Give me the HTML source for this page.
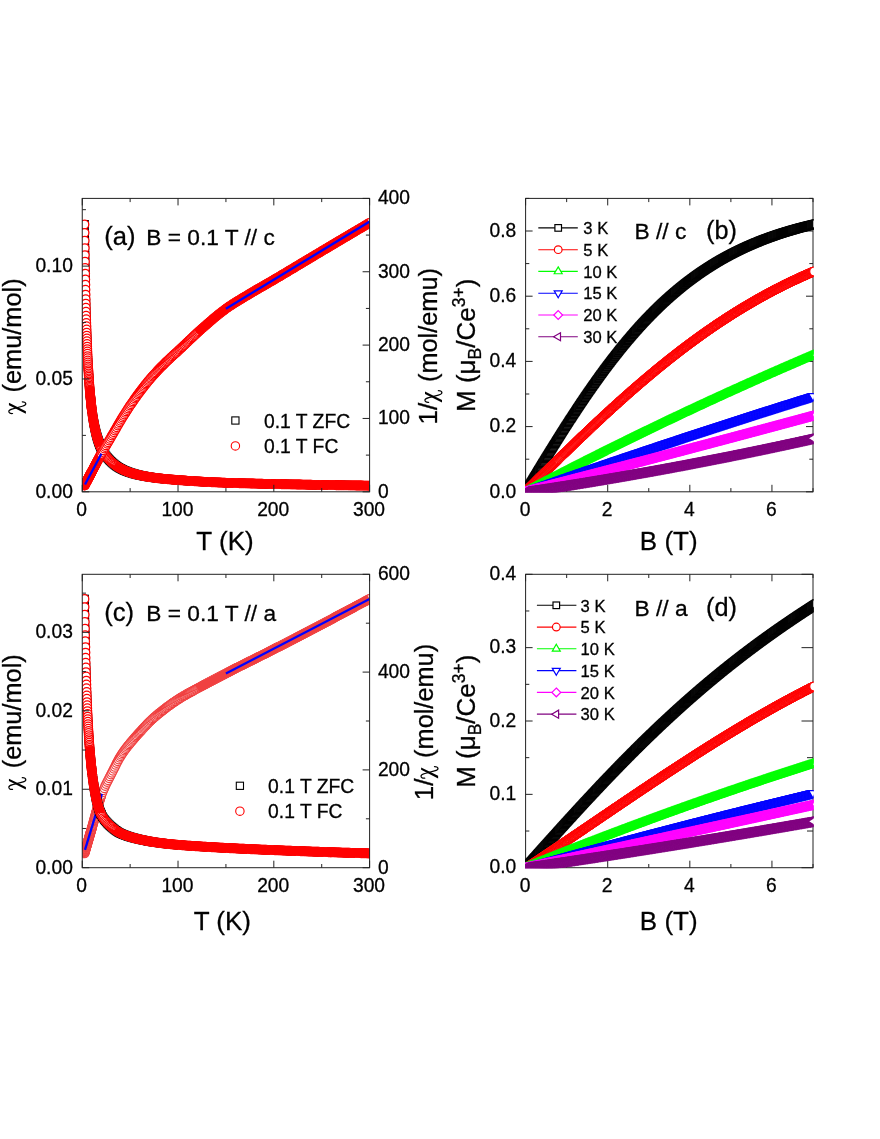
<!DOCTYPE html>
<html><head><meta charset="utf-8"><title>Figure</title>
<style>
html,body{margin:0;padding:0;background:#fff;}
svg{display:block;font-family:"Liberation Sans", sans-serif;fill:#000;}
text{stroke:#000;stroke-width:0.3px;}
</style></head>
<body>
<svg width="880" height="1139" viewBox="0 0 880 1139">
<rect width="880" height="1139" fill="#fff"/>
<defs><marker id="mSq" markerWidth="16" markerHeight="16" refX="8" refY="8" markerUnits="userSpaceOnUse"><rect x="4.25" y="4.25" width="7.5" height="7.5" fill="#fff" stroke="#000" stroke-width="1.25"/></marker><marker id="mCi" markerWidth="16" markerHeight="16" refX="8" refY="8" markerUnits="userSpaceOnUse"><circle cx="8" cy="8" r="4.3" fill="#fff" stroke="#f00" stroke-width="1.25"/></marker><marker id="mCl" markerWidth="16" markerHeight="16" refX="8" refY="8" markerUnits="userSpaceOnUse"><circle cx="8" cy="8" r="4.3" fill="#fff" stroke="#f04040" stroke-width="1.25"/></marker><marker id="mUp" markerWidth="16" markerHeight="16" refX="8" refY="8" markerUnits="userSpaceOnUse"><path d="M8 3.4L12 10.3L4 10.3Z" fill="#fff" stroke="#0f0" stroke-width="1.25"/></marker><marker id="mDn" markerWidth="16" markerHeight="16" refX="8" refY="8" markerUnits="userSpaceOnUse"><path d="M8 13L12.3 5.6L3.7 5.6Z" fill="#fff" stroke="#00f" stroke-width="1.25"/></marker><marker id="mDi" markerWidth="16" markerHeight="16" refX="8" refY="8" markerUnits="userSpaceOnUse"><path d="M8 3.5L12.5 8L8 12.5L3.5 8Z" fill="#fff" stroke="#f0f" stroke-width="1.25"/></marker><marker id="mLt" markerWidth="16" markerHeight="16" refX="8" refY="8" markerUnits="userSpaceOnUse"><path d="M3 8L10.5 3.5L10.5 12.5Z" fill="#fff" stroke="#800080" stroke-width="1.25"/></marker><g id="chi"><path d="M0.2 5.3L2.8 5.3L11.3 -12L8.9 -12Z" fill="#000"/><path d="M0.4 -8.3C0.2 -10.8 1.2 -12.2 2.7 -12.1C4.1 -12 4.6 -10.4 5.2 -8.1L7.8 1.6C8.4 3.9 9 5.3 10.3 5.2C11.6 5.1 12.3 3.6 12.3 1.6" fill="none" stroke="#000" stroke-width="1.25" stroke-linecap="round"/></g><clipPath id="clipa"><rect x="82.25" y="198.4" width="287.35" height="293.4"/></clipPath><clipPath id="clipb"><rect x="525" y="197.8" width="288.6" height="294.6"/></clipPath><clipPath id="clipc"><rect x="82.25" y="574.3" width="287.35" height="293.4"/></clipPath><clipPath id="clipd"><rect x="525" y="573.7" width="288.6" height="294.6"/></clipPath></defs>
<g opacity="0.999">
<g clip-path="url(#clipa)">
<polyline points="84.5,224.4 84.6,232.8 84.7,240.7 84.8,248.1 84.9,255.1 85,261.7 85.1,267.9 85.2,273.8 85.3,279.4 85.4,284.8 85.5,289.8 85.6,294.6 85.7,299.2 85.8,303.6 85.9,307.8 86,311.8 86.1,315.7 86.2,319.3 86.3,322.9 86.5,326.2 86.6,329.5 86.7,332.6 86.8,335.6 86.9,338.5 87,341.3 87.1,344 87.2,346.6 87.3,349.1 87.4,351.5 87.5,353.8 87.6,356.1 87.7,358.3 87.8,360.4 87.9,362.5 88,364.4 88.1,366.4 88.2,368.2 88.4,370.1 88.5,371.8 88.6,373.5 88.7,375.2 88.8,376.8 88.9,378.4 89,379.9 89.1,381.4 89.2,382.8 89.3,384.3 89.4,385.6 89.5,387 89.6,388.3 89.7,389.6 89.8,390.8 89.9,392 90,393.2 90.1,394.4 90.2,395.5 90.4,396.6 90.5,397.7 90.6,398.7 90.7,399.7 90.8,400.8 90.9,401.7 91,402.7 91.1,403.6 91.2,404.6 91.3,405.5 91.4,406.4 91.5,407.2 91.6,408.1 91.7,408.9 91.8,409.7 92.1,411.5 92.3,413.3 92.5,414.9 92.8,416.5 93,418 93.3,419.5 93.5,420.9 93.7,422.3 94,423.6 94.2,424.8 94.5,426 94.7,427.2 94.9,428.3 95.2,429.4 95.4,430.5 95.7,431.5 95.9,432.5 96.1,433.4 96.4,434.4 96.6,435.3 96.9,436.1 97.1,436.9 97.3,437.8 97.6,438.5 97.8,439.3 98.1,440 98.3,440.8 98.5,441.5 98.8,442.1 99,442.8 99.3,443.4 99.5,444 99.7,444.6 100,445.2 100.2,445.8 100.4,446.3 100.7,446.9 100.9,447.4 101.2,447.9 101.4,448.4 102.4,450.2 103.3,451.9 104.3,453.4 105.2,454.8 106.2,456.1 107.2,457.3 108.1,458.4 109.1,459.5 110,460.5 111,461.4 111.9,462.3 112.9,463.2 113.9,464 114.8,464.8 115.8,465.5 116.7,466.2 117.7,466.8 118.6,467.4 119.6,468 120.6,468.5 121.5,469 122.5,469.5 123.4,470 124.4,470.4 125.4,470.8 126.3,471.2 127.3,471.6 128.2,471.9 129.2,472.3 130.1,472.6 131.1,472.9 132.1,473.2 133,473.5 134,473.8 134.9,474 135.9,474.3 136.8,474.5 137.8,474.8 138.8,475 139.7,475.2 140.7,475.4 141.6,475.6 142.6,475.8 143.6,476 144.5,476.2 145.5,476.4 146.4,476.5 147.4,476.7 148.3,476.8 149.3,477 150.3,477.1 151.2,477.3 152.2,477.4 153.1,477.6 154.1,477.7 155,477.8 156,477.9 157,478.1 157.9,478.2 158.9,478.3 159.8,478.4 160.8,478.5 161.8,478.6 162.7,478.7 163.7,478.8 164.6,478.9 165.6,479 166.5,479.1 167.5,479.2 168.5,479.3 169.4,479.3 170.4,479.4 171.3,479.5 172.3,479.6 173.2,479.7 174.2,479.7 175.2,479.8 176.1,479.9 177.1,480 178,480 179,480.1 179.9,480.2 180.9,480.3 181.9,480.3 182.8,480.4 183.8,480.5 184.7,480.5 185.7,480.6 186.7,480.7 187.6,480.8 188.6,480.8 189.5,480.9 190.5,481 191.4,481 192.4,481.1 193.4,481.1 194.3,481.2 195.3,481.3 196.2,481.3 197.2,481.4 198.1,481.4 199.1,481.5 200.1,481.5 201,481.6 202,481.7 202.9,481.7 203.9,481.8 204.9,481.8 205.8,481.9 206.8,481.9 207.7,482 208.7,482 209.6,482.1 210.6,482.1 211.6,482.2 212.5,482.2 213.5,482.2 214.4,482.3 215.4,482.3 216.3,482.4 217.3,482.4 218.3,482.5 219.2,482.5 220.2,482.5 221.1,482.6 222.1,482.6 223.1,482.6 224,482.7 225,482.7 225.9,482.8 226.9,482.8 227.8,482.8 228.8,482.9 229.8,482.9 230.7,482.9 231.7,482.9 232.6,483 233.6,483 234.5,483 235.5,483.1 236.5,483.1 237.4,483.1 238.4,483.1 239.3,483.2 240.3,483.2 241.3,483.2 242.2,483.2 243.2,483.3 244.1,483.3 245.1,483.3 246,483.3 247,483.4 248,483.4 248.9,483.4 249.9,483.4 250.8,483.5 251.8,483.5 252.7,483.5 253.7,483.5 254.7,483.6 255.6,483.6 256.6,483.6 257.5,483.6 258.5,483.7 259.4,483.7 260.4,483.7 261.4,483.7 262.3,483.7 263.3,483.8 264.2,483.8 265.2,483.8 266.2,483.8 267.1,483.8 268.1,483.9 269,483.9 270,483.9 270.9,483.9 271.9,483.9 272.9,484 273.8,484 274.8,484 275.7,484 276.7,484.1 277.6,484.1 278.6,484.1 279.6,484.1 280.5,484.1 281.5,484.2 282.4,484.2 283.4,484.2 284.4,484.2 285.3,484.2 286.3,484.3 287.2,484.3 288.2,484.3 289.1,484.3 290.1,484.3 291.1,484.4 292,484.4 293,484.4 293.9,484.4 294.9,484.4 295.8,484.4 296.8,484.5 297.8,484.5 298.7,484.5 299.7,484.5 300.6,484.5 301.6,484.6 302.6,484.6 303.5,484.6 304.5,484.6 305.4,484.6 306.4,484.6 307.3,484.7 308.3,484.7 309.3,484.7 310.2,484.7 311.2,484.7 312.1,484.8 313.1,484.8 314,484.8 315,484.8 316,484.8 316.9,484.8 317.9,484.9 318.8,484.9 319.8,484.9 320.8,484.9 321.7,484.9 322.7,484.9 323.6,485 324.6,485 325.5,485 326.5,485 327.5,485 328.4,485 329.4,485 330.3,485.1 331.3,485.1 332.2,485.1 333.2,485.1 334.2,485.1 335.1,485.1 336.1,485.2 337,485.2 338,485.2 338.9,485.2 339.9,485.2 340.9,485.2 341.8,485.2 342.8,485.3 343.7,485.3 344.7,485.3 345.7,485.3 346.6,485.3 347.6,485.3 348.5,485.3 349.5,485.4 350.4,485.4 351.4,485.4 352.4,485.4 353.3,485.4 354.3,485.4 355.2,485.4 356.2,485.5 357.1,485.5 358.1,485.5 359.1,485.5 360,485.5 361,485.5 361.9,485.5 362.9,485.6 363.9,485.6 364.8,485.6 365.8,485.6 366.7,485.6 367.7,485.6 368.6,485.6 369.6,485.6 370.6,485.7 371.5,485.7 372.5,485.7 373.4,485.7 374.4,485.7 375.3,485.7" fill="none" stroke="none" marker-start="url(#mSq)" marker-mid="url(#mSq)" marker-end="url(#mSq)"/>
<polyline points="84.5,224.4 84.6,232.8 84.7,240.7 84.8,248.1 84.9,255.1 85,261.7 85.1,267.9 85.2,273.8 85.3,279.4 85.4,284.8 85.5,289.8 85.6,294.6 85.7,299.2 85.8,303.6 85.9,307.8 86,311.8 86.1,315.7 86.2,319.3 86.3,322.9 86.5,326.2 86.6,329.5 86.7,332.6 86.8,335.6 86.9,338.5 87,341.3 87.1,344 87.2,346.6 87.3,349.1 87.4,351.5 87.5,353.8 87.6,356.1 87.7,358.3 87.8,360.4 87.9,362.5 88,364.4 88.1,366.4 88.2,368.2 88.4,370.1 88.5,371.8 88.6,373.5 88.7,375.2 88.8,376.8 88.9,378.4 89,379.9 89.1,381.4 89.2,382.8 89.3,384.3 89.4,385.6 89.5,387 89.6,388.3 89.7,389.6 89.8,390.8 89.9,392 90,393.2 90.1,394.4 90.2,395.5 90.4,396.6 90.5,397.7 90.6,398.7 90.7,399.7 90.8,400.8 90.9,401.7 91,402.7 91.1,403.6 91.2,404.6 91.3,405.5 91.4,406.4 91.5,407.2 91.6,408.1 91.7,408.9 91.8,409.7 92.1,411.5 92.3,413.3 92.5,414.9 92.8,416.5 93,418 93.3,419.5 93.5,420.9 93.7,422.3 94,423.6 94.2,424.8 94.5,426 94.7,427.2 94.9,428.3 95.2,429.4 95.4,430.5 95.7,431.5 95.9,432.5 96.1,433.4 96.4,434.4 96.6,435.3 96.9,436.1 97.1,436.9 97.3,437.8 97.6,438.5 97.8,439.3 98.1,440 98.3,440.8 98.5,441.5 98.8,442.1 99,442.8 99.3,443.4 99.5,444 99.7,444.6 100,445.2 100.2,445.8 100.4,446.3 100.7,446.9 100.9,447.4 101.2,447.9 101.4,448.4 102.4,450.2 103.3,451.9 104.3,453.4 105.2,454.8 106.2,456.1 107.2,457.3 108.1,458.4 109.1,459.5 110,460.5 111,461.4 111.9,462.3 112.9,463.2 113.9,464 114.8,464.8 115.8,465.5 116.7,466.2 117.7,466.8 118.6,467.4 119.6,468 120.6,468.5 121.5,469 122.5,469.5 123.4,470 124.4,470.4 125.4,470.8 126.3,471.2 127.3,471.6 128.2,471.9 129.2,472.3 130.1,472.6 131.1,472.9 132.1,473.2 133,473.5 134,473.8 134.9,474 135.9,474.3 136.8,474.5 137.8,474.8 138.8,475 139.7,475.2 140.7,475.4 141.6,475.6 142.6,475.8 143.6,476 144.5,476.2 145.5,476.4 146.4,476.5 147.4,476.7 148.3,476.8 149.3,477 150.3,477.1 151.2,477.3 152.2,477.4 153.1,477.6 154.1,477.7 155,477.8 156,477.9 157,478.1 157.9,478.2 158.9,478.3 159.8,478.4 160.8,478.5 161.8,478.6 162.7,478.7 163.7,478.8 164.6,478.9 165.6,479 166.5,479.1 167.5,479.2 168.5,479.3 169.4,479.3 170.4,479.4 171.3,479.5 172.3,479.6 173.2,479.7 174.2,479.7 175.2,479.8 176.1,479.9 177.1,480 178,480 179,480.1 179.9,480.2 180.9,480.3 181.9,480.3 182.8,480.4 183.8,480.5 184.7,480.5 185.7,480.6 186.7,480.7 187.6,480.8 188.6,480.8 189.5,480.9 190.5,481 191.4,481 192.4,481.1 193.4,481.1 194.3,481.2 195.3,481.3 196.2,481.3 197.2,481.4 198.1,481.4 199.1,481.5 200.1,481.5 201,481.6 202,481.7 202.9,481.7 203.9,481.8 204.9,481.8 205.8,481.9 206.8,481.9 207.7,482 208.7,482 209.6,482.1 210.6,482.1 211.6,482.2 212.5,482.2 213.5,482.2 214.4,482.3 215.4,482.3 216.3,482.4 217.3,482.4 218.3,482.5 219.2,482.5 220.2,482.5 221.1,482.6 222.1,482.6 223.1,482.6 224,482.7 225,482.7 225.9,482.8 226.9,482.8 227.8,482.8 228.8,482.9 229.8,482.9 230.7,482.9 231.7,482.9 232.6,483 233.6,483 234.5,483 235.5,483.1 236.5,483.1 237.4,483.1 238.4,483.1 239.3,483.2 240.3,483.2 241.3,483.2 242.2,483.2 243.2,483.3 244.1,483.3 245.1,483.3 246,483.3 247,483.4 248,483.4 248.9,483.4 249.9,483.4 250.8,483.5 251.8,483.5 252.7,483.5 253.7,483.5 254.7,483.6 255.6,483.6 256.6,483.6 257.5,483.6 258.5,483.7 259.4,483.7 260.4,483.7 261.4,483.7 262.3,483.7 263.3,483.8 264.2,483.8 265.2,483.8 266.2,483.8 267.1,483.8 268.1,483.9 269,483.9 270,483.9 270.9,483.9 271.9,483.9 272.9,484 273.8,484 274.8,484 275.7,484 276.7,484.1 277.6,484.1 278.6,484.1 279.6,484.1 280.5,484.1 281.5,484.2 282.4,484.2 283.4,484.2 284.4,484.2 285.3,484.2 286.3,484.3 287.2,484.3 288.2,484.3 289.1,484.3 290.1,484.3 291.1,484.4 292,484.4 293,484.4 293.9,484.4 294.9,484.4 295.8,484.4 296.8,484.5 297.8,484.5 298.7,484.5 299.7,484.5 300.6,484.5 301.6,484.6 302.6,484.6 303.5,484.6 304.5,484.6 305.4,484.6 306.4,484.6 307.3,484.7 308.3,484.7 309.3,484.7 310.2,484.7 311.2,484.7 312.1,484.8 313.1,484.8 314,484.8 315,484.8 316,484.8 316.9,484.8 317.9,484.9 318.8,484.9 319.8,484.9 320.8,484.9 321.7,484.9 322.7,484.9 323.6,485 324.6,485 325.5,485 326.5,485 327.5,485 328.4,485 329.4,485 330.3,485.1 331.3,485.1 332.2,485.1 333.2,485.1 334.2,485.1 335.1,485.1 336.1,485.2 337,485.2 338,485.2 338.9,485.2 339.9,485.2 340.9,485.2 341.8,485.2 342.8,485.3 343.7,485.3 344.7,485.3 345.7,485.3 346.6,485.3 347.6,485.3 348.5,485.3 349.5,485.4 350.4,485.4 351.4,485.4 352.4,485.4 353.3,485.4 354.3,485.4 355.2,485.4 356.2,485.5 357.1,485.5 358.1,485.5 359.1,485.5 360,485.5 361,485.5 361.9,485.5 362.9,485.6 363.9,485.6 364.8,485.6 365.8,485.6 366.7,485.6 367.7,485.6 368.6,485.6 369.6,485.6 370.6,485.7 371.5,485.7 372.5,485.7 373.4,485.7 374.4,485.7 375.3,485.7" fill="none" stroke="none" marker-start="url(#mCi)" marker-mid="url(#mCi)" marker-end="url(#mCi)"/>
<polyline points="89.5,387 89.6,388.3 89.7,389.6 89.8,390.8 89.9,392 90,393.2 90.1,394.4 90.2,395.5 90.4,396.6 90.5,397.7 90.6,398.7 90.7,399.7 90.8,400.8 90.9,401.7 91,402.7 91.1,403.6 91.2,404.6 91.3,405.5 91.4,406.4 91.5,407.2 91.6,408.1 91.7,408.9 91.8,409.7 92.1,411.5 92.3,413.3 92.5,414.9 92.8,416.5 93,418 93.3,419.5 93.5,420.9 93.7,422.3 94,423.6 94.2,424.8 94.5,426 94.7,427.2 94.9,428.3 95.2,429.4 95.4,430.5 95.7,431.5 95.9,432.5 96.1,433.4 96.4,434.4 96.6,435.3 96.9,436.1 97.1,436.9 97.3,437.8 97.6,438.5 97.8,439.3 98.1,440 98.3,440.8 98.5,441.5 98.8,442.1 99,442.8 99.3,443.4 99.5,444 99.7,444.6 100,445.2 100.2,445.8 100.4,446.3" fill="none" stroke="#f00" stroke-width="8" stroke-linejoin="round"/>
<polyline points="114.8,464.8 115.8,465.5 116.7,466.2 117.7,466.8 118.6,467.4 119.6,468 120.6,468.5 121.5,469 122.5,469.5 123.4,470 124.4,470.4 125.4,470.8 126.3,471.2 127.3,471.6 128.2,471.9 129.2,472.3 130.1,472.6 131.1,472.9 132.1,473.2 133,473.5 134,473.8 134.9,474 135.9,474.3 136.8,474.5 137.8,474.8 138.8,475 139.7,475.2 140.7,475.4 141.6,475.6 142.6,475.8 143.6,476 144.5,476.2 145.5,476.4 146.4,476.5 147.4,476.7 148.3,476.8 149.3,477 150.3,477.1 151.2,477.3 152.2,477.4 153.1,477.6 154.1,477.7 155,477.8 156,477.9 157,478.1 157.9,478.2 158.9,478.3 159.8,478.4 160.8,478.5 161.8,478.6 162.7,478.7 163.7,478.8 164.6,478.9 165.6,479 166.5,479.1 167.5,479.2 168.5,479.3 169.4,479.3 170.4,479.4 171.3,479.5 172.3,479.6 173.2,479.7 174.2,479.7 175.2,479.8 176.1,479.9 177.1,480 178,480 179,480.1 179.9,480.2 180.9,480.3 181.9,480.3 182.8,480.4 183.8,480.5 184.7,480.5 185.7,480.6 186.7,480.7 187.6,480.8 188.6,480.8 189.5,480.9 190.5,481 191.4,481 192.4,481.1 193.4,481.1 194.3,481.2 195.3,481.3 196.2,481.3 197.2,481.4 198.1,481.4 199.1,481.5 200.1,481.5 201,481.6 202,481.7 202.9,481.7 203.9,481.8 204.9,481.8 205.8,481.9 206.8,481.9 207.7,482 208.7,482 209.6,482.1 210.6,482.1 211.6,482.2 212.5,482.2 213.5,482.2 214.4,482.3 215.4,482.3 216.3,482.4 217.3,482.4 218.3,482.5 219.2,482.5 220.2,482.5 221.1,482.6 222.1,482.6 223.1,482.6 224,482.7 225,482.7 225.9,482.8 226.9,482.8 227.8,482.8 228.8,482.9 229.8,482.9 230.7,482.9 231.7,482.9 232.6,483 233.6,483 234.5,483 235.5,483.1 236.5,483.1 237.4,483.1 238.4,483.1 239.3,483.2 240.3,483.2 241.3,483.2 242.2,483.2 243.2,483.3 244.1,483.3 245.1,483.3 246,483.3 247,483.4 248,483.4 248.9,483.4 249.9,483.4 250.8,483.5 251.8,483.5 252.7,483.5 253.7,483.5 254.7,483.6 255.6,483.6 256.6,483.6 257.5,483.6 258.5,483.7 259.4,483.7 260.4,483.7 261.4,483.7 262.3,483.7 263.3,483.8 264.2,483.8 265.2,483.8 266.2,483.8 267.1,483.8 268.1,483.9 269,483.9 270,483.9 270.9,483.9 271.9,483.9 272.9,484 273.8,484 274.8,484 275.7,484 276.7,484.1 277.6,484.1 278.6,484.1 279.6,484.1 280.5,484.1 281.5,484.2 282.4,484.2 283.4,484.2 284.4,484.2 285.3,484.2 286.3,484.3 287.2,484.3 288.2,484.3 289.1,484.3 290.1,484.3 291.1,484.4 292,484.4 293,484.4 293.9,484.4 294.9,484.4 295.8,484.4 296.8,484.5 297.8,484.5 298.7,484.5 299.7,484.5 300.6,484.5 301.6,484.6 302.6,484.6 303.5,484.6 304.5,484.6 305.4,484.6 306.4,484.6 307.3,484.7 308.3,484.7 309.3,484.7 310.2,484.7 311.2,484.7 312.1,484.8 313.1,484.8 314,484.8 315,484.8 316,484.8 316.9,484.8 317.9,484.9 318.8,484.9 319.8,484.9 320.8,484.9 321.7,484.9 322.7,484.9 323.6,485 324.6,485 325.5,485 326.5,485 327.5,485 328.4,485 329.4,485 330.3,485.1 331.3,485.1 332.2,485.1 333.2,485.1 334.2,485.1 335.1,485.1 336.1,485.2 337,485.2 338,485.2 338.9,485.2 339.9,485.2 340.9,485.2 341.8,485.2 342.8,485.3 343.7,485.3 344.7,485.3 345.7,485.3 346.6,485.3 347.6,485.3 348.5,485.3 349.5,485.4 350.4,485.4 351.4,485.4 352.4,485.4 353.3,485.4 354.3,485.4 355.2,485.4 356.2,485.5 357.1,485.5 358.1,485.5 359.1,485.5 360,485.5 361,485.5 361.9,485.5 362.9,485.6 363.9,485.6 364.8,485.6 365.8,485.6 366.7,485.6 367.7,485.6 368.6,485.6 369.6,485.6 370.6,485.7 371.5,485.7 372.5,485.7 373.4,485.7 374.4,485.7 375.3,485.7" fill="none" stroke="#f00" stroke-width="8.2" stroke-linejoin="round"/>
<polyline points="84.5,485.6 84.6,485.4 84.7,485.2 84.8,485 84.9,484.8 85,484.6 85.1,484.4 85.2,484.2 85.3,484 85.4,483.8 85.5,483.6 85.6,483.4 85.7,483.2 85.8,483 85.9,482.8 86,482.6 86.1,482.4 86.2,482.2 86.3,482 86.5,481.8 86.6,481.6 86.7,481.4 86.8,481.2 86.9,481 87,480.8 87.1,480.6 87.2,480.4 87.3,480.2 87.4,480 87.5,479.8 87.6,479.6 87.7,479.4 87.8,479.2 87.9,479 88,478.8 88.1,478.6 88.2,478.4 88.4,478.2 88.5,478 88.6,477.8 88.7,477.6 88.8,477.4 88.9,477.2 89,477 89.1,476.8 89.2,476.6 89.3,476.4 89.4,476.2 89.5,476 89.6,475.8 89.7,475.6 89.8,475.4 89.9,475.2 90,475 90.1,474.8 90.2,474.6 90.4,474.4 90.5,474.2 90.6,474 90.7,473.8 90.8,473.6 90.9,473.4 91,473.2 91.1,473 91.2,472.8 91.3,472.6 91.4,472.4 91.5,472.2 91.6,472 91.7,471.8 91.8,471.6 92.1,471.2 92.3,470.7 92.5,470.3 92.8,469.8 93,469.4 93.3,468.9 93.5,468.5 93.7,468 94,467.5 94.2,467.1 94.5,466.6 94.7,466.2 94.9,465.7 95.2,465.3 95.4,464.8 95.7,464.3 95.9,463.9 96.1,463.4 96.4,463 96.6,462.5 96.9,462.1 97.1,461.6 97.3,461.2 97.6,460.7 97.8,460.3 98.1,459.8 98.3,459.4 98.5,458.9 98.8,458.5 99,458 99.3,457.6 99.5,457.1 99.7,456.7 100,456.3 100.2,455.8 100.4,455.4 100.7,455 100.9,454.5 101.2,454.1 101.4,453.7 102.4,452 103.3,450.3 104.3,448.6 105.2,447 106.2,445.4 107.2,443.8 108.1,442.2 109.1,440.6 110,438.9 111,437.3 111.9,435.6 112.9,434 113.9,432.3 114.8,430.6 115.8,428.9 116.7,427.2 117.7,425.5 118.6,423.9 119.6,422.2 120.6,420.7 121.5,419.1 122.5,417.5 123.4,416 124.4,414.5 125.4,412.9 126.3,411.4 127.3,410 128.2,408.5 129.2,407 130.1,405.6 131.1,404.2 132.1,402.8 133,401.4 134,400 134.9,398.6 135.9,397.3 136.8,396 137.8,394.6 138.8,393.3 139.7,392 140.7,390.8 141.6,389.5 142.6,388.3 143.6,387 144.5,385.8 145.5,384.6 146.4,383.4 147.4,382.2 148.3,381.1 149.3,379.9 150.3,378.8 151.2,377.7 152.2,376.6 153.1,375.5 154.1,374.5 155,373.4 156,372.4 157,371.3 157.9,370.3 158.9,369.3 159.8,368.3 160.8,367.3 161.8,366.3 162.7,365.4 163.7,364.4 164.6,363.5 165.6,362.5 166.5,361.6 167.5,360.7 168.5,359.8 169.4,358.9 170.4,358 171.3,357.1 172.3,356.2 173.2,355.3 174.2,354.5 175.2,353.6 176.1,352.7 177.1,351.9 178,351 179,350.1 179.9,349.2 180.9,348.3 181.9,347.4 182.8,346.5 183.8,345.6 184.7,344.7 185.7,343.7 186.7,342.8 187.6,341.9 188.6,341 189.5,340.1 190.5,339.2 191.4,338.3 192.4,337.4 193.4,336.5 194.3,335.6 195.3,334.7 196.2,333.8 197.2,332.9 198.1,332 199.1,331.2 200.1,330.3 201,329.4 202,328.6 202.9,327.8 203.9,326.9 204.9,326.1 205.8,325.2 206.8,324.4 207.7,323.6 208.7,322.7 209.6,321.9 210.6,321.1 211.6,320.2 212.5,319.4 213.5,318.6 214.4,317.8 215.4,317 216.3,316.2 217.3,315.4 218.3,314.6 219.2,313.9 220.2,313.1 221.1,312.4 222.1,311.6 223.1,310.9 224,310.2 225,309.5 225.9,308.8 226.9,308.1 227.8,307.4 228.8,306.8 229.8,306.1 230.7,305.5 231.7,304.9 232.6,304.3 233.6,303.6 234.5,303 235.5,302.4 236.5,301.8 237.4,301.2 238.4,300.7 239.3,300.1 240.3,299.5 241.3,298.9 242.2,298.3 243.2,297.8 244.1,297.2 245.1,296.6 246,296.1 247,295.5 248,294.9 248.9,294.3 249.9,293.8 250.8,293.2 251.8,292.6 252.7,292 253.7,291.5 254.7,290.9 255.6,290.3 256.6,289.8 257.5,289.2 258.5,288.7 259.4,288.1 260.4,287.6 261.4,287 262.3,286.5 263.3,285.9 264.2,285.4 265.2,284.8 266.2,284.3 267.1,283.7 268.1,283.2 269,282.6 270,282.1 270.9,281.5 271.9,280.9 272.9,280.4 273.8,279.8 274.8,279.3 275.7,278.7 276.7,278.1 277.6,277.6 278.6,277 279.6,276.4 280.5,275.9 281.5,275.3 282.4,274.7 283.4,274.1 284.4,273.6 285.3,273 286.3,272.4 287.2,271.9 288.2,271.3 289.1,270.7 290.1,270.1 291.1,269.6 292,269 293,268.4 293.9,267.9 294.9,267.3 295.8,266.7 296.8,266.1 297.8,265.6 298.7,265 299.7,264.4 300.6,263.8 301.6,263.3 302.6,262.7 303.5,262.1 304.5,261.5 305.4,261 306.4,260.4 307.3,259.8 308.3,259.2 309.3,258.7 310.2,258.1 311.2,257.5 312.1,256.9 313.1,256.4 314,255.8 315,255.2 316,254.6 316.9,254.1 317.9,253.5 318.8,252.9 319.8,252.4 320.8,251.8 321.7,251.2 322.7,250.6 323.6,250.1 324.6,249.5 325.5,248.9 326.5,248.4 327.5,247.8 328.4,247.2 329.4,246.7 330.3,246.1 331.3,245.5 332.2,244.9 333.2,244.4 334.2,243.8 335.1,243.2 336.1,242.7 337,242.1 338,241.5 338.9,241 339.9,240.4 340.9,239.8 341.8,239.3 342.8,238.7 343.7,238.1 344.7,237.6 345.7,237 346.6,236.4 347.6,235.9 348.5,235.3 349.5,234.7 350.4,234.2 351.4,233.6 352.4,233 353.3,232.5 354.3,231.9 355.2,231.3 356.2,230.8 357.1,230.2 358.1,229.6 359.1,229.1 360,228.5 361,227.9 361.9,227.4 362.9,226.8 363.9,226.2 364.8,225.7 365.8,225.1 366.7,224.5 367.7,224 368.6,223.4 369.6,222.8" fill="none" stroke="none" marker-start="url(#mCi)" marker-mid="url(#mCi)" marker-end="url(#mCi)"/>
<polyline points="197.2,332.9 198.1,332 199.1,331.2 200.1,330.3 201,329.4 202,328.6 202.9,327.8 203.9,326.9 204.9,326.1 205.8,325.2 206.8,324.4 207.7,323.6 208.7,322.7 209.6,321.9 210.6,321.1 211.6,320.2 212.5,319.4 213.5,318.6 214.4,317.8 215.4,317 216.3,316.2 217.3,315.4 218.3,314.6 219.2,313.9 220.2,313.1 221.1,312.4 222.1,311.6 223.1,310.9 224,310.2 225,309.5 225.9,308.8 226.9,308.1 227.8,307.4 228.8,306.8 229.8,306.1 230.7,305.5 231.7,304.9 232.6,304.3 233.6,303.6 234.5,303 235.5,302.4 236.5,301.8 237.4,301.2 238.4,300.7 239.3,300.1 240.3,299.5 241.3,298.9 242.2,298.3 243.2,297.8 244.1,297.2 245.1,296.6 246,296.1 247,295.5 248,294.9 248.9,294.3 249.9,293.8 250.8,293.2 251.8,292.6 252.7,292 253.7,291.5 254.7,290.9 255.6,290.3 256.6,289.8 257.5,289.2 258.5,288.7 259.4,288.1 260.4,287.6 261.4,287 262.3,286.5 263.3,285.9 264.2,285.4 265.2,284.8 266.2,284.3 267.1,283.7 268.1,283.2 269,282.6 270,282.1 270.9,281.5 271.9,280.9 272.9,280.4 273.8,279.8 274.8,279.3 275.7,278.7 276.7,278.1 277.6,277.6 278.6,277 279.6,276.4 280.5,275.9 281.5,275.3 282.4,274.7 283.4,274.1 284.4,273.6 285.3,273 286.3,272.4 287.2,271.9 288.2,271.3 289.1,270.7 290.1,270.1 291.1,269.6 292,269 293,268.4 293.9,267.9 294.9,267.3 295.8,266.7 296.8,266.1 297.8,265.6 298.7,265 299.7,264.4 300.6,263.8 301.6,263.3 302.6,262.7 303.5,262.1 304.5,261.5 305.4,261 306.4,260.4 307.3,259.8 308.3,259.2 309.3,258.7 310.2,258.1 311.2,257.5 312.1,256.9 313.1,256.4 314,255.8 315,255.2 316,254.6 316.9,254.1 317.9,253.5 318.8,252.9 319.8,252.4 320.8,251.8 321.7,251.2 322.7,250.6 323.6,250.1 324.6,249.5 325.5,248.9 326.5,248.4 327.5,247.8 328.4,247.2 329.4,246.7 330.3,246.1 331.3,245.5 332.2,244.9 333.2,244.4 334.2,243.8 335.1,243.2 336.1,242.7 337,242.1 338,241.5 338.9,241 339.9,240.4 340.9,239.8 341.8,239.3 342.8,238.7 343.7,238.1 344.7,237.6 345.7,237 346.6,236.4 347.6,235.9 348.5,235.3 349.5,234.7 350.4,234.2 351.4,233.6 352.4,233 353.3,232.5 354.3,231.9 355.2,231.3 356.2,230.8 357.1,230.2 358.1,229.6 359.1,229.1 360,228.5 361,227.9 361.9,227.4 362.9,226.8 363.9,226.2 364.8,225.7 365.8,225.1 366.7,224.5 367.7,224 368.6,223.4 369.6,222.8" fill="none" stroke="#f00" stroke-width="8" stroke-linejoin="round"/>
<line x1="85" y1="484.5" x2="101.4" y2="453.7" stroke="#00f" stroke-width="2.3"/>
<line x1="225.9" y1="308.8" x2="369.6" y2="221.6" stroke="#00f" stroke-width="2.3"/>
</g>
<rect x="82.25" y="198.4" width="287.35" height="293.4" fill="none" stroke="#222" stroke-width="1.0"/>
<path d="M82.25 491.8V484.8M178.03 491.8V484.8M273.82 491.8V484.8M369.6 491.8V484.8" stroke="#222" stroke-width="1.0" fill="none"/>
<path d="M130.14 491.8V488.1M225.93 491.8V488.1M321.71 491.8V488.1" stroke="#222" stroke-width="1.0" fill="none"/>
<path d="M82.25 198.4V205.4M178.03 198.4V205.4M273.82 198.4V205.4M369.6 198.4V205.4" stroke="#222" stroke-width="1.0" fill="none"/>
<path d="M130.14 198.4V202.1M225.93 198.4V202.1M321.71 198.4V202.1" stroke="#222" stroke-width="1.0" fill="none"/>
<path d="M82.25 491.8H89.25M82.25 378.95H89.25M82.25 266.11H89.25" stroke="#222" stroke-width="1.0" fill="none"/>
<path d="M82.25 435.38H85.95M82.25 322.53H85.95M82.25 209.68H85.95" stroke="#222" stroke-width="1.0" fill="none"/>
<path d="M369.6 491.8H362.6M369.6 418.45H362.6M369.6 345.1H362.6M369.6 271.75H362.6M369.6 198.4H362.6" stroke="#222" stroke-width="1.0" fill="none"/>
<path d="M369.6 455.12H365.9M369.6 381.78H365.9M369.6 308.43H365.9M369.6 235.08H365.9" stroke="#222" stroke-width="1.0" fill="none"/>
<text transform="translate(81.65,516.2) scale(0.972,1)" font-size="19.8" text-anchor="middle" >0</text>
<text transform="translate(177.43,516.2) scale(0.972,1)" font-size="19.8" text-anchor="middle" >100</text>
<text transform="translate(273.22,516.2) scale(0.972,1)" font-size="19.8" text-anchor="middle" >200</text>
<text transform="translate(369,516.2) scale(0.972,1)" font-size="19.8" text-anchor="middle" >300</text>
<text transform="translate(72.85,497.8) scale(0.972,1)" font-size="19.8" text-anchor="end" >0.00</text>
<text transform="translate(72.85,384.95) scale(0.972,1)" font-size="19.8" text-anchor="end" >0.05</text>
<text transform="translate(72.85,272.11) scale(0.972,1)" font-size="19.8" text-anchor="end" >0.10</text>
<text transform="translate(377.9,497.8) scale(0.972,1)" font-size="19.8" text-anchor="start" >0</text>
<text transform="translate(377.9,424.45) scale(0.972,1)" font-size="19.8" text-anchor="start" >100</text>
<text transform="translate(377.9,351.1) scale(0.972,1)" font-size="19.8" text-anchor="start" >200</text>
<text transform="translate(377.9,277.75) scale(0.972,1)" font-size="19.8" text-anchor="start" >300</text>
<text transform="translate(377.9,204.4) scale(0.972,1)" font-size="19.8" text-anchor="start" >400</text>
<text x="225" y="549.8" font-size="26" text-anchor="middle" >T (K)</text>
<g transform="translate(20.7,413.9) rotate(-90)" font-size="26"><use href="#chi" transform="translate(0,0) scale(0.981)"/><text transform="translate(21.5,0) scale(0.975,1)" x="0" y="0">(emu/mol)</text></g>
<g transform="translate(436.8,424.4) rotate(-90)" font-size="26"><text x="0" y="0">1/</text><use href="#chi" transform="translate(21.7,0) scale(0.981)"/><text transform="translate(42.4,0) scale(0.975,1)" x="0" y="0">(mol/emu)</text></g>
<text x="104.3" y="245.4" font-size="25.6" text-anchor="start" >(a)</text>
<text x="146.3" y="245.4" font-size="22.7" text-anchor="start" >B = 0.1 T // c</text>
<rect x="231.8" y="416.9" width="7.2" height="7.2" fill="#fff" stroke="#000" stroke-width="1.1"/>
<circle cx="235.4" cy="445.9" r="4.2" fill="#fff" stroke="#f00" stroke-width="1.1"/>
<text x="264" y="427.5" font-size="19.3" text-anchor="start" >0.1 T ZFC</text>
<text x="264" y="452.7" font-size="19.3" text-anchor="start" >0.1 T FC</text>
<rect x="525.6" y="198.4" width="287.4" height="293.4" fill="none" stroke="#222" stroke-width="1.0"/>
<path d="M525.6 491.8V484.8M607.71 491.8V484.8M689.83 491.8V484.8M771.94 491.8V484.8" stroke="#222" stroke-width="1.0" fill="none"/>
<path d="M566.66 491.8V488.1M648.77 491.8V488.1M730.89 491.8V488.1M813 491.8V488.1" stroke="#222" stroke-width="1.0" fill="none"/>
<path d="M525.6 198.4V205.4M607.71 198.4V205.4M689.83 198.4V205.4M771.94 198.4V205.4" stroke="#222" stroke-width="1.0" fill="none"/>
<path d="M566.66 198.4V202.1M648.77 198.4V202.1M730.89 198.4V202.1M813 198.4V202.1" stroke="#222" stroke-width="1.0" fill="none"/>
<path d="M525.6 491.8H532.6M525.6 426.6H532.6M525.6 361.4H532.6M525.6 296.2H532.6M525.6 231H532.6" stroke="#222" stroke-width="1.0" fill="none"/>
<path d="M525.6 459.2H529.3M525.6 394H529.3M525.6 328.8H529.3M525.6 263.6H529.3M525.6 198.4H529.3" stroke="#222" stroke-width="1.0" fill="none"/>
<path d="M813 491.8H806M813 426.6H806M813 361.4H806M813 296.2H806M813 231H806" stroke="#222" stroke-width="1.0" fill="none"/>
<path d="M813 459.2H809.3M813 394H809.3M813 328.8H809.3M813 263.6H809.3M813 198.4H809.3" stroke="#222" stroke-width="1.0" fill="none"/>
<g clip-path="url(#clipb)">
<polyline points="525.6,491.5 526.1,490.6 526.6,489.8 527.1,488.9 527.7,488.1 528.2,487.2 528.7,486.4 529.2,485.6 529.7,484.7 530.2,483.9 530.7,483 531.2,482.2 531.8,481.3 532.3,480.5 532.8,479.6 533.3,478.8 533.8,477.9 534.3,477.1 534.8,476.3 535.4,475.4 535.9,474.6 536.4,473.7 536.9,472.9 537.4,472 537.9,471.2 538.4,470.4 538.9,469.5 539.5,468.7 540,467.8 540.5,467 541,466.2 541.5,465.3 542,464.5 542.5,463.6 543,462.8 543.6,462 544.1,461.1 544.6,460.3 545.1,459.4 545.6,458.6 546.1,457.8 546.6,456.9 547.2,456.1 547.7,455.3 548.2,454.4 548.7,453.6 549.2,452.8 549.7,452 550.2,451.1 550.7,450.3 551.3,449.5 551.8,448.6 552.3,447.8 552.8,447 553.3,446.2 553.8,445.3 554.3,444.5 554.9,443.7 555.4,442.9 555.9,442 556.4,441.2 556.9,440.4 557.4,439.6 557.9,438.8 558.4,438 559,437.1 559.5,436.3 560,435.5 560.5,434.7 561,433.9 561.5,433.1 562,432.3 562.6,431.4 563.1,430.6 563.6,429.8 564.1,429 564.6,428.2 565.1,427.4 565.6,426.6 566.1,425.8 566.7,425 567.2,424.2 567.7,423.4 568.2,422.6 568.7,421.8 569.2,421 569.7,420.2 570.2,419.4 570.8,418.6 571.3,417.9 571.8,417.1 572.3,416.3 572.8,415.5 573.3,414.7 573.8,413.9 574.4,413.1 574.9,412.4 575.4,411.6 575.9,410.8 576.4,410 576.9,409.2 577.4,408.5 577.9,407.7 578.5,406.9 579,406.1 579.5,405.4 580,404.6 580.5,403.8 581,403.1 581.5,402.3 582.1,401.5 582.6,400.8 583.1,400 583.6,399.3 584.1,398.5 584.6,397.8 585.1,397 585.6,396.2 586.2,395.5 586.7,394.7 587.2,394 587.7,393.2 588.2,392.5 588.7,391.8 589.2,391 589.8,390.3 590.3,389.5 590.8,388.8 591.3,388.1 591.8,387.3 592.3,386.6 592.8,385.9 593.3,385.1 593.9,384.4 594.4,383.7 594.9,383 595.4,382.2 595.9,381.5 596.4,380.8 596.9,380.1 597.5,379.4 598,378.6 598.5,377.9 599,377.2 599.5,376.5 600,375.8 600.5,375.1 601,374.4 601.6,373.7 602.1,373 602.6,372.3 603.1,371.6 603.6,370.9 604.1,370.2 604.6,369.5 605.1,368.8 605.7,368.1 606.2,367.4 606.7,366.7 607.2,366.1 607.7,365.4 608.2,364.7 608.7,364 609.3,363.3 609.8,362.7 610.3,362 610.8,361.3 611.3,360.6 611.8,360 612.3,359.3 612.8,358.6 613.4,358 613.9,357.3 614.4,356.7 614.9,356 615.4,355.4 615.9,354.7 616.4,354.1 617,353.4 617.5,352.8 618,352.1 618.5,351.5 619,350.8 619.5,350.2 620,349.5 620.5,348.9 621.1,348.3 621.6,347.6 622.1,347 622.6,346.4 623.1,345.8 623.6,345.1 624.1,344.5 624.7,343.9 625.2,343.3 625.7,342.6 626.2,342 626.7,341.4 627.2,340.8 627.7,340.2 628.2,339.6 628.8,339 629.3,338.4 629.8,337.8 630.3,337.2 630.8,336.6 631.3,336 631.8,335.4 632.3,334.8 632.9,334.2 633.4,333.6 633.9,333 634.4,332.4 634.9,331.8 635.4,331.3 635.9,330.7 636.5,330.1 637,329.5 637.5,329 638,328.4 638.5,327.8 639,327.2 639.5,326.7 640,326.1 640.6,325.6 641.1,325 641.6,324.4 642.1,323.9 642.6,323.3 643.1,322.8 643.6,322.2 644.2,321.7 644.7,321.1 645.2,320.6 645.7,320 646.2,319.5 646.7,319 647.2,318.4 647.7,317.9 648.3,317.4 648.8,316.8 649.3,316.3 649.8,315.8 650.3,315.2 650.8,314.7 651.3,314.2 651.9,313.7 652.4,313.2 652.9,312.6 653.4,312.1 653.9,311.6 654.4,311.1 654.9,310.6 655.4,310.1 656,309.6 656.5,309.1 657,308.6 657.5,308.1 658,307.6 658.5,307.1 659,306.6 659.5,306.1 660.1,305.6 660.6,305.1 661.1,304.6 661.6,304.1 662.1,303.7 662.6,303.2 663.1,302.7 663.7,302.2 664.2,301.7 664.7,301.3 665.2,300.8 665.7,300.3 666.2,299.9 666.7,299.4 667.2,298.9 667.8,298.5 668.3,298 668.8,297.6 669.3,297.1 669.8,296.6 670.3,296.2 670.8,295.7 671.4,295.3 671.9,294.8 672.4,294.4 672.9,293.9 673.4,293.5 673.9,293.1 674.4,292.6 674.9,292.2 675.5,291.8 676,291.3 676.5,290.9 677,290.5 677.5,290 678,289.6 678.5,289.2 679.1,288.8 679.6,288.3 680.1,287.9 680.6,287.5 681.1,287.1 681.6,286.7 682.1,286.3 682.6,285.8 683.2,285.4 683.7,285 684.2,284.6 684.7,284.2 685.2,283.8 685.7,283.4 686.2,283 686.7,282.6 687.3,282.2 687.8,281.8 688.3,281.4 688.8,281 689.3,280.7 689.8,280.3 690.3,279.9 690.9,279.5 691.4,279.1 691.9,278.7 692.4,278.4 692.9,278 693.4,277.6 693.9,277.2 694.4,276.9 695,276.5 695.5,276.1 696,275.8 696.5,275.4 697,275 697.5,274.7 698,274.3 698.6,273.9 699.1,273.6 699.6,273.2 700.1,272.9 700.6,272.5 701.1,272.2 701.6,271.8 702.1,271.5 702.7,271.1 703.2,270.8 703.7,270.4 704.2,270.1 704.7,269.8 705.2,269.4 705.7,269.1 706.3,268.7 706.8,268.4 707.3,268.1 707.8,267.7 708.3,267.4 708.8,267.1 709.3,266.8 709.8,266.4 710.4,266.1 710.9,265.8 711.4,265.5 711.9,265.1 712.4,264.8 712.9,264.5 713.4,264.2 713.9,263.9 714.5,263.6 715,263.3 715.5,262.9 716,262.6 716.5,262.3 717,262 717.5,261.7 718.1,261.4 718.6,261.1 719.1,260.8 719.6,260.5 720.1,260.2 720.6,259.9 721.1,259.6 721.6,259.3 722.2,259 722.7,258.8 723.2,258.5 723.7,258.2 724.2,257.9 724.7,257.6 725.2,257.3 725.8,257 726.3,256.8 726.8,256.5 727.3,256.2 727.8,255.9 728.3,255.7 728.8,255.4 729.3,255.1 729.9,254.8 730.4,254.6 730.9,254.3 731.4,254 731.9,253.8 732.4,253.5 732.9,253.2 733.5,253 734,252.7 734.5,252.5 735,252.2 735.5,251.9 736,251.7 736.5,251.4 737,251.2 737.6,250.9 738.1,250.7 738.6,250.4 739.1,250.2 739.6,249.9 740.1,249.7 740.6,249.4 741.2,249.2 741.7,248.9 742.2,248.7 742.7,248.5 743.2,248.2 743.7,248 744.2,247.7 744.7,247.5 745.3,247.3 745.8,247 746.3,246.8 746.8,246.6 747.3,246.3 747.8,246.1 748.3,245.9 748.8,245.7 749.4,245.4 749.9,245.2 750.4,245 750.9,244.8 751.4,244.5 751.9,244.3 752.4,244.1 753,243.9 753.5,243.7 754,243.4 754.5,243.2 755,243 755.5,242.8 756,242.6 756.5,242.4 757.1,242.2 757.6,242 758.1,241.8 758.6,241.5 759.1,241.3 759.6,241.1 760.1,240.9 760.7,240.7 761.2,240.5 761.7,240.3 762.2,240.1 762.7,239.9 763.2,239.7 763.7,239.5 764.2,239.3 764.8,239.1 765.3,238.9 765.8,238.8 766.3,238.6 766.8,238.4 767.3,238.2 767.8,238 768.4,237.8 768.9,237.6 769.4,237.4 769.9,237.2 770.4,237.1 770.9,236.9 771.4,236.7 771.9,236.5 772.5,236.3 773,236.2 773.5,236 774,235.8 774.5,235.6 775,235.4 775.5,235.3 776,235.1 776.6,234.9 777.1,234.7 777.6,234.6 778.1,234.4 778.6,234.2 779.1,234.1 779.6,233.9 780.2,233.7 780.7,233.6 781.2,233.4 781.7,233.2 782.2,233.1 782.7,232.9 783.2,232.7 783.7,232.6 784.3,232.4 784.8,232.3 785.3,232.1 785.8,231.9 786.3,231.8 786.8,231.6 787.3,231.5 787.9,231.3 788.4,231.2 788.9,231 789.4,230.9 789.9,230.7 790.4,230.5 790.9,230.4 791.4,230.2 792,230.1 792.5,230 793,229.8 793.5,229.7 794,229.5 794.5,229.4 795,229.2 795.6,229.1 796.1,228.9 796.6,228.8 797.1,228.6 797.6,228.5 798.1,228.4 798.6,228.2 799.1,228.1 799.7,227.9 800.2,227.8 800.7,227.7 801.2,227.5 801.7,227.4 802.2,227.3 802.7,227.1 803.2,227 803.8,226.9 804.3,226.7 804.8,226.6 805.3,226.5 805.8,226.3 806.3,226.2 806.8,226.1 807.4,226 807.9,225.8 808.4,225.7 808.9,225.6 809.4,225.4 809.9,225.3 810.4,225.2 810.9,225.1 811.5,225 812,224.8 812.5,224.7 813,224.6 813.5,224.5 814,224.3 814.5,224.2 815.1,224.1 815.6,224 816.1,223.9 816.6,223.8" fill="none" stroke="none" marker-start="url(#mSq)" marker-mid="url(#mSq)" marker-end="url(#mSq)"/>
<polyline points="525.6,491.5 526.1,491 526.6,490.5 527.1,490 527.7,489.4 528.2,488.9 528.7,488.4 529.2,487.9 529.7,487.4 530.2,486.9 530.7,486.4 531.2,485.9 531.8,485.4 532.3,484.9 532.8,484.4 533.3,483.9 533.8,483.4 534.3,482.9 534.8,482.4 535.4,481.8 535.9,481.3 536.4,480.8 536.9,480.3 537.4,479.8 537.9,479.3 538.4,478.8 538.9,478.3 539.5,477.8 540,477.3 540.5,476.8 541,476.3 541.5,475.8 542,475.3 542.5,474.8 543,474.3 543.6,473.7 544.1,473.2 544.6,472.7 545.1,472.2 545.6,471.7 546.1,471.2 546.6,470.7 547.2,470.2 547.7,469.7 548.2,469.2 548.7,468.7 549.2,468.2 549.7,467.7 550.2,467.2 550.7,466.7 551.3,466.2 551.8,465.7 552.3,465.2 552.8,464.7 553.3,464.2 553.8,463.7 554.3,463.2 554.9,462.7 555.4,462.2 555.9,461.7 556.4,461.2 556.9,460.7 557.4,460.2 557.9,459.7 558.4,459.2 559,458.6 559.5,458.1 560,457.6 560.5,457.1 561,456.6 561.5,456.1 562,455.6 562.6,455.1 563.1,454.6 563.6,454.1 564.1,453.6 564.6,453.2 565.1,452.7 565.6,452.2 566.1,451.7 566.7,451.2 567.2,450.7 567.7,450.2 568.2,449.7 568.7,449.2 569.2,448.7 569.7,448.2 570.2,447.7 570.8,447.2 571.3,446.7 571.8,446.2 572.3,445.7 572.8,445.2 573.3,444.7 573.8,444.2 574.4,443.7 574.9,443.2 575.4,442.7 575.9,442.2 576.4,441.7 576.9,441.2 577.4,440.8 577.9,440.3 578.5,439.8 579,439.3 579.5,438.8 580,438.3 580.5,437.8 581,437.3 581.5,436.8 582.1,436.3 582.6,435.8 583.1,435.4 583.6,434.9 584.1,434.4 584.6,433.9 585.1,433.4 585.6,432.9 586.2,432.4 586.7,431.9 587.2,431.5 587.7,431 588.2,430.5 588.7,430 589.2,429.5 589.8,429 590.3,428.5 590.8,428.1 591.3,427.6 591.8,427.1 592.3,426.6 592.8,426.1 593.3,425.6 593.9,425.2 594.4,424.7 594.9,424.2 595.4,423.7 595.9,423.2 596.4,422.7 596.9,422.3 597.5,421.8 598,421.3 598.5,420.8 599,420.4 599.5,419.9 600,419.4 600.5,418.9 601,418.4 601.6,418 602.1,417.5 602.6,417 603.1,416.5 603.6,416.1 604.1,415.6 604.6,415.1 605.1,414.6 605.7,414.2 606.2,413.7 606.7,413.2 607.2,412.7 607.7,412.3 608.2,411.8 608.7,411.3 609.3,410.9 609.8,410.4 610.3,409.9 610.8,409.5 611.3,409 611.8,408.5 612.3,408.1 612.8,407.6 613.4,407.1 613.9,406.7 614.4,406.2 614.9,405.7 615.4,405.3 615.9,404.8 616.4,404.3 617,403.9 617.5,403.4 618,402.9 618.5,402.5 619,402 619.5,401.6 620,401.1 620.5,400.6 621.1,400.2 621.6,399.7 622.1,399.3 622.6,398.8 623.1,398.3 623.6,397.9 624.1,397.4 624.7,397 625.2,396.5 625.7,396.1 626.2,395.6 626.7,395.1 627.2,394.7 627.7,394.2 628.2,393.8 628.8,393.3 629.3,392.9 629.8,392.4 630.3,392 630.8,391.5 631.3,391.1 631.8,390.6 632.3,390.2 632.9,389.7 633.4,389.3 633.9,388.8 634.4,388.4 634.9,387.9 635.4,387.5 635.9,387 636.5,386.6 637,386.2 637.5,385.7 638,385.3 638.5,384.8 639,384.4 639.5,383.9 640,383.5 640.6,383.1 641.1,382.6 641.6,382.2 642.1,381.7 642.6,381.3 643.1,380.9 643.6,380.4 644.2,380 644.7,379.6 645.2,379.1 645.7,378.7 646.2,378.3 646.7,377.8 647.2,377.4 647.7,377 648.3,376.5 648.8,376.1 649.3,375.7 649.8,375.2 650.3,374.8 650.8,374.4 651.3,373.9 651.9,373.5 652.4,373.1 652.9,372.7 653.4,372.2 653.9,371.8 654.4,371.4 654.9,371 655.4,370.5 656,370.1 656.5,369.7 657,369.3 657.5,368.8 658,368.4 658.5,368 659,367.6 659.5,367.2 660.1,366.8 660.6,366.3 661.1,365.9 661.6,365.5 662.1,365.1 662.6,364.7 663.1,364.3 663.7,363.8 664.2,363.4 664.7,363 665.2,362.6 665.7,362.2 666.2,361.8 666.7,361.4 667.2,361 667.8,360.5 668.3,360.1 668.8,359.7 669.3,359.3 669.8,358.9 670.3,358.5 670.8,358.1 671.4,357.7 671.9,357.3 672.4,356.9 672.9,356.5 673.4,356.1 673.9,355.7 674.4,355.3 674.9,354.9 675.5,354.5 676,354.1 676.5,353.7 677,353.3 677.5,352.9 678,352.5 678.5,352.1 679.1,351.7 679.6,351.3 680.1,350.9 680.6,350.5 681.1,350.1 681.6,349.7 682.1,349.3 682.6,349 683.2,348.6 683.7,348.2 684.2,347.8 684.7,347.4 685.2,347 685.7,346.6 686.2,346.2 686.7,345.9 687.3,345.5 687.8,345.1 688.3,344.7 688.8,344.3 689.3,343.9 689.8,343.6 690.3,343.2 690.9,342.8 691.4,342.4 691.9,342 692.4,341.7 692.9,341.3 693.4,340.9 693.9,340.5 694.4,340.2 695,339.8 695.5,339.4 696,339 696.5,338.7 697,338.3 697.5,337.9 698,337.5 698.6,337.2 699.1,336.8 699.6,336.4 700.1,336.1 700.6,335.7 701.1,335.3 701.6,335 702.1,334.6 702.7,334.2 703.2,333.9 703.7,333.5 704.2,333.1 704.7,332.8 705.2,332.4 705.7,332.1 706.3,331.7 706.8,331.3 707.3,331 707.8,330.6 708.3,330.3 708.8,329.9 709.3,329.6 709.8,329.2 710.4,328.9 710.9,328.5 711.4,328.1 711.9,327.8 712.4,327.4 712.9,327.1 713.4,326.7 713.9,326.4 714.5,326 715,325.7 715.5,325.3 716,325 716.5,324.7 717,324.3 717.5,324 718.1,323.6 718.6,323.3 719.1,322.9 719.6,322.6 720.1,322.2 720.6,321.9 721.1,321.6 721.6,321.2 722.2,320.9 722.7,320.6 723.2,320.2 723.7,319.9 724.2,319.5 724.7,319.2 725.2,318.9 725.8,318.5 726.3,318.2 726.8,317.9 727.3,317.5 727.8,317.2 728.3,316.9 728.8,316.6 729.3,316.2 729.9,315.9 730.4,315.6 730.9,315.2 731.4,314.9 731.9,314.6 732.4,314.3 732.9,313.9 733.5,313.6 734,313.3 734.5,313 735,312.7 735.5,312.3 736,312 736.5,311.7 737,311.4 737.6,311.1 738.1,310.7 738.6,310.4 739.1,310.1 739.6,309.8 740.1,309.5 740.6,309.2 741.2,308.9 741.7,308.5 742.2,308.2 742.7,307.9 743.2,307.6 743.7,307.3 744.2,307 744.7,306.7 745.3,306.4 745.8,306.1 746.3,305.8 746.8,305.5 747.3,305.2 747.8,304.9 748.3,304.6 748.8,304.3 749.4,304 749.9,303.7 750.4,303.4 750.9,303.1 751.4,302.8 751.9,302.5 752.4,302.2 753,301.9 753.5,301.6 754,301.3 754.5,301 755,300.7 755.5,300.4 756,300.1 756.5,299.8 757.1,299.5 757.6,299.2 758.1,298.9 758.6,298.6 759.1,298.4 759.6,298.1 760.1,297.8 760.7,297.5 761.2,297.2 761.7,296.9 762.2,296.6 762.7,296.4 763.2,296.1 763.7,295.8 764.2,295.5 764.8,295.2 765.3,295 765.8,294.7 766.3,294.4 766.8,294.1 767.3,293.8 767.8,293.6 768.4,293.3 768.9,293 769.4,292.7 769.9,292.5 770.4,292.2 770.9,291.9 771.4,291.6 771.9,291.4 772.5,291.1 773,290.8 773.5,290.6 774,290.3 774.5,290 775,289.8 775.5,289.5 776,289.2 776.6,289 777.1,288.7 777.6,288.4 778.1,288.2 778.6,287.9 779.1,287.7 779.6,287.4 780.2,287.1 780.7,286.9 781.2,286.6 781.7,286.4 782.2,286.1 782.7,285.8 783.2,285.6 783.7,285.3 784.3,285.1 784.8,284.8 785.3,284.6 785.8,284.3 786.3,284.1 786.8,283.8 787.3,283.6 787.9,283.3 788.4,283.1 788.9,282.8 789.4,282.6 789.9,282.3 790.4,282.1 790.9,281.8 791.4,281.6 792,281.3 792.5,281.1 793,280.8 793.5,280.6 794,280.4 794.5,280.1 795,279.9 795.6,279.6 796.1,279.4 796.6,279.2 797.1,278.9 797.6,278.7 798.1,278.4 798.6,278.2 799.1,278 799.7,277.7 800.2,277.5 800.7,277.3 801.2,277 801.7,276.8 802.2,276.6 802.7,276.3 803.2,276.1 803.8,275.9 804.3,275.7 804.8,275.4 805.3,275.2 805.8,275 806.3,274.7 806.8,274.5 807.4,274.3 807.9,274.1 808.4,273.8 808.9,273.6 809.4,273.4 809.9,273.2 810.4,273 810.9,272.7 811.5,272.5 812,272.3 812.5,272.1 813,271.9 813.5,271.6 814,271.4" fill="none" stroke="none" marker-start="url(#mCi)" marker-mid="url(#mCi)" marker-end="url(#mCi)"/>
<polyline points="525.6,491.8 526.1,491.5 526.6,491.3 527.1,491 527.7,490.7 528.2,490.5 528.7,490.2 529.2,489.9 529.7,489.6 530.2,489.4 530.7,489.1 531.2,488.8 531.8,488.6 532.3,488.3 532.8,488 533.3,487.8 533.8,487.5 534.3,487.2 534.8,487 535.4,486.7 535.9,486.4 536.4,486.2 536.9,485.9 537.4,485.6 537.9,485.4 538.4,485.1 538.9,484.8 539.5,484.6 540,484.3 540.5,484 541,483.8 541.5,483.5 542,483.2 542.5,483 543,482.7 543.6,482.4 544.1,482.2 544.6,481.9 545.1,481.6 545.6,481.4 546.1,481.1 546.6,480.8 547.2,480.6 547.7,480.3 548.2,480 548.7,479.8 549.2,479.5 549.7,479.2 550.2,479 550.7,478.7 551.3,478.4 551.8,478.2 552.3,477.9 552.8,477.6 553.3,477.4 553.8,477.1 554.3,476.9 554.9,476.6 555.4,476.3 555.9,476.1 556.4,475.8 556.9,475.5 557.4,475.3 557.9,475 558.4,474.7 559,474.5 559.5,474.2 560,474 560.5,473.7 561,473.4 561.5,473.2 562,472.9 562.6,472.6 563.1,472.4 563.6,472.1 564.1,471.8 564.6,471.6 565.1,471.3 565.6,471.1 566.1,470.8 566.7,470.5 567.2,470.3 567.7,470 568.2,469.7 568.7,469.5 569.2,469.2 569.7,469 570.2,468.7 570.8,468.4 571.3,468.2 571.8,467.9 572.3,467.7 572.8,467.4 573.3,467.1 573.8,466.9 574.4,466.6 574.9,466.4 575.4,466.1 575.9,465.8 576.4,465.6 576.9,465.3 577.4,465.1 577.9,464.8 578.5,464.5 579,464.3 579.5,464 580,463.8 580.5,463.5 581,463.2 581.5,463 582.1,462.7 582.6,462.5 583.1,462.2 583.6,461.9 584.1,461.7 584.6,461.4 585.1,461.2 585.6,460.9 586.2,460.6 586.7,460.4 587.2,460.1 587.7,459.9 588.2,459.6 588.7,459.3 589.2,459.1 589.8,458.8 590.3,458.6 590.8,458.3 591.3,458.1 591.8,457.8 592.3,457.5 592.8,457.3 593.3,457 593.9,456.8 594.4,456.5 594.9,456.3 595.4,456 595.9,455.7 596.4,455.5 596.9,455.2 597.5,455 598,454.7 598.5,454.5 599,454.2 599.5,453.9 600,453.7 600.5,453.4 601,453.2 601.6,452.9 602.1,452.7 602.6,452.4 603.1,452.2 603.6,451.9 604.1,451.6 604.6,451.4 605.1,451.1 605.7,450.9 606.2,450.6 606.7,450.4 607.2,450.1 607.7,449.9 608.2,449.6 608.7,449.3 609.3,449.1 609.8,448.8 610.3,448.6 610.8,448.3 611.3,448.1 611.8,447.8 612.3,447.6 612.8,447.3 613.4,447.1 613.9,446.8 614.4,446.6 614.9,446.3 615.4,446 615.9,445.8 616.4,445.5 617,445.3 617.5,445 618,444.8 618.5,444.5 619,444.3 619.5,444 620,443.8 620.5,443.5 621.1,443.3 621.6,443 622.1,442.8 622.6,442.5 623.1,442.3 623.6,442 624.1,441.7 624.7,441.5 625.2,441.2 625.7,441 626.2,440.7 626.7,440.5 627.2,440.2 627.7,440 628.2,439.7 628.8,439.5 629.3,439.2 629.8,439 630.3,438.7 630.8,438.5 631.3,438.2 631.8,438 632.3,437.7 632.9,437.5 633.4,437.2 633.9,437 634.4,436.7 634.9,436.5 635.4,436.2 635.9,436 636.5,435.7 637,435.5 637.5,435.2 638,435 638.5,434.7 639,434.5 639.5,434.2 640,434 640.6,433.7 641.1,433.5 641.6,433.2 642.1,433 642.6,432.7 643.1,432.5 643.6,432.2 644.2,432 644.7,431.7 645.2,431.5 645.7,431.3 646.2,431 646.7,430.8 647.2,430.5 647.7,430.3 648.3,430 648.8,429.8 649.3,429.5 649.8,429.3 650.3,429 650.8,428.8 651.3,428.5 651.9,428.3 652.4,428 652.9,427.8 653.4,427.5 653.9,427.3 654.4,427 654.9,426.8 655.4,426.6 656,426.3 656.5,426.1 657,425.8 657.5,425.6 658,425.3 658.5,425.1 659,424.8 659.5,424.6 660.1,424.3 660.6,424.1 661.1,423.9 661.6,423.6 662.1,423.4 662.6,423.1 663.1,422.9 663.7,422.6 664.2,422.4 664.7,422.1 665.2,421.9 665.7,421.6 666.2,421.4 666.7,421.2 667.2,420.9 667.8,420.7 668.3,420.4 668.8,420.2 669.3,419.9 669.8,419.7 670.3,419.5 670.8,419.2 671.4,419 671.9,418.7 672.4,418.5 672.9,418.2 673.4,418 673.9,417.7 674.4,417.5 674.9,417.3 675.5,417 676,416.8 676.5,416.5 677,416.3 677.5,416.1 678,415.8 678.5,415.6 679.1,415.3 679.6,415.1 680.1,414.8 680.6,414.6 681.1,414.4 681.6,414.1 682.1,413.9 682.6,413.6 683.2,413.4 683.7,413.1 684.2,412.9 684.7,412.7 685.2,412.4 685.7,412.2 686.2,411.9 686.7,411.7 687.3,411.5 687.8,411.2 688.3,411 688.8,410.7 689.3,410.5 689.8,410.3 690.3,410 690.9,409.8 691.4,409.5 691.9,409.3 692.4,409.1 692.9,408.8 693.4,408.6 693.9,408.3 694.4,408.1 695,407.9 695.5,407.6 696,407.4 696.5,407.1 697,406.9 697.5,406.7 698,406.4 698.6,406.2 699.1,406 699.6,405.7 700.1,405.5 700.6,405.2 701.1,405 701.6,404.8 702.1,404.5 702.7,404.3 703.2,404 703.7,403.8 704.2,403.6 704.7,403.3 705.2,403.1 705.7,402.9 706.3,402.6 706.8,402.4 707.3,402.1 707.8,401.9 708.3,401.7 708.8,401.4 709.3,401.2 709.8,401 710.4,400.7 710.9,400.5 711.4,400.3 711.9,400 712.4,399.8 712.9,399.5 713.4,399.3 713.9,399.1 714.5,398.8 715,398.6 715.5,398.4 716,398.1 716.5,397.9 717,397.7 717.5,397.4 718.1,397.2 718.6,397 719.1,396.7 719.6,396.5 720.1,396.3 720.6,396 721.1,395.8 721.6,395.5 722.2,395.3 722.7,395.1 723.2,394.8 723.7,394.6 724.2,394.4 724.7,394.1 725.2,393.9 725.8,393.7 726.3,393.4 726.8,393.2 727.3,393 727.8,392.7 728.3,392.5 728.8,392.3 729.3,392 729.9,391.8 730.4,391.6 730.9,391.3 731.4,391.1 731.9,390.9 732.4,390.6 732.9,390.4 733.5,390.2 734,389.9 734.5,389.7 735,389.5 735.5,389.3 736,389 736.5,388.8 737,388.6 737.6,388.3 738.1,388.1 738.6,387.9 739.1,387.6 739.6,387.4 740.1,387.2 740.6,386.9 741.2,386.7 741.7,386.5 742.2,386.2 742.7,386 743.2,385.8 743.7,385.6 744.2,385.3 744.7,385.1 745.3,384.9 745.8,384.6 746.3,384.4 746.8,384.2 747.3,383.9 747.8,383.7 748.3,383.5 748.8,383.3 749.4,383 749.9,382.8 750.4,382.6 750.9,382.3 751.4,382.1 751.9,381.9 752.4,381.6 753,381.4 753.5,381.2 754,381 754.5,380.7 755,380.5 755.5,380.3 756,380 756.5,379.8 757.1,379.6 757.6,379.4 758.1,379.1 758.6,378.9 759.1,378.7 759.6,378.4 760.1,378.2 760.7,378 761.2,377.8 761.7,377.5 762.2,377.3 762.7,377.1 763.2,376.9 763.7,376.6 764.2,376.4 764.8,376.2 765.3,376 765.8,375.7 766.3,375.5 766.8,375.3 767.3,375 767.8,374.8 768.4,374.6 768.9,374.4 769.4,374.1 769.9,373.9 770.4,373.7 770.9,373.5 771.4,373.2 771.9,373 772.5,372.8 773,372.6 773.5,372.3 774,372.1 774.5,371.9 775,371.7 775.5,371.4 776,371.2 776.6,371 777.1,370.8 777.6,370.5 778.1,370.3 778.6,370.1 779.1,369.9 779.6,369.6 780.2,369.4 780.7,369.2 781.2,369 781.7,368.7 782.2,368.5 782.7,368.3 783.2,368.1 783.7,367.9 784.3,367.6 784.8,367.4 785.3,367.2 785.8,367 786.3,366.7 786.8,366.5 787.3,366.3 787.9,366.1 788.4,365.8 788.9,365.6 789.4,365.4 789.9,365.2 790.4,365 790.9,364.7 791.4,364.5 792,364.3 792.5,364.1 793,363.8 793.5,363.6 794,363.4 794.5,363.2 795,363 795.6,362.7 796.1,362.5 796.6,362.3 797.1,362.1 797.6,361.9 798.1,361.6 798.6,361.4 799.1,361.2 799.7,361 800.2,360.7 800.7,360.5 801.2,360.3 801.7,360.1 802.2,359.9 802.7,359.6 803.2,359.4 803.8,359.2 804.3,359 804.8,358.8 805.3,358.6 805.8,358.3 806.3,358.1 806.8,357.9 807.4,357.7 807.9,357.5 808.4,357.2 808.9,357 809.4,356.8 809.9,356.6 810.4,356.4 810.9,356.1 811.5,355.9 812,355.7 812.5,355.5 813,355.3 813.5,355 814,354.8 814.5,354.6 815.1,354.4 815.6,354.2 816.1,354 816.6,353.7" fill="none" stroke="none" marker-start="url(#mUp)" marker-mid="url(#mUp)" marker-end="url(#mUp)"/>
<polyline points="525.6,491.8 526.1,491.6 526.6,491.4 527.1,491.3 527.7,491.1 528.2,490.9 528.7,490.7 529.2,490.5 529.7,490.3 530.2,490.2 530.7,490 531.2,489.8 531.8,489.6 532.3,489.4 532.8,489.3 533.3,489.1 533.8,488.9 534.3,488.7 534.8,488.5 535.4,488.4 535.9,488.2 536.4,488 536.9,487.8 537.4,487.6 537.9,487.4 538.4,487.3 538.9,487.1 539.5,486.9 540,486.7 540.5,486.5 541,486.4 541.5,486.2 542,486 542.5,485.8 543,485.6 543.6,485.5 544.1,485.3 544.6,485.1 545.1,484.9 545.6,484.7 546.1,484.6 546.6,484.4 547.2,484.2 547.7,484 548.2,483.8 548.7,483.7 549.2,483.5 549.7,483.3 550.2,483.1 550.7,482.9 551.3,482.8 551.8,482.6 552.3,482.4 552.8,482.2 553.3,482 553.8,481.9 554.3,481.7 554.9,481.5 555.4,481.3 555.9,481.1 556.4,481 556.9,480.8 557.4,480.6 557.9,480.4 558.4,480.2 559,480.1 559.5,479.9 560,479.7 560.5,479.5 561,479.3 561.5,479.2 562,479 562.6,478.8 563.1,478.6 563.6,478.5 564.1,478.3 564.6,478.1 565.1,477.9 565.6,477.7 566.1,477.6 566.7,477.4 567.2,477.2 567.7,477 568.2,476.8 568.7,476.7 569.2,476.5 569.7,476.3 570.2,476.1 570.8,475.9 571.3,475.8 571.8,475.6 572.3,475.4 572.8,475.2 573.3,475.1 573.8,474.9 574.4,474.7 574.9,474.5 575.4,474.3 575.9,474.2 576.4,474 576.9,473.8 577.4,473.6 577.9,473.5 578.5,473.3 579,473.1 579.5,472.9 580,472.7 580.5,472.6 581,472.4 581.5,472.2 582.1,472 582.6,471.9 583.1,471.7 583.6,471.5 584.1,471.3 584.6,471.1 585.1,471 585.6,470.8 586.2,470.6 586.7,470.4 587.2,470.3 587.7,470.1 588.2,469.9 588.7,469.7 589.2,469.6 589.8,469.4 590.3,469.2 590.8,469 591.3,468.8 591.8,468.7 592.3,468.5 592.8,468.3 593.3,468.1 593.9,468 594.4,467.8 594.9,467.6 595.4,467.4 595.9,467.3 596.4,467.1 596.9,466.9 597.5,466.7 598,466.5 598.5,466.4 599,466.2 599.5,466 600,465.8 600.5,465.7 601,465.5 601.6,465.3 602.1,465.1 602.6,465 603.1,464.8 603.6,464.6 604.1,464.4 604.6,464.3 605.1,464.1 605.7,463.9 606.2,463.7 606.7,463.6 607.2,463.4 607.7,463.2 608.2,463 608.7,462.9 609.3,462.7 609.8,462.5 610.3,462.3 610.8,462.2 611.3,462 611.8,461.8 612.3,461.6 612.8,461.5 613.4,461.3 613.9,461.1 614.4,460.9 614.9,460.8 615.4,460.6 615.9,460.4 616.4,460.2 617,460.1 617.5,459.9 618,459.7 618.5,459.5 619,459.4 619.5,459.2 620,459 620.5,458.8 621.1,458.7 621.6,458.5 622.1,458.3 622.6,458.1 623.1,458 623.6,457.8 624.1,457.6 624.7,457.4 625.2,457.3 625.7,457.1 626.2,456.9 626.7,456.7 627.2,456.6 627.7,456.4 628.2,456.2 628.8,456 629.3,455.9 629.8,455.7 630.3,455.5 630.8,455.3 631.3,455.2 631.8,455 632.3,454.8 632.9,454.7 633.4,454.5 633.9,454.3 634.4,454.1 634.9,454 635.4,453.8 635.9,453.6 636.5,453.4 637,453.3 637.5,453.1 638,452.9 638.5,452.7 639,452.6 639.5,452.4 640,452.2 640.6,452.1 641.1,451.9 641.6,451.7 642.1,451.5 642.6,451.4 643.1,451.2 643.6,451 644.2,450.8 644.7,450.7 645.2,450.5 645.7,450.3 646.2,450.1 646.7,450 647.2,449.8 647.7,449.6 648.3,449.5 648.8,449.3 649.3,449.1 649.8,448.9 650.3,448.8 650.8,448.6 651.3,448.4 651.9,448.3 652.4,448.1 652.9,447.9 653.4,447.7 653.9,447.6 654.4,447.4 654.9,447.2 655.4,447 656,446.9 656.5,446.7 657,446.5 657.5,446.4 658,446.2 658.5,446 659,445.8 659.5,445.7 660.1,445.5 660.6,445.3 661.1,445.2 661.6,445 662.1,444.8 662.6,444.6 663.1,444.5 663.7,444.3 664.2,444.1 664.7,444 665.2,443.8 665.7,443.6 666.2,443.4 666.7,443.3 667.2,443.1 667.8,442.9 668.3,442.8 668.8,442.6 669.3,442.4 669.8,442.2 670.3,442.1 670.8,441.9 671.4,441.7 671.9,441.6 672.4,441.4 672.9,441.2 673.4,441.1 673.9,440.9 674.4,440.7 674.9,440.5 675.5,440.4 676,440.2 676.5,440 677,439.9 677.5,439.7 678,439.5 678.5,439.4 679.1,439.2 679.6,439 680.1,438.8 680.6,438.7 681.1,438.5 681.6,438.3 682.1,438.2 682.6,438 683.2,437.8 683.7,437.7 684.2,437.5 684.7,437.3 685.2,437.1 685.7,437 686.2,436.8 686.7,436.6 687.3,436.5 687.8,436.3 688.3,436.1 688.8,436 689.3,435.8 689.8,435.6 690.3,435.4 690.9,435.3 691.4,435.1 691.9,434.9 692.4,434.8 692.9,434.6 693.4,434.4 693.9,434.3 694.4,434.1 695,433.9 695.5,433.8 696,433.6 696.5,433.4 697,433.3 697.5,433.1 698,432.9 698.6,432.7 699.1,432.6 699.6,432.4 700.1,432.2 700.6,432.1 701.1,431.9 701.6,431.7 702.1,431.6 702.7,431.4 703.2,431.2 703.7,431.1 704.2,430.9 704.7,430.7 705.2,430.6 705.7,430.4 706.3,430.2 706.8,430.1 707.3,429.9 707.8,429.7 708.3,429.5 708.8,429.4 709.3,429.2 709.8,429 710.4,428.9 710.9,428.7 711.4,428.5 711.9,428.4 712.4,428.2 712.9,428 713.4,427.9 713.9,427.7 714.5,427.5 715,427.4 715.5,427.2 716,427 716.5,426.9 717,426.7 717.5,426.5 718.1,426.4 718.6,426.2 719.1,426 719.6,425.9 720.1,425.7 720.6,425.5 721.1,425.4 721.6,425.2 722.2,425 722.7,424.9 723.2,424.7 723.7,424.5 724.2,424.4 724.7,424.2 725.2,424 725.8,423.9 726.3,423.7 726.8,423.5 727.3,423.4 727.8,423.2 728.3,423 728.8,422.9 729.3,422.7 729.9,422.5 730.4,422.4 730.9,422.2 731.4,422 731.9,421.9 732.4,421.7 732.9,421.5 733.5,421.4 734,421.2 734.5,421 735,420.9 735.5,420.7 736,420.5 736.5,420.4 737,420.2 737.6,420 738.1,419.9 738.6,419.7 739.1,419.5 739.6,419.4 740.1,419.2 740.6,419 741.2,418.9 741.7,418.7 742.2,418.6 742.7,418.4 743.2,418.2 743.7,418.1 744.2,417.9 744.7,417.7 745.3,417.6 745.8,417.4 746.3,417.2 746.8,417.1 747.3,416.9 747.8,416.7 748.3,416.6 748.8,416.4 749.4,416.2 749.9,416.1 750.4,415.9 750.9,415.7 751.4,415.6 751.9,415.4 752.4,415.3 753,415.1 753.5,414.9 754,414.8 754.5,414.6 755,414.4 755.5,414.3 756,414.1 756.5,413.9 757.1,413.8 757.6,413.6 758.1,413.4 758.6,413.3 759.1,413.1 759.6,413 760.1,412.8 760.7,412.6 761.2,412.5 761.7,412.3 762.2,412.1 762.7,412 763.2,411.8 763.7,411.6 764.2,411.5 764.8,411.3 765.3,411.2 765.8,411 766.3,410.8 766.8,410.7 767.3,410.5 767.8,410.3 768.4,410.2 768.9,410 769.4,409.8 769.9,409.7 770.4,409.5 770.9,409.4 771.4,409.2 771.9,409 772.5,408.9 773,408.7 773.5,408.5 774,408.4 774.5,408.2 775,408.1 775.5,407.9 776,407.7 776.6,407.6 777.1,407.4 777.6,407.2 778.1,407.1 778.6,406.9 779.1,406.8 779.6,406.6 780.2,406.4 780.7,406.3 781.2,406.1 781.7,405.9 782.2,405.8 782.7,405.6 783.2,405.5 783.7,405.3 784.3,405.1 784.8,405 785.3,404.8 785.8,404.6 786.3,404.5 786.8,404.3 787.3,404.2 787.9,404 788.4,403.8 788.9,403.7 789.4,403.5 789.9,403.4 790.4,403.2 790.9,403 791.4,402.9 792,402.7 792.5,402.5 793,402.4 793.5,402.2 794,402.1 794.5,401.9 795,401.7 795.6,401.6 796.1,401.4 796.6,401.3 797.1,401.1 797.6,400.9 798.1,400.8 798.6,400.6 799.1,400.4 799.7,400.3 800.2,400.1 800.7,400 801.2,399.8 801.7,399.6 802.2,399.5 802.7,399.3 803.2,399.2 803.8,399 804.3,398.8 804.8,398.7 805.3,398.5 805.8,398.4 806.3,398.2 806.8,398 807.4,397.9 807.9,397.7 808.4,397.6 808.9,397.4 809.4,397.2 809.9,397.1 810.4,396.9 810.9,396.8 811.5,396.6 812,396.4 812.5,396.3 813,396.1" fill="none" stroke="none" marker-start="url(#mDn)" marker-mid="url(#mDn)" marker-end="url(#mDn)"/>
<polyline points="525.6,491.5 526.1,491.3 526.6,491.2 527.1,491.1 527.7,490.9 528.2,490.8 528.7,490.7 529.2,490.6 529.7,490.4 530.2,490.3 530.7,490.2 531.2,490 531.8,489.9 532.3,489.8 532.8,489.6 533.3,489.5 533.8,489.4 534.3,489.2 534.8,489.1 535.4,489 535.9,488.8 536.4,488.7 536.9,488.6 537.4,488.4 537.9,488.3 538.4,488.2 538.9,488 539.5,487.9 540,487.8 540.5,487.6 541,487.5 541.5,487.4 542,487.3 542.5,487.1 543,487 543.6,486.9 544.1,486.7 544.6,486.6 545.1,486.5 545.6,486.3 546.1,486.2 546.6,486.1 547.2,485.9 547.7,485.8 548.2,485.7 548.7,485.5 549.2,485.4 549.7,485.3 550.2,485.1 550.7,485 551.3,484.9 551.8,484.7 552.3,484.6 552.8,484.5 553.3,484.3 553.8,484.2 554.3,484.1 554.9,483.9 555.4,483.8 555.9,483.7 556.4,483.5 556.9,483.4 557.4,483.3 557.9,483.1 558.4,483 559,482.9 559.5,482.8 560,482.6 560.5,482.5 561,482.4 561.5,482.2 562,482.1 562.6,482 563.1,481.8 563.6,481.7 564.1,481.6 564.6,481.4 565.1,481.3 565.6,481.2 566.1,481 566.7,480.9 567.2,480.8 567.7,480.6 568.2,480.5 568.7,480.4 569.2,480.2 569.7,480.1 570.2,480 570.8,479.8 571.3,479.7 571.8,479.6 572.3,479.4 572.8,479.3 573.3,479.2 573.8,479 574.4,478.9 574.9,478.8 575.4,478.6 575.9,478.5 576.4,478.4 576.9,478.2 577.4,478.1 577.9,478 578.5,477.8 579,477.7 579.5,477.6 580,477.4 580.5,477.3 581,477.2 581.5,477 582.1,476.9 582.6,476.8 583.1,476.6 583.6,476.5 584.1,476.4 584.6,476.2 585.1,476.1 585.6,476 586.2,475.8 586.7,475.7 587.2,475.6 587.7,475.4 588.2,475.3 588.7,475.2 589.2,475 589.8,474.9 590.3,474.8 590.8,474.6 591.3,474.5 591.8,474.4 592.3,474.2 592.8,474.1 593.3,474 593.9,473.8 594.4,473.7 594.9,473.6 595.4,473.4 595.9,473.3 596.4,473.2 596.9,473 597.5,472.9 598,472.8 598.5,472.6 599,472.5 599.5,472.4 600,472.2 600.5,472.1 601,472 601.6,471.8 602.1,471.7 602.6,471.6 603.1,471.4 603.6,471.3 604.1,471.2 604.6,471 605.1,470.9 605.7,470.8 606.2,470.6 606.7,470.5 607.2,470.4 607.7,470.2 608.2,470.1 608.7,470 609.3,469.8 609.8,469.7 610.3,469.6 610.8,469.4 611.3,469.3 611.8,469.2 612.3,469 612.8,468.9 613.4,468.8 613.9,468.6 614.4,468.5 614.9,468.4 615.4,468.2 615.9,468.1 616.4,468 617,467.8 617.5,467.7 618,467.6 618.5,467.4 619,467.3 619.5,467.2 620,467 620.5,466.9 621.1,466.8 621.6,466.6 622.1,466.5 622.6,466.4 623.1,466.2 623.6,466.1 624.1,466 624.7,465.8 625.2,465.7 625.7,465.6 626.2,465.4 626.7,465.3 627.2,465.1 627.7,465 628.2,464.9 628.8,464.7 629.3,464.6 629.8,464.5 630.3,464.3 630.8,464.2 631.3,464.1 631.8,463.9 632.3,463.8 632.9,463.7 633.4,463.5 633.9,463.4 634.4,463.3 634.9,463.1 635.4,463 635.9,462.9 636.5,462.7 637,462.6 637.5,462.5 638,462.3 638.5,462.2 639,462.1 639.5,461.9 640,461.8 640.6,461.7 641.1,461.5 641.6,461.4 642.1,461.3 642.6,461.1 643.1,461 643.6,460.8 644.2,460.7 644.7,460.6 645.2,460.4 645.7,460.3 646.2,460.2 646.7,460 647.2,459.9 647.7,459.8 648.3,459.6 648.8,459.5 649.3,459.4 649.8,459.2 650.3,459.1 650.8,459 651.3,458.8 651.9,458.7 652.4,458.6 652.9,458.4 653.4,458.3 653.9,458.2 654.4,458 654.9,457.9 655.4,457.8 656,457.6 656.5,457.5 657,457.3 657.5,457.2 658,457.1 658.5,456.9 659,456.8 659.5,456.7 660.1,456.5 660.6,456.4 661.1,456.3 661.6,456.1 662.1,456 662.6,455.9 663.1,455.7 663.7,455.6 664.2,455.5 664.7,455.3 665.2,455.2 665.7,455.1 666.2,454.9 666.7,454.8 667.2,454.6 667.8,454.5 668.3,454.4 668.8,454.2 669.3,454.1 669.8,454 670.3,453.8 670.8,453.7 671.4,453.6 671.9,453.4 672.4,453.3 672.9,453.2 673.4,453 673.9,452.9 674.4,452.8 674.9,452.6 675.5,452.5 676,452.3 676.5,452.2 677,452.1 677.5,451.9 678,451.8 678.5,451.7 679.1,451.5 679.6,451.4 680.1,451.3 680.6,451.1 681.1,451 681.6,450.9 682.1,450.7 682.6,450.6 683.2,450.5 683.7,450.3 684.2,450.2 684.7,450 685.2,449.9 685.7,449.8 686.2,449.6 686.7,449.5 687.3,449.4 687.8,449.2 688.3,449.1 688.8,449 689.3,448.8 689.8,448.7 690.3,448.6 690.9,448.4 691.4,448.3 691.9,448.1 692.4,448 692.9,447.9 693.4,447.7 693.9,447.6 694.4,447.5 695,447.3 695.5,447.2 696,447.1 696.5,446.9 697,446.8 697.5,446.7 698,446.5 698.6,446.4 699.1,446.2 699.6,446.1 700.1,446 700.6,445.8 701.1,445.7 701.6,445.6 702.1,445.4 702.7,445.3 703.2,445.2 703.7,445 704.2,444.9 704.7,444.8 705.2,444.6 705.7,444.5 706.3,444.3 706.8,444.2 707.3,444.1 707.8,443.9 708.3,443.8 708.8,443.7 709.3,443.5 709.8,443.4 710.4,443.3 710.9,443.1 711.4,443 711.9,442.8 712.4,442.7 712.9,442.6 713.4,442.4 713.9,442.3 714.5,442.2 715,442 715.5,441.9 716,441.8 716.5,441.6 717,441.5 717.5,441.3 718.1,441.2 718.6,441.1 719.1,440.9 719.6,440.8 720.1,440.7 720.6,440.5 721.1,440.4 721.6,440.3 722.2,440.1 722.7,440 723.2,439.8 723.7,439.7 724.2,439.6 724.7,439.4 725.2,439.3 725.8,439.2 726.3,439 726.8,438.9 727.3,438.8 727.8,438.6 728.3,438.5 728.8,438.3 729.3,438.2 729.9,438.1 730.4,437.9 730.9,437.8 731.4,437.7 731.9,437.5 732.4,437.4 732.9,437.3 733.5,437.1 734,437 734.5,436.8 735,436.7 735.5,436.6 736,436.4 736.5,436.3 737,436.2 737.6,436 738.1,435.9 738.6,435.7 739.1,435.6 739.6,435.5 740.1,435.3 740.6,435.2 741.2,435.1 741.7,434.9 742.2,434.8 742.7,434.7 743.2,434.5 743.7,434.4 744.2,434.2 744.7,434.1 745.3,434 745.8,433.8 746.3,433.7 746.8,433.6 747.3,433.4 747.8,433.3 748.3,433.1 748.8,433 749.4,432.9 749.9,432.7 750.4,432.6 750.9,432.5 751.4,432.3 751.9,432.2 752.4,432 753,431.9 753.5,431.8 754,431.6 754.5,431.5 755,431.4 755.5,431.2 756,431.1 756.5,431 757.1,430.8 757.6,430.7 758.1,430.5 758.6,430.4 759.1,430.3 759.6,430.1 760.1,430 760.7,429.9 761.2,429.7 761.7,429.6 762.2,429.4 762.7,429.3 763.2,429.2 763.7,429 764.2,428.9 764.8,428.8 765.3,428.6 765.8,428.5 766.3,428.3 766.8,428.2 767.3,428.1 767.8,427.9 768.4,427.8 768.9,427.7 769.4,427.5 769.9,427.4 770.4,427.2 770.9,427.1 771.4,427 771.9,426.8 772.5,426.7 773,426.6 773.5,426.4 774,426.3 774.5,426.1 775,426 775.5,425.9 776,425.7 776.6,425.6 777.1,425.5 777.6,425.3 778.1,425.2 778.6,425 779.1,424.9 779.6,424.8 780.2,424.6 780.7,424.5 781.2,424.3 781.7,424.2 782.2,424.1 782.7,423.9 783.2,423.8 783.7,423.7 784.3,423.5 784.8,423.4 785.3,423.2 785.8,423.1 786.3,423 786.8,422.8 787.3,422.7 787.9,422.6 788.4,422.4 788.9,422.3 789.4,422.1 789.9,422 790.4,421.9 790.9,421.7 791.4,421.6 792,421.5 792.5,421.3 793,421.2 793.5,421 794,420.9 794.5,420.8 795,420.6 795.6,420.5 796.1,420.3 796.6,420.2 797.1,420.1 797.6,419.9 798.1,419.8 798.6,419.7 799.1,419.5 799.7,419.4 800.2,419.2 800.7,419.1 801.2,419 801.7,418.8 802.2,418.7 802.7,418.5 803.2,418.4 803.8,418.3 804.3,418.1 804.8,418 805.3,417.9 805.8,417.7 806.3,417.6 806.8,417.4 807.4,417.3 807.9,417.2 808.4,417 808.9,416.9 809.4,416.7 809.9,416.6 810.4,416.5 810.9,416.3 811.5,416.2 812,416.1 812.5,415.9 813,415.8 813.5,415.6 814,415.5 814.5,415.4 815.1,415.2 815.6,415.1 816.1,414.9 816.6,414.8" fill="none" stroke="none" marker-start="url(#mDi)" marker-mid="url(#mDi)" marker-end="url(#mDi)"/>
<polyline points="525.6,491.8 526.1,491.7 526.6,491.6 527.1,491.6 527.7,491.5 528.2,491.4 528.7,491.3 529.2,491.3 529.7,491.2 530.2,491.1 530.7,491 531.2,491 531.8,490.9 532.3,490.8 532.8,490.7 533.3,490.6 533.8,490.6 534.3,490.5 534.8,490.4 535.4,490.3 535.9,490.3 536.4,490.2 536.9,490.1 537.4,490 537.9,489.9 538.4,489.9 538.9,489.8 539.5,489.7 540,489.6 540.5,489.5 541,489.5 541.5,489.4 542,489.3 542.5,489.2 543,489.2 543.6,489.1 544.1,489 544.6,488.9 545.1,488.8 545.6,488.8 546.1,488.7 546.6,488.6 547.2,488.5 547.7,488.4 548.2,488.4 548.7,488.3 549.2,488.2 549.7,488.1 550.2,488 550.7,488 551.3,487.9 551.8,487.8 552.3,487.7 552.8,487.6 553.3,487.6 553.8,487.5 554.3,487.4 554.9,487.3 555.4,487.2 555.9,487.2 556.4,487.1 556.9,487 557.4,486.9 557.9,486.8 558.4,486.7 559,486.7 559.5,486.6 560,486.5 560.5,486.4 561,486.3 561.5,486.3 562,486.2 562.6,486.1 563.1,486 563.6,485.9 564.1,485.9 564.6,485.8 565.1,485.7 565.6,485.6 566.1,485.5 566.7,485.4 567.2,485.4 567.7,485.3 568.2,485.2 568.7,485.1 569.2,485 569.7,485 570.2,484.9 570.8,484.8 571.3,484.7 571.8,484.6 572.3,484.5 572.8,484.5 573.3,484.4 573.8,484.3 574.4,484.2 574.9,484.1 575.4,484 575.9,484 576.4,483.9 576.9,483.8 577.4,483.7 577.9,483.6 578.5,483.5 579,483.5 579.5,483.4 580,483.3 580.5,483.2 581,483.1 581.5,483 582.1,483 582.6,482.9 583.1,482.8 583.6,482.7 584.1,482.6 584.6,482.5 585.1,482.4 585.6,482.4 586.2,482.3 586.7,482.2 587.2,482.1 587.7,482 588.2,481.9 588.7,481.9 589.2,481.8 589.8,481.7 590.3,481.6 590.8,481.5 591.3,481.4 591.8,481.3 592.3,481.3 592.8,481.2 593.3,481.1 593.9,481 594.4,480.9 594.9,480.8 595.4,480.7 595.9,480.7 596.4,480.6 596.9,480.5 597.5,480.4 598,480.3 598.5,480.2 599,480.1 599.5,480.1 600,480 600.5,479.9 601,479.8 601.6,479.7 602.1,479.6 602.6,479.5 603.1,479.4 603.6,479.4 604.1,479.3 604.6,479.2 605.1,479.1 605.7,479 606.2,478.9 606.7,478.8 607.2,478.7 607.7,478.7 608.2,478.6 608.7,478.5 609.3,478.4 609.8,478.3 610.3,478.2 610.8,478.1 611.3,478 611.8,478 612.3,477.9 612.8,477.8 613.4,477.7 613.9,477.6 614.4,477.5 614.9,477.4 615.4,477.3 615.9,477.3 616.4,477.2 617,477.1 617.5,477 618,476.9 618.5,476.8 619,476.7 619.5,476.6 620,476.5 620.5,476.5 621.1,476.4 621.6,476.3 622.1,476.2 622.6,476.1 623.1,476 623.6,475.9 624.1,475.8 624.7,475.7 625.2,475.6 625.7,475.6 626.2,475.5 626.7,475.4 627.2,475.3 627.7,475.2 628.2,475.1 628.8,475 629.3,474.9 629.8,474.8 630.3,474.7 630.8,474.7 631.3,474.6 631.8,474.5 632.3,474.4 632.9,474.3 633.4,474.2 633.9,474.1 634.4,474 634.9,473.9 635.4,473.8 635.9,473.7 636.5,473.7 637,473.6 637.5,473.5 638,473.4 638.5,473.3 639,473.2 639.5,473.1 640,473 640.6,472.9 641.1,472.8 641.6,472.7 642.1,472.7 642.6,472.6 643.1,472.5 643.6,472.4 644.2,472.3 644.7,472.2 645.2,472.1 645.7,472 646.2,471.9 646.7,471.8 647.2,471.7 647.7,471.6 648.3,471.5 648.8,471.4 649.3,471.4 649.8,471.3 650.3,471.2 650.8,471.1 651.3,471 651.9,470.9 652.4,470.8 652.9,470.7 653.4,470.6 653.9,470.5 654.4,470.4 654.9,470.3 655.4,470.2 656,470.1 656.5,470.1 657,470 657.5,469.9 658,469.8 658.5,469.7 659,469.6 659.5,469.5 660.1,469.4 660.6,469.3 661.1,469.2 661.6,469.1 662.1,469 662.6,468.9 663.1,468.8 663.7,468.7 664.2,468.6 664.7,468.5 665.2,468.4 665.7,468.4 666.2,468.3 666.7,468.2 667.2,468.1 667.8,468 668.3,467.9 668.8,467.8 669.3,467.7 669.8,467.6 670.3,467.5 670.8,467.4 671.4,467.3 671.9,467.2 672.4,467.1 672.9,467 673.4,466.9 673.9,466.8 674.4,466.7 674.9,466.6 675.5,466.5 676,466.4 676.5,466.3 677,466.2 677.5,466.1 678,466.1 678.5,466 679.1,465.9 679.6,465.8 680.1,465.7 680.6,465.6 681.1,465.5 681.6,465.4 682.1,465.3 682.6,465.2 683.2,465.1 683.7,465 684.2,464.9 684.7,464.8 685.2,464.7 685.7,464.6 686.2,464.5 686.7,464.4 687.3,464.3 687.8,464.2 688.3,464.1 688.8,464 689.3,463.9 689.8,463.8 690.3,463.7 690.9,463.6 691.4,463.5 691.9,463.4 692.4,463.3 692.9,463.2 693.4,463.1 693.9,463 694.4,462.9 695,462.8 695.5,462.7 696,462.6 696.5,462.5 697,462.4 697.5,462.3 698,462.2 698.6,462.1 699.1,462 699.6,461.9 700.1,461.8 700.6,461.7 701.1,461.6 701.6,461.5 702.1,461.4 702.7,461.3 703.2,461.2 703.7,461.1 704.2,461 704.7,460.9 705.2,460.8 705.7,460.7 706.3,460.6 706.8,460.5 707.3,460.4 707.8,460.3 708.3,460.2 708.8,460.1 709.3,460 709.8,459.9 710.4,459.8 710.9,459.7 711.4,459.6 711.9,459.5 712.4,459.4 712.9,459.3 713.4,459.2 713.9,459.1 714.5,459 715,458.9 715.5,458.8 716,458.7 716.5,458.6 717,458.5 717.5,458.4 718.1,458.3 718.6,458.2 719.1,458.1 719.6,458 720.1,457.9 720.6,457.8 721.1,457.7 721.6,457.6 722.2,457.5 722.7,457.4 723.2,457.3 723.7,457.2 724.2,457.1 724.7,457 725.2,456.9 725.8,456.8 726.3,456.7 726.8,456.6 727.3,456.5 727.8,456.4 728.3,456.3 728.8,456.2 729.3,456.1 729.9,456 730.4,455.8 730.9,455.7 731.4,455.6 731.9,455.5 732.4,455.4 732.9,455.3 733.5,455.2 734,455.1 734.5,455 735,454.9 735.5,454.8 736,454.7 736.5,454.6 737,454.5 737.6,454.4 738.1,454.3 738.6,454.2 739.1,454.1 739.6,454 740.1,453.9 740.6,453.8 741.2,453.7 741.7,453.6 742.2,453.5 742.7,453.3 743.2,453.2 743.7,453.1 744.2,453 744.7,452.9 745.3,452.8 745.8,452.7 746.3,452.6 746.8,452.5 747.3,452.4 747.8,452.3 748.3,452.2 748.8,452.1 749.4,452 749.9,451.9 750.4,451.8 750.9,451.7 751.4,451.6 751.9,451.4 752.4,451.3 753,451.2 753.5,451.1 754,451 754.5,450.9 755,450.8 755.5,450.7 756,450.6 756.5,450.5 757.1,450.4 757.6,450.3 758.1,450.2 758.6,450.1 759.1,450 759.6,449.8 760.1,449.7 760.7,449.6 761.2,449.5 761.7,449.4 762.2,449.3 762.7,449.2 763.2,449.1 763.7,449 764.2,448.9 764.8,448.8 765.3,448.7 765.8,448.6 766.3,448.4 766.8,448.3 767.3,448.2 767.8,448.1 768.4,448 768.9,447.9 769.4,447.8 769.9,447.7 770.4,447.6 770.9,447.5 771.4,447.4 771.9,447.3 772.5,447.1 773,447 773.5,446.9 774,446.8 774.5,446.7 775,446.6 775.5,446.5 776,446.4 776.6,446.3 777.1,446.2 777.6,446 778.1,445.9 778.6,445.8 779.1,445.7 779.6,445.6 780.2,445.5 780.7,445.4 781.2,445.3 781.7,445.2 782.2,445.1 782.7,444.9 783.2,444.8 783.7,444.7 784.3,444.6 784.8,444.5 785.3,444.4 785.8,444.3 786.3,444.2 786.8,444.1 787.3,444 787.9,443.8 788.4,443.7 788.9,443.6 789.4,443.5 789.9,443.4 790.4,443.3 790.9,443.2 791.4,443.1 792,443 792.5,442.8 793,442.7 793.5,442.6 794,442.5 794.5,442.4 795,442.3 795.6,442.2 796.1,442.1 796.6,441.9 797.1,441.8 797.6,441.7 798.1,441.6 798.6,441.5 799.1,441.4 799.7,441.3 800.2,441.2 800.7,441 801.2,440.9 801.7,440.8 802.2,440.7 802.7,440.6 803.2,440.5 803.8,440.4 804.3,440.3 804.8,440.1 805.3,440 805.8,439.9 806.3,439.8 806.8,439.7 807.4,439.6 807.9,439.5 808.4,439.4 808.9,439.2 809.4,439.1 809.9,439 810.4,438.9 810.9,438.8 811.5,438.7 812,438.6 812.5,438.4 813,438.3" fill="none" stroke="none" marker-start="url(#mLt)" marker-mid="url(#mLt)" marker-end="url(#mLt)"/>
</g>
<text transform="translate(525,516.2) scale(0.972,1)" font-size="19.8" text-anchor="middle" >0</text>
<text transform="translate(607.11,516.2) scale(0.972,1)" font-size="19.8" text-anchor="middle" >2</text>
<text transform="translate(689.23,516.2) scale(0.972,1)" font-size="19.8" text-anchor="middle" >4</text>
<text transform="translate(771.34,516.2) scale(0.972,1)" font-size="19.8" text-anchor="middle" >6</text>
<text transform="translate(516.2,497.5) scale(0.972,1)" font-size="19.8" text-anchor="end" >0.0</text>
<text transform="translate(516.2,432.3) scale(0.972,1)" font-size="19.8" text-anchor="end" >0.2</text>
<text transform="translate(516.2,367.1) scale(0.972,1)" font-size="19.8" text-anchor="end" >0.4</text>
<text transform="translate(516.2,301.9) scale(0.972,1)" font-size="19.8" text-anchor="end" >0.6</text>
<text transform="translate(516.2,236.7) scale(0.972,1)" font-size="19.8" text-anchor="end" >0.8</text>
<text x="668.7" y="549.6" font-size="26" text-anchor="middle" >B (T)</text>
<text transform="translate(475.3,345.3) rotate(-90)" font-size="26" text-anchor="middle">M (&#956;<tspan font-size="17.5" dy="5.5">B</tspan><tspan dy="-5.5">/Ce</tspan><tspan font-size="17.5" dy="-10.5">3+</tspan><tspan dy="10.5">)</tspan></text>
<text x="634.5" y="239" font-size="22.8" text-anchor="start" >B // c</text>
<text x="706" y="239" font-size="25.3" text-anchor="start" >(b)</text>
<path d="M538.3 227.9H577.8" stroke="#000" stroke-width="1.1" fill="none"/>
<rect x="554.9" y="224.6" width="6.6" height="6.6" fill="#fff" stroke="#000" stroke-width="1.2"/>
<text x="583.3" y="234.1" font-size="16.6" text-anchor="start" >3 K</text>
<path d="M538.3 249.7H577.8" stroke="#f00" stroke-width="1.1" fill="none"/>
<circle cx="558.2" cy="249.67" r="3.85" fill="#fff" stroke="#f00" stroke-width="1.2"/>
<text x="583.3" y="255.9" font-size="16.6" text-anchor="start" >5 K</text>
<path d="M538.3 271.4H577.8" stroke="#0f0" stroke-width="1.1" fill="none"/>
<path d="M558.2 266.84L562.2 273.74L554.2 273.74Z" fill="#fff" stroke="#0f0" stroke-width="1.2"/>
<text x="583.3" y="277.6" font-size="16.6" text-anchor="start" >10 K</text>
<path d="M538.3 293.2H577.8" stroke="#00f" stroke-width="1.1" fill="none"/>
<path d="M558.2 297.81L562.2 290.91L554.2 290.91Z" fill="#fff" stroke="#00f" stroke-width="1.2"/>
<text x="583.3" y="299.4" font-size="16.6" text-anchor="start" >15 K</text>
<path d="M538.3 315H577.8" stroke="#f0f" stroke-width="1.1" fill="none"/>
<path d="M558.2 310.58L562.6 314.98L558.2 319.38L553.8 314.98Z" fill="#fff" stroke="#f0f" stroke-width="1.2"/>
<text x="583.3" y="321.2" font-size="16.6" text-anchor="start" >20 K</text>
<path d="M538.3 336.8H577.8" stroke="#800080" stroke-width="1.1" fill="none"/>
<path d="M553.6 336.75L560.5 332.75L560.5 340.75Z" fill="#fff" stroke="#800080" stroke-width="1.2"/>
<text x="583.3" y="342.9" font-size="16.6" text-anchor="start" >30 K</text>
<g clip-path="url(#clipc)">
<polyline points="84.5,853.4 84.6,853 84.7,852.5 84.8,852.1 85,851.6 85.1,851.2 85.2,850.8 85.4,850.3 85.5,849.9 85.6,849.4 85.7,849 85.9,848.5 86,848.1 86.1,847.6 86.3,847.2 86.4,846.8 86.5,846.3 86.7,845.9 86.8,845.4 86.9,845 87,844.5 87.2,844.1 87.3,843.7 87.4,843.2 87.6,842.8 87.7,842.3 87.8,841.9 87.9,841.4 88.1,841 88.2,840.5 88.3,840.1 88.5,839.7 88.6,839.2 88.7,838.8 88.8,838.3 89,837.9 89.1,837.4 89.2,837 89.4,836.5 89.5,836.1 89.6,835.7 89.8,835.2 89.9,834.8 90,834.3 90.1,833.9 90.3,833.4 90.4,833 90.5,832.6 90.7,832.1 90.8,831.7 90.9,831.2 91,830.8 91.2,830.3 91.3,829.9 91.4,829.4 91.6,829 91.7,828.6 91.8,828.1 91.8,828.1 92.1,827.3 92.3,826.4 92.5,825.6 92.8,824.7 93,823.9 93.3,823 93.5,822.1 93.7,821.3 94,820.4 94.2,819.5 94.5,818.6 94.7,817.7 94.9,816.9 95.2,816 95.4,815.1 95.7,814.2 95.9,813.3 96.1,812.4 96.4,811.6 96.6,810.7 96.9,809.8 97.1,809 97.3,808.1 97.6,807.3 97.8,806.4 98.1,805.6 98.3,804.8 98.5,803.9 98.8,803.1 99,802.3 99.3,801.5 99.5,800.8 99.7,800 100,799.3 100.2,798.5 100.4,797.8 100.7,797.1 100.9,796.4 101.2,795.7 101.4,795.1 102.4,792.6 103.3,790.3 104.3,788.2 105.2,786.1 106.2,784.1 107.2,782.1 108.1,780.2 109.1,778.3 110,776.4 111,774.5 111.9,772.7 112.9,770.7 113.9,768.8 114.8,766.9 115.8,764.9 116.7,763.1 117.7,761.2 118.6,759.5 119.6,757.8 120.6,756.2 121.5,754.7 122.5,753.3 123.4,751.9 124.4,750.6 125.4,749.3 126.3,748.1 127.3,746.8 128.2,745.6 129.2,744.4 130.1,743.2 131.1,742.1 132.1,740.9 133,739.8 134,738.7 134.9,737.6 135.9,736.5 136.8,735.4 137.8,734.3 138.8,733.3 139.7,732.2 140.7,731.2 141.6,730.2 142.6,729.1 143.6,728.1 144.5,727.1 145.5,726.1 146.4,725 147.4,724 148.3,723.1 149.3,722.1 150.3,721.1 151.2,720.2 152.2,719.3 153.1,718.4 154.1,717.6 155,716.7 156,715.9 157,715.1 157.9,714.3 158.9,713.5 159.8,712.7 160.8,711.9 161.8,711.2 162.7,710.4 163.7,709.7 164.6,708.9 165.6,708.2 166.5,707.5 167.5,706.8 168.5,706.1 169.4,705.4 170.4,704.7 171.3,704 172.3,703.3 173.2,702.7 174.2,702 175.2,701.4 176.1,700.7 177.1,700.1 178,699.5 179,698.9 179.9,698.3 180.9,697.7 181.9,697.1 182.8,696.5 183.8,696 184.7,695.4 185.7,694.9 186.7,694.3 187.6,693.8 188.6,693.2 189.5,692.7 190.5,692.2 191.4,691.7 192.4,691.2 193.4,690.7 194.3,690.1 195.3,689.6 196.2,689.1 197.2,688.6 198.1,688.1 199.1,687.6 200.1,687.1 201,686.6 202,686 202.9,685.5 203.9,685 204.9,684.5 205.8,684 206.8,683.5 207.7,682.9 208.7,682.4 209.6,681.9 210.6,681.4 211.6,680.9 212.5,680.4 213.5,679.9 214.4,679.4 215.4,678.9 216.3,678.4 217.3,677.9 218.3,677.4 219.2,676.9 220.2,676.4 221.1,675.9 222.1,675.4 223.1,674.9 224,674.4 225,673.9 225.9,673.4 226.9,672.9 227.8,672.4 228.8,671.9 229.8,671.5 230.7,671 231.7,670.5 232.6,670 233.6,669.5 234.5,669 235.5,668.5 236.5,668 237.4,667.6 238.4,667.1 239.3,666.6 240.3,666.1 241.3,665.6 242.2,665.2 243.2,664.7 244.1,664.2 245.1,663.7 246,663.2 247,662.8 248,662.3 248.9,661.8 249.9,661.3 250.8,660.9 251.8,660.4 252.7,659.9 253.7,659.4 254.7,659 255.6,658.5 256.6,658 257.5,657.5 258.5,657 259.4,656.6 260.4,656.1 261.4,655.6 262.3,655.1 263.3,654.6 264.2,654.2 265.2,653.7 266.2,653.2 267.1,652.7 268.1,652.2 269,651.7 270,651.3 270.9,650.8 271.9,650.3 272.9,649.8 273.8,649.3 274.8,648.8 275.7,648.3 276.7,647.8 277.6,647.3 278.6,646.9 279.6,646.4 280.5,645.9 281.5,645.4 282.4,644.9 283.4,644.4 284.4,643.9 285.3,643.4 286.3,642.9 287.2,642.4 288.2,641.9 289.1,641.4 290.1,640.9 291.1,640.4 292,639.9 293,639.4 293.9,638.9 294.9,638.4 295.8,637.9 296.8,637.4 297.8,637 298.7,636.5 299.7,636 300.6,635.5 301.6,635 302.6,634.5 303.5,634 304.5,633.5 305.4,633 306.4,632.5 307.3,632 308.3,631.5 309.3,631 310.2,630.5 311.2,629.9 312.1,629.4 313.1,628.9 314,628.4 315,627.9 316,627.4 316.9,626.9 317.9,626.4 318.8,625.9 319.8,625.4 320.8,624.9 321.7,624.4 322.7,623.9 323.6,623.4 324.6,622.9 325.5,622.4 326.5,621.9 327.5,621.4 328.4,620.9 329.4,620.4 330.3,619.9 331.3,619.4 332.2,618.9 333.2,618.4 334.2,617.8 335.1,617.3 336.1,616.8 337,616.3 338,615.8 338.9,615.3 339.9,614.8 340.9,614.3 341.8,613.8 342.8,613.3 343.7,612.8 344.7,612.3 345.7,611.7 346.6,611.2 347.6,610.7 348.5,610.2 349.5,609.7 350.4,609.2 351.4,608.7 352.4,608.2 353.3,607.7 354.3,607.2 355.2,606.6 356.2,606.1 357.1,605.6 358.1,605.1 359.1,604.6 360,604.1 361,603.6 361.9,603.1 362.9,602.6 363.9,602 364.8,601.5 365.8,601 366.7,600.5 367.7,600 368.6,599.5 369.6,599" fill="none" stroke="none" marker-start="url(#mCl)" marker-mid="url(#mCl)" marker-end="url(#mCl)"/>
<polyline points="197.2,688.6 198.1,688.1 199.1,687.6 200.1,687.1 201,686.6 202,686 202.9,685.5 203.9,685 204.9,684.5 205.8,684 206.8,683.5 207.7,682.9 208.7,682.4 209.6,681.9 210.6,681.4 211.6,680.9 212.5,680.4 213.5,679.9 214.4,679.4 215.4,678.9 216.3,678.4 217.3,677.9 218.3,677.4 219.2,676.9 220.2,676.4 221.1,675.9 222.1,675.4 223.1,674.9 224,674.4 225,673.9 225.9,673.4 226.9,672.9 227.8,672.4 228.8,671.9 229.8,671.5 230.7,671 231.7,670.5 232.6,670 233.6,669.5 234.5,669 235.5,668.5 236.5,668 237.4,667.6 238.4,667.1 239.3,666.6 240.3,666.1 241.3,665.6 242.2,665.2 243.2,664.7 244.1,664.2 245.1,663.7 246,663.2 247,662.8 248,662.3 248.9,661.8 249.9,661.3 250.8,660.9 251.8,660.4 252.7,659.9 253.7,659.4 254.7,659 255.6,658.5 256.6,658 257.5,657.5 258.5,657 259.4,656.6 260.4,656.1 261.4,655.6 262.3,655.1 263.3,654.6 264.2,654.2 265.2,653.7 266.2,653.2 267.1,652.7 268.1,652.2 269,651.7 270,651.3 270.9,650.8 271.9,650.3 272.9,649.8 273.8,649.3 274.8,648.8 275.7,648.3 276.7,647.8 277.6,647.3 278.6,646.9 279.6,646.4 280.5,645.9 281.5,645.4 282.4,644.9 283.4,644.4 284.4,643.9 285.3,643.4 286.3,642.9 287.2,642.4 288.2,641.9 289.1,641.4 290.1,640.9 291.1,640.4 292,639.9 293,639.4 293.9,638.9 294.9,638.4 295.8,637.9 296.8,637.4 297.8,637 298.7,636.5 299.7,636 300.6,635.5 301.6,635 302.6,634.5 303.5,634 304.5,633.5 305.4,633 306.4,632.5 307.3,632 308.3,631.5 309.3,631 310.2,630.5 311.2,629.9 312.1,629.4 313.1,628.9 314,628.4 315,627.9 316,627.4 316.9,626.9 317.9,626.4 318.8,625.9 319.8,625.4 320.8,624.9 321.7,624.4 322.7,623.9 323.6,623.4 324.6,622.9 325.5,622.4 326.5,621.9 327.5,621.4 328.4,620.9 329.4,620.4 330.3,619.9 331.3,619.4 332.2,618.9 333.2,618.4 334.2,617.8 335.1,617.3 336.1,616.8 337,616.3 338,615.8 338.9,615.3 339.9,614.8 340.9,614.3 341.8,613.8 342.8,613.3 343.7,612.8 344.7,612.3 345.7,611.7 346.6,611.2 347.6,610.7 348.5,610.2 349.5,609.7 350.4,609.2 351.4,608.7 352.4,608.2 353.3,607.7 354.3,607.2 355.2,606.6 356.2,606.1 357.1,605.6 358.1,605.1 359.1,604.6 360,604.1 361,603.6 361.9,603.1 362.9,602.6 363.9,602 364.8,601.5 365.8,601 366.7,600.5 367.7,600 368.6,599.5 369.6,599" fill="none" stroke="#f04040" stroke-width="8" stroke-linejoin="round"/>
<line x1="85" y1="849.9" x2="101.9" y2="793.8" stroke="#00f" stroke-width="2.3"/>
<line x1="225.9" y1="673.4" x2="369.6" y2="599" stroke="#00f" stroke-width="2.3"/>
<polyline points="84.5,599 84.6,607.1 84.7,614.8 84.8,622 85,628.8 85.1,635.2 85.2,641.3 85.4,647.1 85.5,652.6 85.6,657.8 85.7,662.8 85.9,667.5 86,672.1 86.1,676.4 86.3,680.6 86.4,684.5 86.5,688.3 86.7,692 86.8,695.5 86.9,698.8 87,702.1 87.2,705.2 87.3,708.2 87.4,711.1 87.6,713.9 87.7,716.6 87.8,719.2 87.9,721.7 88.1,724.1 88.2,726.4 88.3,728.7 88.5,730.9 88.6,733 88.7,735.1 88.8,737.1 89,739.1 89.1,740.9 89.2,742.8 89.4,744.6 89.5,746.3 89.6,748 89.8,749.6 89.9,751.2 90,752.7 90.1,754.3 90.3,755.7 90.4,757.2 90.5,758.6 90.7,759.9 90.8,761.2 90.9,762.5 91,763.8 91.2,765 91.3,766.3 91.4,767.4 91.6,768.6 91.7,769.7 91.8,770.8 91.8,770.8 92.1,772.8 92.3,774.8 92.5,776.6 92.8,778.4 93,780.2 93.3,781.9 93.5,783.5 93.7,785.1 94,786.6 94.2,788.1 94.5,789.5 94.7,790.9 94.9,792.2 95.2,793.5 95.4,794.8 95.7,796 95.9,797.1 96.1,798.3 96.4,799.4 96.6,800.4 96.9,801.4 97.1,802.4 97.3,803.3 97.6,804.2 97.8,805.1 98.1,805.9 98.3,806.8 98.5,807.5 98.8,808.3 99,809 99.3,809.7 99.5,810.4 99.7,811 100,811.7 100.2,812.2 100.4,812.8 100.7,813.4 100.9,813.9 101.2,814.4 101.4,814.9 102.4,816.6 103.3,818.1 104.3,819.5 105.2,820.7 106.2,821.8 107.2,822.9 108.1,823.9 109.1,824.8 110,825.7 111,826.5 111.9,827.3 112.9,828.1 113.9,828.9 114.8,829.7 115.8,830.4 116.7,831 117.7,831.7 118.6,832.3 119.6,832.8 120.6,833.3 121.5,833.7 122.5,834.2 123.4,834.6 124.4,834.9 125.4,835.3 126.3,835.6 127.3,836 128.2,836.3 129.2,836.6 130.1,836.9 131.1,837.2 132.1,837.4 133,837.7 134,838 134.9,838.2 135.9,838.5 136.8,838.7 137.8,838.9 138.8,839.2 139.7,839.4 140.7,839.6 141.6,839.8 142.6,840 143.6,840.2 144.5,840.4 145.5,840.6 146.4,840.8 147.4,841 148.3,841.2 149.3,841.4 150.3,841.5 151.2,841.7 152.2,841.8 153.1,842 154.1,842.1 155,842.3 156,842.4 157,842.6 157.9,842.7 158.9,842.8 159.8,842.9 160.8,843.1 161.8,843.2 162.7,843.3 163.7,843.4 164.6,843.5 165.6,843.7 166.5,843.8 167.5,843.9 168.5,844 169.4,844.1 170.4,844.2 171.3,844.3 172.3,844.4 173.2,844.5 174.2,844.5 175.2,844.6 176.1,844.7 177.1,844.8 178,844.9 179,845 179.9,845.1 180.9,845.1 181.9,845.2 182.8,845.3 183.8,845.4 184.7,845.4 185.7,845.5 186.7,845.6 187.6,845.6 188.6,845.7 189.5,845.8 190.5,845.8 191.4,845.9 192.4,846 193.4,846 194.3,846.1 195.3,846.2 196.2,846.2 197.2,846.3 198.1,846.3 199.1,846.4 200.1,846.5 201,846.5 202,846.6 202.9,846.6 203.9,846.7 204.9,846.8 205.8,846.8 206.8,846.9 207.7,846.9 208.7,847 209.6,847.1 210.6,847.1 211.6,847.2 212.5,847.2 213.5,847.3 214.4,847.3 215.4,847.4 216.3,847.4 217.3,847.5 218.3,847.5 219.2,847.6 220.2,847.6 221.1,847.7 222.1,847.8 223.1,847.8 224,847.9 225,847.9 225.9,848 226.9,848 227.8,848.1 228.8,848.1 229.8,848.2 230.7,848.2 231.7,848.2 232.6,848.3 233.6,848.3 234.5,848.4 235.5,848.4 236.5,848.5 237.4,848.5 238.4,848.6 239.3,848.6 240.3,848.7 241.3,848.7 242.2,848.8 243.2,848.8 244.1,848.8 245.1,848.9 246,848.9 247,849 248,849 248.9,849.1 249.9,849.1 250.8,849.2 251.8,849.2 252.7,849.2 253.7,849.3 254.7,849.3 255.6,849.4 256.6,849.4 257.5,849.4 258.5,849.5 259.4,849.5 260.4,849.6 261.4,849.6 262.3,849.7 263.3,849.7 264.2,849.7 265.2,849.8 266.2,849.8 267.1,849.9 268.1,849.9 269,849.9 270,850 270.9,850 271.9,850.1 272.9,850.1 273.8,850.1 274.8,850.2 275.7,850.2 276.7,850.3 277.6,850.3 278.6,850.3 279.6,850.4 280.5,850.4 281.5,850.4 282.4,850.5 283.4,850.5 284.4,850.6 285.3,850.6 286.3,850.6 287.2,850.7 288.2,850.7 289.1,850.7 290.1,850.8 291.1,850.8 292,850.9 293,850.9 293.9,850.9 294.9,851 295.8,851 296.8,851 297.8,851.1 298.7,851.1 299.7,851.1 300.6,851.2 301.6,851.2 302.6,851.3 303.5,851.3 304.5,851.3 305.4,851.4 306.4,851.4 307.3,851.4 308.3,851.5 309.3,851.5 310.2,851.5 311.2,851.6 312.1,851.6 313.1,851.6 314,851.7 315,851.7 316,851.7 316.9,851.8 317.9,851.8 318.8,851.8 319.8,851.9 320.8,851.9 321.7,851.9 322.7,852 323.6,852 324.6,852 325.5,852.1 326.5,852.1 327.5,852.1 328.4,852.2 329.4,852.2 330.3,852.2 331.3,852.3 332.2,852.3 333.2,852.3 334.2,852.3 335.1,852.4 336.1,852.4 337,852.4 338,852.5 338.9,852.5 339.9,852.5 340.9,852.6 341.8,852.6 342.8,852.6 343.7,852.7 344.7,852.7 345.7,852.7 346.6,852.7 347.6,852.8 348.5,852.8 349.5,852.8 350.4,852.9 351.4,852.9 352.4,852.9 353.3,852.9 354.3,853 355.2,853 356.2,853 357.1,853.1 358.1,853.1 359.1,853.1 360,853.1 361,853.2 361.9,853.2 362.9,853.2 363.9,853.3 364.8,853.3 365.8,853.3 366.7,853.3 367.7,853.4 368.6,853.4 369.6,853.4 370.6,853.5 371.5,853.5 372.5,853.5 373.4,853.5 374.4,853.6 375.3,853.6" fill="none" stroke="none" marker-start="url(#mSq)" marker-mid="url(#mSq)" marker-end="url(#mSq)"/>
<polyline points="84.5,599 84.6,607.1 84.7,614.8 84.8,622 85,628.8 85.1,635.2 85.2,641.3 85.4,647.1 85.5,652.6 85.6,657.8 85.7,662.8 85.9,667.5 86,672.1 86.1,676.4 86.3,680.6 86.4,684.5 86.5,688.3 86.7,692 86.8,695.5 86.9,698.8 87,702.1 87.2,705.2 87.3,708.2 87.4,711.1 87.6,713.9 87.7,716.6 87.8,719.2 87.9,721.7 88.1,724.1 88.2,726.4 88.3,728.7 88.5,730.9 88.6,733 88.7,735.1 88.8,737.1 89,739.1 89.1,740.9 89.2,742.8 89.4,744.6 89.5,746.3 89.6,748 89.8,749.6 89.9,751.2 90,752.7 90.1,754.3 90.3,755.7 90.4,757.2 90.5,758.6 90.7,759.9 90.8,761.2 90.9,762.5 91,763.8 91.2,765 91.3,766.3 91.4,767.4 91.6,768.6 91.7,769.7 91.8,770.8 91.8,770.8 92.1,772.8 92.3,774.8 92.5,776.6 92.8,778.4 93,780.2 93.3,781.9 93.5,783.5 93.7,785.1 94,786.6 94.2,788.1 94.5,789.5 94.7,790.9 94.9,792.2 95.2,793.5 95.4,794.8 95.7,796 95.9,797.1 96.1,798.3 96.4,799.4 96.6,800.4 96.9,801.4 97.1,802.4 97.3,803.3 97.6,804.2 97.8,805.1 98.1,805.9 98.3,806.8 98.5,807.5 98.8,808.3 99,809 99.3,809.7 99.5,810.4 99.7,811 100,811.7 100.2,812.2 100.4,812.8 100.7,813.4 100.9,813.9 101.2,814.4 101.4,814.9 102.4,816.6 103.3,818.1 104.3,819.5 105.2,820.7 106.2,821.8 107.2,822.9 108.1,823.9 109.1,824.8 110,825.7 111,826.5 111.9,827.3 112.9,828.1 113.9,828.9 114.8,829.7 115.8,830.4 116.7,831 117.7,831.7 118.6,832.3 119.6,832.8 120.6,833.3 121.5,833.7 122.5,834.2 123.4,834.6 124.4,834.9 125.4,835.3 126.3,835.6 127.3,836 128.2,836.3 129.2,836.6 130.1,836.9 131.1,837.2 132.1,837.4 133,837.7 134,838 134.9,838.2 135.9,838.5 136.8,838.7 137.8,838.9 138.8,839.2 139.7,839.4 140.7,839.6 141.6,839.8 142.6,840 143.6,840.2 144.5,840.4 145.5,840.6 146.4,840.8 147.4,841 148.3,841.2 149.3,841.4 150.3,841.5 151.2,841.7 152.2,841.8 153.1,842 154.1,842.1 155,842.3 156,842.4 157,842.6 157.9,842.7 158.9,842.8 159.8,842.9 160.8,843.1 161.8,843.2 162.7,843.3 163.7,843.4 164.6,843.5 165.6,843.7 166.5,843.8 167.5,843.9 168.5,844 169.4,844.1 170.4,844.2 171.3,844.3 172.3,844.4 173.2,844.5 174.2,844.5 175.2,844.6 176.1,844.7 177.1,844.8 178,844.9 179,845 179.9,845.1 180.9,845.1 181.9,845.2 182.8,845.3 183.8,845.4 184.7,845.4 185.7,845.5 186.7,845.6 187.6,845.6 188.6,845.7 189.5,845.8 190.5,845.8 191.4,845.9 192.4,846 193.4,846 194.3,846.1 195.3,846.2 196.2,846.2 197.2,846.3 198.1,846.3 199.1,846.4 200.1,846.5 201,846.5 202,846.6 202.9,846.6 203.9,846.7 204.9,846.8 205.8,846.8 206.8,846.9 207.7,846.9 208.7,847 209.6,847.1 210.6,847.1 211.6,847.2 212.5,847.2 213.5,847.3 214.4,847.3 215.4,847.4 216.3,847.4 217.3,847.5 218.3,847.5 219.2,847.6 220.2,847.6 221.1,847.7 222.1,847.8 223.1,847.8 224,847.9 225,847.9 225.9,848 226.9,848 227.8,848.1 228.8,848.1 229.8,848.2 230.7,848.2 231.7,848.2 232.6,848.3 233.6,848.3 234.5,848.4 235.5,848.4 236.5,848.5 237.4,848.5 238.4,848.6 239.3,848.6 240.3,848.7 241.3,848.7 242.2,848.8 243.2,848.8 244.1,848.8 245.1,848.9 246,848.9 247,849 248,849 248.9,849.1 249.9,849.1 250.8,849.2 251.8,849.2 252.7,849.2 253.7,849.3 254.7,849.3 255.6,849.4 256.6,849.4 257.5,849.4 258.5,849.5 259.4,849.5 260.4,849.6 261.4,849.6 262.3,849.7 263.3,849.7 264.2,849.7 265.2,849.8 266.2,849.8 267.1,849.9 268.1,849.9 269,849.9 270,850 270.9,850 271.9,850.1 272.9,850.1 273.8,850.1 274.8,850.2 275.7,850.2 276.7,850.3 277.6,850.3 278.6,850.3 279.6,850.4 280.5,850.4 281.5,850.4 282.4,850.5 283.4,850.5 284.4,850.6 285.3,850.6 286.3,850.6 287.2,850.7 288.2,850.7 289.1,850.7 290.1,850.8 291.1,850.8 292,850.9 293,850.9 293.9,850.9 294.9,851 295.8,851 296.8,851 297.8,851.1 298.7,851.1 299.7,851.1 300.6,851.2 301.6,851.2 302.6,851.3 303.5,851.3 304.5,851.3 305.4,851.4 306.4,851.4 307.3,851.4 308.3,851.5 309.3,851.5 310.2,851.5 311.2,851.6 312.1,851.6 313.1,851.6 314,851.7 315,851.7 316,851.7 316.9,851.8 317.9,851.8 318.8,851.8 319.8,851.9 320.8,851.9 321.7,851.9 322.7,852 323.6,852 324.6,852 325.5,852.1 326.5,852.1 327.5,852.1 328.4,852.2 329.4,852.2 330.3,852.2 331.3,852.3 332.2,852.3 333.2,852.3 334.2,852.3 335.1,852.4 336.1,852.4 337,852.4 338,852.5 338.9,852.5 339.9,852.5 340.9,852.6 341.8,852.6 342.8,852.6 343.7,852.7 344.7,852.7 345.7,852.7 346.6,852.7 347.6,852.8 348.5,852.8 349.5,852.8 350.4,852.9 351.4,852.9 352.4,852.9 353.3,852.9 354.3,853 355.2,853 356.2,853 357.1,853.1 358.1,853.1 359.1,853.1 360,853.1 361,853.2 361.9,853.2 362.9,853.2 363.9,853.3 364.8,853.3 365.8,853.3 366.7,853.3 367.7,853.4 368.6,853.4 369.6,853.4 370.6,853.5 371.5,853.5 372.5,853.5 373.4,853.5 374.4,853.6 375.3,853.6" fill="none" stroke="none" marker-start="url(#mCi)" marker-mid="url(#mCi)" marker-end="url(#mCi)"/>
<polyline points="89.5,746.3 89.6,748 89.8,749.6 89.9,751.2 90,752.7 90.1,754.3 90.3,755.7 90.4,757.2 90.5,758.6 90.7,759.9 90.8,761.2 90.9,762.5 91,763.8 91.2,765 91.3,766.3 91.4,767.4 91.6,768.6 91.7,769.7 91.8,770.8 91.8,770.8 92.1,772.8 92.3,774.8 92.5,776.6 92.8,778.4 93,780.2 93.3,781.9 93.5,783.5 93.7,785.1 94,786.6 94.2,788.1 94.5,789.5 94.7,790.9 94.9,792.2 95.2,793.5 95.4,794.8 95.7,796 95.9,797.1 96.1,798.3 96.4,799.4 96.6,800.4 96.9,801.4 97.1,802.4 97.3,803.3 97.6,804.2 97.8,805.1 98.1,805.9 98.3,806.8 98.5,807.5 98.8,808.3 99,809 99.3,809.7 99.5,810.4 99.7,811 100,811.7 100.2,812.2 100.4,812.8" fill="none" stroke="#f00" stroke-width="8" stroke-linejoin="round"/>
<polyline points="114.8,829.7 115.8,830.4 116.7,831 117.7,831.7 118.6,832.3 119.6,832.8 120.6,833.3 121.5,833.7 122.5,834.2 123.4,834.6 124.4,834.9 125.4,835.3 126.3,835.6 127.3,836 128.2,836.3 129.2,836.6 130.1,836.9 131.1,837.2 132.1,837.4 133,837.7 134,838 134.9,838.2 135.9,838.5 136.8,838.7 137.8,838.9 138.8,839.2 139.7,839.4 140.7,839.6 141.6,839.8 142.6,840 143.6,840.2 144.5,840.4 145.5,840.6 146.4,840.8 147.4,841 148.3,841.2 149.3,841.4 150.3,841.5 151.2,841.7 152.2,841.8 153.1,842 154.1,842.1 155,842.3 156,842.4 157,842.6 157.9,842.7 158.9,842.8 159.8,842.9 160.8,843.1 161.8,843.2 162.7,843.3 163.7,843.4 164.6,843.5 165.6,843.7 166.5,843.8 167.5,843.9 168.5,844 169.4,844.1 170.4,844.2 171.3,844.3 172.3,844.4 173.2,844.5 174.2,844.5 175.2,844.6 176.1,844.7 177.1,844.8 178,844.9 179,845 179.9,845.1 180.9,845.1 181.9,845.2 182.8,845.3 183.8,845.4 184.7,845.4 185.7,845.5 186.7,845.6 187.6,845.6 188.6,845.7 189.5,845.8 190.5,845.8 191.4,845.9 192.4,846 193.4,846 194.3,846.1 195.3,846.2 196.2,846.2 197.2,846.3 198.1,846.3 199.1,846.4 200.1,846.5 201,846.5 202,846.6 202.9,846.6 203.9,846.7 204.9,846.8 205.8,846.8 206.8,846.9 207.7,846.9 208.7,847 209.6,847.1 210.6,847.1 211.6,847.2 212.5,847.2 213.5,847.3 214.4,847.3 215.4,847.4 216.3,847.4 217.3,847.5 218.3,847.5 219.2,847.6 220.2,847.6 221.1,847.7 222.1,847.8 223.1,847.8 224,847.9 225,847.9 225.9,848 226.9,848 227.8,848.1 228.8,848.1 229.8,848.2 230.7,848.2 231.7,848.2 232.6,848.3 233.6,848.3 234.5,848.4 235.5,848.4 236.5,848.5 237.4,848.5 238.4,848.6 239.3,848.6 240.3,848.7 241.3,848.7 242.2,848.8 243.2,848.8 244.1,848.8 245.1,848.9 246,848.9 247,849 248,849 248.9,849.1 249.9,849.1 250.8,849.2 251.8,849.2 252.7,849.2 253.7,849.3 254.7,849.3 255.6,849.4 256.6,849.4 257.5,849.4 258.5,849.5 259.4,849.5 260.4,849.6 261.4,849.6 262.3,849.7 263.3,849.7 264.2,849.7 265.2,849.8 266.2,849.8 267.1,849.9 268.1,849.9 269,849.9 270,850 270.9,850 271.9,850.1 272.9,850.1 273.8,850.1 274.8,850.2 275.7,850.2 276.7,850.3 277.6,850.3 278.6,850.3 279.6,850.4 280.5,850.4 281.5,850.4 282.4,850.5 283.4,850.5 284.4,850.6 285.3,850.6 286.3,850.6 287.2,850.7 288.2,850.7 289.1,850.7 290.1,850.8 291.1,850.8 292,850.9 293,850.9 293.9,850.9 294.9,851 295.8,851 296.8,851 297.8,851.1 298.7,851.1 299.7,851.1 300.6,851.2 301.6,851.2 302.6,851.3 303.5,851.3 304.5,851.3 305.4,851.4 306.4,851.4 307.3,851.4 308.3,851.5 309.3,851.5 310.2,851.5 311.2,851.6 312.1,851.6 313.1,851.6 314,851.7 315,851.7 316,851.7 316.9,851.8 317.9,851.8 318.8,851.8 319.8,851.9 320.8,851.9 321.7,851.9 322.7,852 323.6,852 324.6,852 325.5,852.1 326.5,852.1 327.5,852.1 328.4,852.2 329.4,852.2 330.3,852.2 331.3,852.3 332.2,852.3 333.2,852.3 334.2,852.3 335.1,852.4 336.1,852.4 337,852.4 338,852.5 338.9,852.5 339.9,852.5 340.9,852.6 341.8,852.6 342.8,852.6 343.7,852.7 344.7,852.7 345.7,852.7 346.6,852.7 347.6,852.8 348.5,852.8 349.5,852.8 350.4,852.9 351.4,852.9 352.4,852.9 353.3,852.9 354.3,853 355.2,853 356.2,853 357.1,853.1 358.1,853.1 359.1,853.1 360,853.1 361,853.2 361.9,853.2 362.9,853.2 363.9,853.3 364.8,853.3 365.8,853.3 366.7,853.3 367.7,853.4 368.6,853.4 369.6,853.4 370.6,853.5 371.5,853.5 372.5,853.5 373.4,853.5 374.4,853.6 375.3,853.6" fill="none" stroke="#f00" stroke-width="8.2" stroke-linejoin="round"/>
</g>
<rect x="82.25" y="574.3" width="287.35" height="293.4" fill="none" stroke="#222" stroke-width="1.0"/>
<path d="M82.25 867.7V860.7M178.03 867.7V860.7M273.82 867.7V860.7M369.6 867.7V860.7" stroke="#222" stroke-width="1.0" fill="none"/>
<path d="M130.14 867.7V864M225.93 867.7V864M321.71 867.7V864" stroke="#222" stroke-width="1.0" fill="none"/>
<path d="M82.25 574.3V581.3M178.03 574.3V581.3M273.82 574.3V581.3M369.6 574.3V581.3" stroke="#222" stroke-width="1.0" fill="none"/>
<path d="M130.14 574.3V578M225.93 574.3V578M321.71 574.3V578" stroke="#222" stroke-width="1.0" fill="none"/>
<path d="M82.25 867.7H89.25M82.25 789.25H89.25M82.25 710.8H89.25M82.25 632.35H89.25" stroke="#222" stroke-width="1.0" fill="none"/>
<path d="M82.25 828.48H85.95M82.25 750.03H85.95M82.25 671.58H85.95M82.25 593.13H85.95" stroke="#222" stroke-width="1.0" fill="none"/>
<path d="M369.6 867.7H362.6M369.6 769.9H362.6M369.6 672.1H362.6M369.6 574.3H362.6" stroke="#222" stroke-width="1.0" fill="none"/>
<path d="M369.6 818.8H365.9M369.6 721H365.9M369.6 623.2H365.9" stroke="#222" stroke-width="1.0" fill="none"/>
<text transform="translate(81.65,892.1) scale(0.972,1)" font-size="19.8" text-anchor="middle" >0</text>
<text transform="translate(177.43,892.1) scale(0.972,1)" font-size="19.8" text-anchor="middle" >100</text>
<text transform="translate(273.22,892.1) scale(0.972,1)" font-size="19.8" text-anchor="middle" >200</text>
<text transform="translate(369,892.1) scale(0.972,1)" font-size="19.8" text-anchor="middle" >300</text>
<text transform="translate(72.85,873.7) scale(0.972,1)" font-size="19.8" text-anchor="end" >0.00</text>
<text transform="translate(72.85,795.25) scale(0.972,1)" font-size="19.8" text-anchor="end" >0.01</text>
<text transform="translate(72.85,716.8) scale(0.972,1)" font-size="19.8" text-anchor="end" >0.02</text>
<text transform="translate(72.85,638.35) scale(0.972,1)" font-size="19.8" text-anchor="end" >0.03</text>
<text transform="translate(377.9,873.7) scale(0.972,1)" font-size="19.8" text-anchor="start" >0</text>
<text transform="translate(377.9,775.9) scale(0.972,1)" font-size="19.8" text-anchor="start" >200</text>
<text transform="translate(377.9,678.1) scale(0.972,1)" font-size="19.8" text-anchor="start" >400</text>
<text transform="translate(377.9,580.3) scale(0.972,1)" font-size="19.8" text-anchor="start" >600</text>
<text x="222.3" y="930.2" font-size="26" text-anchor="middle" >T (K)</text>
<g transform="translate(20.7,789.8) rotate(-90)" font-size="26"><use href="#chi" transform="translate(0,0) scale(0.981)"/><text transform="translate(21.5,0) scale(0.975,1)" x="0" y="0">(emu/mol)</text></g>
<g transform="translate(432.9,800.3) rotate(-90)" font-size="26"><text x="0" y="0">1/</text><use href="#chi" transform="translate(21.7,0) scale(0.981)"/><text transform="translate(42.4,0) scale(0.975,1)" x="0" y="0">(mol/emu)</text></g>
<text x="104.3" y="621.3" font-size="25.6" text-anchor="start" >(c)</text>
<text x="146.3" y="621.3" font-size="22.7" text-anchor="start" >B = 0.1 T // a</text>
<rect x="236.3" y="782.2" width="7.2" height="7.2" fill="#fff" stroke="#000" stroke-width="1.1"/>
<circle cx="239.9" cy="811.2" r="4.2" fill="#fff" stroke="#f00" stroke-width="1.1"/>
<text x="268.1" y="792.8" font-size="19.3" text-anchor="start" >0.1 T ZFC</text>
<text x="268.1" y="818" font-size="19.3" text-anchor="start" >0.1 T FC</text>
<rect x="525.6" y="574.3" width="287.4" height="293.4" fill="none" stroke="#222" stroke-width="1.0"/>
<path d="M525.6 867.7V860.7M607.71 867.7V860.7M689.83 867.7V860.7M771.94 867.7V860.7" stroke="#222" stroke-width="1.0" fill="none"/>
<path d="M566.66 867.7V864M648.77 867.7V864M730.89 867.7V864M813 867.7V864" stroke="#222" stroke-width="1.0" fill="none"/>
<path d="M525.6 574.3V581.3M607.71 574.3V581.3M689.83 574.3V581.3M771.94 574.3V581.3" stroke="#222" stroke-width="1.0" fill="none"/>
<path d="M566.66 574.3V578M648.77 574.3V578M730.89 574.3V578M813 574.3V578" stroke="#222" stroke-width="1.0" fill="none"/>
<path d="M525.6 867.7H532.6M525.6 794.35H532.6M525.6 721H532.6M525.6 647.65H532.6M525.6 574.3H532.6" stroke="#222" stroke-width="1.0" fill="none"/>
<path d="M525.6 831.03H529.3M525.6 757.67H529.3M525.6 684.33H529.3M525.6 610.97H529.3" stroke="#222" stroke-width="1.0" fill="none"/>
<path d="M813 867.7H801.5M813 794.35H801.5M813 721H801.5M813 647.65H801.5M813 574.3H801.5" stroke="#222" stroke-width="1.0" fill="none"/>
<path d="M813 831.03H807M813 757.67H807M813 684.33H807M813 610.97H807" stroke="#222" stroke-width="1.0" fill="none"/>
<g clip-path="url(#clipd)">
<polyline points="525.6,867.7 526.1,867.1 526.6,866.6 527.1,866 527.7,865.4 528.2,864.8 528.7,864.3 529.2,863.7 529.7,863.1 530.2,862.5 530.7,862 531.2,861.4 531.8,860.8 532.3,860.2 532.8,859.7 533.3,859.1 533.8,858.5 534.3,857.9 534.8,857.4 535.4,856.8 535.9,856.2 536.4,855.7 536.9,855.1 537.4,854.5 537.9,853.9 538.4,853.4 538.9,852.8 539.5,852.2 540,851.6 540.5,851.1 541,850.5 541.5,849.9 542,849.4 542.5,848.8 543,848.2 543.6,847.6 544.1,847.1 544.6,846.5 545.1,845.9 545.6,845.4 546.1,844.8 546.6,844.2 547.2,843.6 547.7,843.1 548.2,842.5 548.7,841.9 549.2,841.4 549.7,840.8 550.2,840.2 550.7,839.6 551.3,839.1 551.8,838.5 552.3,837.9 552.8,837.4 553.3,836.8 553.8,836.2 554.3,835.7 554.9,835.1 555.4,834.5 555.9,834 556.4,833.4 556.9,832.8 557.4,832.2 557.9,831.7 558.4,831.1 559,830.5 559.5,830 560,829.4 560.5,828.8 561,828.3 561.5,827.7 562,827.1 562.6,826.6 563.1,826 563.6,825.4 564.1,824.9 564.6,824.3 565.1,823.8 565.6,823.2 566.1,822.6 566.7,822.1 567.2,821.5 567.7,820.9 568.2,820.4 568.7,819.8 569.2,819.2 569.7,818.7 570.2,818.1 570.8,817.6 571.3,817 571.8,816.4 572.3,815.9 572.8,815.3 573.3,814.7 573.8,814.2 574.4,813.6 574.9,813.1 575.4,812.5 575.9,811.9 576.4,811.4 576.9,810.8 577.4,810.3 577.9,809.7 578.5,809.2 579,808.6 579.5,808 580,807.5 580.5,806.9 581,806.4 581.5,805.8 582.1,805.3 582.6,804.7 583.1,804.1 583.6,803.6 584.1,803 584.6,802.5 585.1,801.9 585.6,801.4 586.2,800.8 586.7,800.3 587.2,799.7 587.7,799.2 588.2,798.6 588.7,798.1 589.2,797.5 589.8,797 590.3,796.4 590.8,795.9 591.3,795.3 591.8,794.8 592.3,794.2 592.8,793.7 593.3,793.1 593.9,792.6 594.4,792 594.9,791.5 595.4,790.9 595.9,790.4 596.4,789.8 596.9,789.3 597.5,788.7 598,788.2 598.5,787.7 599,787.1 599.5,786.6 600,786 600.5,785.5 601,784.9 601.6,784.4 602.1,783.9 602.6,783.3 603.1,782.8 603.6,782.2 604.1,781.7 604.6,781.2 605.1,780.6 605.7,780.1 606.2,779.5 606.7,779 607.2,778.5 607.7,777.9 608.2,777.4 608.7,776.9 609.3,776.3 609.8,775.8 610.3,775.3 610.8,774.7 611.3,774.2 611.8,773.7 612.3,773.1 612.8,772.6 613.4,772.1 613.9,771.5 614.4,771 614.9,770.5 615.4,769.9 615.9,769.4 616.4,768.9 617,768.3 617.5,767.8 618,767.3 618.5,766.8 619,766.2 619.5,765.7 620,765.2 620.5,764.7 621.1,764.1 621.6,763.6 622.1,763.1 622.6,762.6 623.1,762 623.6,761.5 624.1,761 624.7,760.5 625.2,759.9 625.7,759.4 626.2,758.9 626.7,758.4 627.2,757.9 627.7,757.4 628.2,756.8 628.8,756.3 629.3,755.8 629.8,755.3 630.3,754.8 630.8,754.2 631.3,753.7 631.8,753.2 632.3,752.7 632.9,752.2 633.4,751.7 633.9,751.2 634.4,750.7 634.9,750.1 635.4,749.6 635.9,749.1 636.5,748.6 637,748.1 637.5,747.6 638,747.1 638.5,746.6 639,746.1 639.5,745.6 640,745.1 640.6,744.6 641.1,744 641.6,743.5 642.1,743 642.6,742.5 643.1,742 643.6,741.5 644.2,741 644.7,740.5 645.2,740 645.7,739.5 646.2,739 646.7,738.5 647.2,738 647.7,737.5 648.3,737 648.8,736.5 649.3,736 649.8,735.5 650.3,735 650.8,734.5 651.3,734.1 651.9,733.6 652.4,733.1 652.9,732.6 653.4,732.1 653.9,731.6 654.4,731.1 654.9,730.6 655.4,730.1 656,729.6 656.5,729.1 657,728.7 657.5,728.2 658,727.7 658.5,727.2 659,726.7 659.5,726.2 660.1,725.7 660.6,725.2 661.1,724.8 661.6,724.3 662.1,723.8 662.6,723.3 663.1,722.8 663.7,722.4 664.2,721.9 664.7,721.4 665.2,720.9 665.7,720.4 666.2,720 666.7,719.5 667.2,719 667.8,718.5 668.3,718.1 668.8,717.6 669.3,717.1 669.8,716.6 670.3,716.2 670.8,715.7 671.4,715.2 671.9,714.7 672.4,714.3 672.9,713.8 673.4,713.3 673.9,712.9 674.4,712.4 674.9,711.9 675.5,711.4 676,711 676.5,710.5 677,710 677.5,709.6 678,709.1 678.5,708.7 679.1,708.2 679.6,707.7 680.1,707.3 680.6,706.8 681.1,706.3 681.6,705.9 682.1,705.4 682.6,705 683.2,704.5 683.7,704 684.2,703.6 684.7,703.1 685.2,702.7 685.7,702.2 686.2,701.8 686.7,701.3 687.3,700.8 687.8,700.4 688.3,699.9 688.8,699.5 689.3,699 689.8,698.6 690.3,698.1 690.9,697.7 691.4,697.2 691.9,696.8 692.4,696.3 692.9,695.9 693.4,695.4 693.9,695 694.4,694.5 695,694.1 695.5,693.7 696,693.2 696.5,692.8 697,692.3 697.5,691.9 698,691.4 698.6,691 699.1,690.6 699.6,690.1 700.1,689.7 700.6,689.2 701.1,688.8 701.6,688.4 702.1,687.9 702.7,687.5 703.2,687 703.7,686.6 704.2,686.2 704.7,685.7 705.2,685.3 705.7,684.9 706.3,684.4 706.8,684 707.3,683.6 707.8,683.1 708.3,682.7 708.8,682.3 709.3,681.8 709.8,681.4 710.4,681 710.9,680.6 711.4,680.1 711.9,679.7 712.4,679.3 712.9,678.9 713.4,678.4 713.9,678 714.5,677.6 715,677.2 715.5,676.7 716,676.3 716.5,675.9 717,675.5 717.5,675.1 718.1,674.6 718.6,674.2 719.1,673.8 719.6,673.4 720.1,673 720.6,672.5 721.1,672.1 721.6,671.7 722.2,671.3 722.7,670.9 723.2,670.5 723.7,670 724.2,669.6 724.7,669.2 725.2,668.8 725.8,668.4 726.3,668 726.8,667.6 727.3,667.2 727.8,666.8 728.3,666.3 728.8,665.9 729.3,665.5 729.9,665.1 730.4,664.7 730.9,664.3 731.4,663.9 731.9,663.5 732.4,663.1 732.9,662.7 733.5,662.3 734,661.9 734.5,661.5 735,661.1 735.5,660.7 736,660.3 736.5,659.9 737,659.5 737.6,659.1 738.1,658.7 738.6,658.3 739.1,657.9 739.6,657.5 740.1,657.1 740.6,656.7 741.2,656.3 741.7,655.9 742.2,655.5 742.7,655.1 743.2,654.7 743.7,654.3 744.2,653.9 744.7,653.5 745.3,653.2 745.8,652.8 746.3,652.4 746.8,652 747.3,651.6 747.8,651.2 748.3,650.8 748.8,650.4 749.4,650 749.9,649.7 750.4,649.3 750.9,648.9 751.4,648.5 751.9,648.1 752.4,647.7 753,647.4 753.5,647 754,646.6 754.5,646.2 755,645.8 755.5,645.4 756,645.1 756.5,644.7 757.1,644.3 757.6,643.9 758.1,643.6 758.6,643.2 759.1,642.8 759.6,642.4 760.1,642 760.7,641.7 761.2,641.3 761.7,640.9 762.2,640.5 762.7,640.2 763.2,639.8 763.7,639.4 764.2,639.1 764.8,638.7 765.3,638.3 765.8,637.9 766.3,637.6 766.8,637.2 767.3,636.8 767.8,636.5 768.4,636.1 768.9,635.7 769.4,635.4 769.9,635 770.4,634.6 770.9,634.3 771.4,633.9 771.9,633.5 772.5,633.2 773,632.8 773.5,632.4 774,632.1 774.5,631.7 775,631.4 775.5,631 776,630.6 776.6,630.3 777.1,629.9 777.6,629.6 778.1,629.2 778.6,628.8 779.1,628.5 779.6,628.1 780.2,627.8 780.7,627.4 781.2,627.1 781.7,626.7 782.2,626.3 782.7,626 783.2,625.6 783.7,625.3 784.3,624.9 784.8,624.6 785.3,624.2 785.8,623.9 786.3,623.5 786.8,623.2 787.3,622.8 787.9,622.5 788.4,622.1 788.9,621.8 789.4,621.4 789.9,621.1 790.4,620.7 790.9,620.4 791.4,620 792,619.7 792.5,619.3 793,619 793.5,618.6 794,618.3 794.5,618 795,617.6 795.6,617.3 796.1,616.9 796.6,616.6 797.1,616.2 797.6,615.9 798.1,615.6 798.6,615.2 799.1,614.9 799.7,614.5 800.2,614.2 800.7,613.9 801.2,613.5 801.7,613.2 802.2,612.8 802.7,612.5 803.2,612.2 803.8,611.8 804.3,611.5 804.8,611.2 805.3,610.8 805.8,610.5 806.3,610.2 806.8,609.8 807.4,609.5 807.9,609.2 808.4,608.8 808.9,608.5 809.4,608.2 809.9,607.8 810.4,607.5 810.9,607.2 811.5,606.8 812,606.5 812.5,606.2 813,605.8 813.5,605.5 814,605.2 814.5,604.9 815.1,604.5 815.6,604.2 816.1,603.9 816.6,603.6" fill="none" stroke="none" marker-start="url(#mSq)" marker-mid="url(#mSq)" marker-end="url(#mSq)"/>
<polyline points="525.6,868.4 526.1,868.1 526.6,867.8 527.1,867.4 527.7,867.1 528.2,866.7 528.7,866.4 529.2,866 529.7,865.7 530.2,865.4 530.7,865 531.2,864.7 531.8,864.3 532.3,864 532.8,863.7 533.3,863.3 533.8,863 534.3,862.6 534.8,862.3 535.4,861.9 535.9,861.6 536.4,861.3 536.9,860.9 537.4,860.6 537.9,860.2 538.4,859.9 538.9,859.5 539.5,859.2 540,858.9 540.5,858.5 541,858.2 541.5,857.8 542,857.5 542.5,857.1 543,856.8 543.6,856.4 544.1,856.1 544.6,855.8 545.1,855.4 545.6,855.1 546.1,854.7 546.6,854.4 547.2,854 547.7,853.7 548.2,853.3 548.7,853 549.2,852.6 549.7,852.3 550.2,852 550.7,851.6 551.3,851.3 551.8,850.9 552.3,850.6 552.8,850.2 553.3,849.9 553.8,849.5 554.3,849.2 554.9,848.8 555.4,848.5 555.9,848.2 556.4,847.8 556.9,847.5 557.4,847.1 557.9,846.8 558.4,846.4 559,846.1 559.5,845.7 560,845.4 560.5,845 561,844.7 561.5,844.3 562,844 562.6,843.6 563.1,843.3 563.6,843 564.1,842.6 564.6,842.3 565.1,841.9 565.6,841.6 566.1,841.2 566.7,840.9 567.2,840.5 567.7,840.2 568.2,839.8 568.7,839.5 569.2,839.1 569.7,838.8 570.2,838.4 570.8,838.1 571.3,837.7 571.8,837.4 572.3,837 572.8,836.7 573.3,836.3 573.8,836 574.4,835.7 574.9,835.3 575.4,835 575.9,834.6 576.4,834.3 576.9,833.9 577.4,833.6 577.9,833.2 578.5,832.9 579,832.5 579.5,832.2 580,831.8 580.5,831.5 581,831.1 581.5,830.8 582.1,830.4 582.6,830.1 583.1,829.7 583.6,829.4 584.1,829 584.6,828.7 585.1,828.3 585.6,828 586.2,827.6 586.7,827.3 587.2,826.9 587.7,826.6 588.2,826.2 588.7,825.9 589.2,825.5 589.8,825.2 590.3,824.9 590.8,824.5 591.3,824.2 591.8,823.8 592.3,823.5 592.8,823.1 593.3,822.8 593.9,822.4 594.4,822.1 594.9,821.7 595.4,821.4 595.9,821 596.4,820.7 596.9,820.3 597.5,820 598,819.6 598.5,819.3 599,818.9 599.5,818.6 600,818.2 600.5,817.9 601,817.5 601.6,817.2 602.1,816.8 602.6,816.5 603.1,816.1 603.6,815.8 604.1,815.4 604.6,815.1 605.1,814.7 605.7,814.4 606.2,814.1 606.7,813.7 607.2,813.4 607.7,813 608.2,812.7 608.7,812.3 609.3,812 609.8,811.6 610.3,811.3 610.8,810.9 611.3,810.6 611.8,810.2 612.3,809.9 612.8,809.5 613.4,809.2 613.9,808.8 614.4,808.5 614.9,808.1 615.4,807.8 615.9,807.4 616.4,807.1 617,806.8 617.5,806.4 618,806.1 618.5,805.7 619,805.4 619.5,805 620,804.7 620.5,804.3 621.1,804 621.6,803.6 622.1,803.3 622.6,802.9 623.1,802.6 623.6,802.2 624.1,801.9 624.7,801.5 625.2,801.2 625.7,800.9 626.2,800.5 626.7,800.2 627.2,799.8 627.7,799.5 628.2,799.1 628.8,798.8 629.3,798.4 629.8,798.1 630.3,797.7 630.8,797.4 631.3,797.1 631.8,796.7 632.3,796.4 632.9,796 633.4,795.7 633.9,795.3 634.4,795 634.9,794.6 635.4,794.3 635.9,793.9 636.5,793.6 637,793.3 637.5,792.9 638,792.6 638.5,792.2 639,791.9 639.5,791.5 640,791.2 640.6,790.8 641.1,790.5 641.6,790.2 642.1,789.8 642.6,789.5 643.1,789.1 643.6,788.8 644.2,788.4 644.7,788.1 645.2,787.8 645.7,787.4 646.2,787.1 646.7,786.7 647.2,786.4 647.7,786 648.3,785.7 648.8,785.4 649.3,785 649.8,784.7 650.3,784.3 650.8,784 651.3,783.6 651.9,783.3 652.4,783 652.9,782.6 653.4,782.3 653.9,781.9 654.4,781.6 654.9,781.3 655.4,780.9 656,780.6 656.5,780.2 657,779.9 657.5,779.6 658,779.2 658.5,778.9 659,778.5 659.5,778.2 660.1,777.9 660.6,777.5 661.1,777.2 661.6,776.8 662.1,776.5 662.6,776.2 663.1,775.8 663.7,775.5 664.2,775.1 664.7,774.8 665.2,774.5 665.7,774.1 666.2,773.8 666.7,773.5 667.2,773.1 667.8,772.8 668.3,772.4 668.8,772.1 669.3,771.8 669.8,771.4 670.3,771.1 670.8,770.8 671.4,770.4 671.9,770.1 672.4,769.7 672.9,769.4 673.4,769.1 673.9,768.7 674.4,768.4 674.9,768.1 675.5,767.7 676,767.4 676.5,767.1 677,766.7 677.5,766.4 678,766.1 678.5,765.7 679.1,765.4 679.6,765.1 680.1,764.7 680.6,764.4 681.1,764.1 681.6,763.7 682.1,763.4 682.6,763.1 683.2,762.7 683.7,762.4 684.2,762.1 684.7,761.7 685.2,761.4 685.7,761.1 686.2,760.7 686.7,760.4 687.3,760.1 687.8,759.7 688.3,759.4 688.8,759.1 689.3,758.7 689.8,758.4 690.3,758.1 690.9,757.8 691.4,757.4 691.9,757.1 692.4,756.8 692.9,756.4 693.4,756.1 693.9,755.8 694.4,755.5 695,755.1 695.5,754.8 696,754.5 696.5,754.1 697,753.8 697.5,753.5 698,753.2 698.6,752.8 699.1,752.5 699.6,752.2 700.1,751.9 700.6,751.5 701.1,751.2 701.6,750.9 702.1,750.5 702.7,750.2 703.2,749.9 703.7,749.6 704.2,749.2 704.7,748.9 705.2,748.6 705.7,748.3 706.3,748 706.8,747.6 707.3,747.3 707.8,747 708.3,746.7 708.8,746.3 709.3,746 709.8,745.7 710.4,745.4 710.9,745 711.4,744.7 711.9,744.4 712.4,744.1 712.9,743.8 713.4,743.4 713.9,743.1 714.5,742.8 715,742.5 715.5,742.2 716,741.8 716.5,741.5 717,741.2 717.5,740.9 718.1,740.6 718.6,740.2 719.1,739.9 719.6,739.6 720.1,739.3 720.6,739 721.1,738.7 721.6,738.3 722.2,738 722.7,737.7 723.2,737.4 723.7,737.1 724.2,736.8 724.7,736.5 725.2,736.1 725.8,735.8 726.3,735.5 726.8,735.2 727.3,734.9 727.8,734.6 728.3,734.3 728.8,733.9 729.3,733.6 729.9,733.3 730.4,733 730.9,732.7 731.4,732.4 731.9,732.1 732.4,731.8 732.9,731.4 733.5,731.1 734,730.8 734.5,730.5 735,730.2 735.5,729.9 736,729.6 736.5,729.3 737,729 737.6,728.7 738.1,728.3 738.6,728 739.1,727.7 739.6,727.4 740.1,727.1 740.6,726.8 741.2,726.5 741.7,726.2 742.2,725.9 742.7,725.6 743.2,725.3 743.7,725 744.2,724.7 744.7,724.4 745.3,724.1 745.8,723.8 746.3,723.5 746.8,723.2 747.3,722.8 747.8,722.5 748.3,722.2 748.8,721.9 749.4,721.6 749.9,721.3 750.4,721 750.9,720.7 751.4,720.4 751.9,720.1 752.4,719.8 753,719.5 753.5,719.2 754,718.9 754.5,718.6 755,718.3 755.5,718 756,717.7 756.5,717.4 757.1,717.1 757.6,716.9 758.1,716.6 758.6,716.3 759.1,716 759.6,715.7 760.1,715.4 760.7,715.1 761.2,714.8 761.7,714.5 762.2,714.2 762.7,713.9 763.2,713.6 763.7,713.3 764.2,713 764.8,712.7 765.3,712.4 765.8,712.1 766.3,711.9 766.8,711.6 767.3,711.3 767.8,711 768.4,710.7 768.9,710.4 769.4,710.1 769.9,709.8 770.4,709.5 770.9,709.2 771.4,709 771.9,708.7 772.5,708.4 773,708.1 773.5,707.8 774,707.5 774.5,707.2 775,707 775.5,706.7 776,706.4 776.6,706.1 777.1,705.8 777.6,705.5 778.1,705.2 778.6,705 779.1,704.7 779.6,704.4 780.2,704.1 780.7,703.8 781.2,703.6 781.7,703.3 782.2,703 782.7,702.7 783.2,702.4 783.7,702.2 784.3,701.9 784.8,701.6 785.3,701.3 785.8,701 786.3,700.8 786.8,700.5 787.3,700.2 787.9,699.9 788.4,699.7 788.9,699.4 789.4,699.1 789.9,698.8 790.4,698.6 790.9,698.3 791.4,698 792,697.7 792.5,697.5 793,697.2 793.5,696.9 794,696.6 794.5,696.4 795,696.1 795.6,695.8 796.1,695.6 796.6,695.3 797.1,695 797.6,694.8 798.1,694.5 798.6,694.2 799.1,694 799.7,693.7 800.2,693.4 800.7,693.2 801.2,692.9 801.7,692.6 802.2,692.4 802.7,692.1 803.2,691.8 803.8,691.6 804.3,691.3 804.8,691 805.3,690.8 805.8,690.5 806.3,690.2 806.8,690 807.4,689.7 807.9,689.5 808.4,689.2 808.9,688.9 809.4,688.7 809.9,688.4 810.4,688.2 810.9,687.9 811.5,687.6 812,687.4 812.5,687.1 813,686.9 813.5,686.6 814,686.4" fill="none" stroke="none" marker-start="url(#mCi)" marker-mid="url(#mCi)" marker-end="url(#mCi)"/>
<polyline points="525.6,867.7 526.1,867.5 526.6,867.3 527.1,867.1 527.7,866.9 528.2,866.7 528.7,866.5 529.2,866.2 529.7,866 530.2,865.8 530.7,865.6 531.2,865.4 531.8,865.2 532.3,865 532.8,864.8 533.3,864.6 533.8,864.4 534.3,864.2 534.8,864 535.4,863.8 535.9,863.6 536.4,863.4 536.9,863.1 537.4,862.9 537.9,862.7 538.4,862.5 538.9,862.3 539.5,862.1 540,861.9 540.5,861.7 541,861.5 541.5,861.3 542,861.1 542.5,860.9 543,860.7 543.6,860.5 544.1,860.3 544.6,860.1 545.1,859.9 545.6,859.7 546.1,859.4 546.6,859.2 547.2,859 547.7,858.8 548.2,858.6 548.7,858.4 549.2,858.2 549.7,858 550.2,857.8 550.7,857.6 551.3,857.4 551.8,857.2 552.3,857 552.8,856.8 553.3,856.6 553.8,856.4 554.3,856.2 554.9,856 555.4,855.8 555.9,855.6 556.4,855.4 556.9,855.2 557.4,855 557.9,854.8 558.4,854.6 559,854.4 559.5,854.2 560,854 560.5,853.8 561,853.5 561.5,853.3 562,853.1 562.6,852.9 563.1,852.7 563.6,852.5 564.1,852.3 564.6,852.1 565.1,851.9 565.6,851.7 566.1,851.5 566.7,851.3 567.2,851.1 567.7,850.9 568.2,850.7 568.7,850.5 569.2,850.3 569.7,850.1 570.2,849.9 570.8,849.7 571.3,849.5 571.8,849.3 572.3,849.1 572.8,848.9 573.3,848.7 573.8,848.5 574.4,848.3 574.9,848.1 575.4,847.9 575.9,847.7 576.4,847.5 576.9,847.3 577.4,847.1 577.9,846.9 578.5,846.7 579,846.5 579.5,846.3 580,846.1 580.5,845.9 581,845.7 581.5,845.5 582.1,845.3 582.6,845.1 583.1,844.9 583.6,844.7 584.1,844.5 584.6,844.3 585.1,844.1 585.6,843.9 586.2,843.7 586.7,843.5 587.2,843.3 587.7,843.1 588.2,842.9 588.7,842.7 589.2,842.5 589.8,842.3 590.3,842.1 590.8,842 591.3,841.8 591.8,841.6 592.3,841.4 592.8,841.2 593.3,841 593.9,840.8 594.4,840.6 594.9,840.4 595.4,840.2 595.9,840 596.4,839.8 596.9,839.6 597.5,839.4 598,839.2 598.5,839 599,838.8 599.5,838.6 600,838.4 600.5,838.2 601,838 601.6,837.8 602.1,837.6 602.6,837.4 603.1,837.2 603.6,837 604.1,836.8 604.6,836.6 605.1,836.4 605.7,836.3 606.2,836.1 606.7,835.9 607.2,835.7 607.7,835.5 608.2,835.3 608.7,835.1 609.3,834.9 609.8,834.7 610.3,834.5 610.8,834.3 611.3,834.1 611.8,833.9 612.3,833.7 612.8,833.5 613.4,833.3 613.9,833.1 614.4,832.9 614.9,832.8 615.4,832.6 615.9,832.4 616.4,832.2 617,832 617.5,831.8 618,831.6 618.5,831.4 619,831.2 619.5,831 620,830.8 620.5,830.6 621.1,830.4 621.6,830.2 622.1,830 622.6,829.9 623.1,829.7 623.6,829.5 624.1,829.3 624.7,829.1 625.2,828.9 625.7,828.7 626.2,828.5 626.7,828.3 627.2,828.1 627.7,827.9 628.2,827.7 628.8,827.5 629.3,827.4 629.8,827.2 630.3,827 630.8,826.8 631.3,826.6 631.8,826.4 632.3,826.2 632.9,826 633.4,825.8 633.9,825.6 634.4,825.4 634.9,825.3 635.4,825.1 635.9,824.9 636.5,824.7 637,824.5 637.5,824.3 638,824.1 638.5,823.9 639,823.7 639.5,823.5 640,823.4 640.6,823.2 641.1,823 641.6,822.8 642.1,822.6 642.6,822.4 643.1,822.2 643.6,822 644.2,821.8 644.7,821.6 645.2,821.5 645.7,821.3 646.2,821.1 646.7,820.9 647.2,820.7 647.7,820.5 648.3,820.3 648.8,820.1 649.3,819.9 649.8,819.8 650.3,819.6 650.8,819.4 651.3,819.2 651.9,819 652.4,818.8 652.9,818.6 653.4,818.4 653.9,818.3 654.4,818.1 654.9,817.9 655.4,817.7 656,817.5 656.5,817.3 657,817.1 657.5,816.9 658,816.8 658.5,816.6 659,816.4 659.5,816.2 660.1,816 660.6,815.8 661.1,815.6 661.6,815.4 662.1,815.3 662.6,815.1 663.1,814.9 663.7,814.7 664.2,814.5 664.7,814.3 665.2,814.1 665.7,814 666.2,813.8 666.7,813.6 667.2,813.4 667.8,813.2 668.3,813 668.8,812.8 669.3,812.7 669.8,812.5 670.3,812.3 670.8,812.1 671.4,811.9 671.9,811.7 672.4,811.5 672.9,811.4 673.4,811.2 673.9,811 674.4,810.8 674.9,810.6 675.5,810.4 676,810.3 676.5,810.1 677,809.9 677.5,809.7 678,809.5 678.5,809.3 679.1,809.2 679.6,809 680.1,808.8 680.6,808.6 681.1,808.4 681.6,808.2 682.1,808.1 682.6,807.9 683.2,807.7 683.7,807.5 684.2,807.3 684.7,807.1 685.2,807 685.7,806.8 686.2,806.6 686.7,806.4 687.3,806.2 687.8,806 688.3,805.9 688.8,805.7 689.3,805.5 689.8,805.3 690.3,805.1 690.9,804.9 691.4,804.8 691.9,804.6 692.4,804.4 692.9,804.2 693.4,804 693.9,803.9 694.4,803.7 695,803.5 695.5,803.3 696,803.1 696.5,803 697,802.8 697.5,802.6 698,802.4 698.6,802.2 699.1,802 699.6,801.9 700.1,801.7 700.6,801.5 701.1,801.3 701.6,801.1 702.1,801 702.7,800.8 703.2,800.6 703.7,800.4 704.2,800.2 704.7,800.1 705.2,799.9 705.7,799.7 706.3,799.5 706.8,799.3 707.3,799.2 707.8,799 708.3,798.8 708.8,798.6 709.3,798.5 709.8,798.3 710.4,798.1 710.9,797.9 711.4,797.7 711.9,797.6 712.4,797.4 712.9,797.2 713.4,797 713.9,796.8 714.5,796.7 715,796.5 715.5,796.3 716,796.1 716.5,796 717,795.8 717.5,795.6 718.1,795.4 718.6,795.2 719.1,795.1 719.6,794.9 720.1,794.7 720.6,794.5 721.1,794.4 721.6,794.2 722.2,794 722.7,793.8 723.2,793.6 723.7,793.5 724.2,793.3 724.7,793.1 725.2,792.9 725.8,792.8 726.3,792.6 726.8,792.4 727.3,792.2 727.8,792.1 728.3,791.9 728.8,791.7 729.3,791.5 729.9,791.4 730.4,791.2 730.9,791 731.4,790.8 731.9,790.7 732.4,790.5 732.9,790.3 733.5,790.1 734,790 734.5,789.8 735,789.6 735.5,789.4 736,789.3 736.5,789.1 737,788.9 737.6,788.7 738.1,788.6 738.6,788.4 739.1,788.2 739.6,788 740.1,787.9 740.6,787.7 741.2,787.5 741.7,787.3 742.2,787.2 742.7,787 743.2,786.8 743.7,786.6 744.2,786.5 744.7,786.3 745.3,786.1 745.8,785.9 746.3,785.8 746.8,785.6 747.3,785.4 747.8,785.3 748.3,785.1 748.8,784.9 749.4,784.7 749.9,784.6 750.4,784.4 750.9,784.2 751.4,784 751.9,783.9 752.4,783.7 753,783.5 753.5,783.4 754,783.2 754.5,783 755,782.8 755.5,782.7 756,782.5 756.5,782.3 757.1,782.2 757.6,782 758.1,781.8 758.6,781.6 759.1,781.5 759.6,781.3 760.1,781.1 760.7,781 761.2,780.8 761.7,780.6 762.2,780.4 762.7,780.3 763.2,780.1 763.7,779.9 764.2,779.8 764.8,779.6 765.3,779.4 765.8,779.3 766.3,779.1 766.8,778.9 767.3,778.7 767.8,778.6 768.4,778.4 768.9,778.2 769.4,778.1 769.9,777.9 770.4,777.7 770.9,777.6 771.4,777.4 771.9,777.2 772.5,777 773,776.9 773.5,776.7 774,776.5 774.5,776.4 775,776.2 775.5,776 776,775.9 776.6,775.7 777.1,775.5 777.6,775.4 778.1,775.2 778.6,775 779.1,774.9 779.6,774.7 780.2,774.5 780.7,774.4 781.2,774.2 781.7,774 782.2,773.8 782.7,773.7 783.2,773.5 783.7,773.3 784.3,773.2 784.8,773 785.3,772.8 785.8,772.7 786.3,772.5 786.8,772.3 787.3,772.2 787.9,772 788.4,771.8 788.9,771.7 789.4,771.5 789.9,771.3 790.4,771.2 790.9,771 791.4,770.8 792,770.7 792.5,770.5 793,770.3 793.5,770.2 794,770 794.5,769.9 795,769.7 795.6,769.5 796.1,769.4 796.6,769.2 797.1,769 797.6,768.9 798.1,768.7 798.6,768.5 799.1,768.4 799.7,768.2 800.2,768 800.7,767.9 801.2,767.7 801.7,767.5 802.2,767.4 802.7,767.2 803.2,767 803.8,766.9 804.3,766.7 804.8,766.6 805.3,766.4 805.8,766.2 806.3,766.1 806.8,765.9 807.4,765.7 807.9,765.6 808.4,765.4 808.9,765.2 809.4,765.1 809.9,764.9 810.4,764.8 810.9,764.6 811.5,764.4 812,764.3 812.5,764.1 813,763.9 813.5,763.8 814,763.6 814.5,763.5 815.1,763.3 815.6,763.1 816.1,763 816.6,762.8" fill="none" stroke="none" marker-start="url(#mUp)" marker-mid="url(#mUp)" marker-end="url(#mUp)"/>
<polyline points="525.6,867.7 526.1,867.6 526.6,867.4 527.1,867.3 527.7,867.1 528.2,867 528.7,866.8 529.2,866.7 529.7,866.6 530.2,866.4 530.7,866.3 531.2,866.1 531.8,866 532.3,865.8 532.8,865.7 533.3,865.5 533.8,865.4 534.3,865.3 534.8,865.1 535.4,865 535.9,864.8 536.4,864.7 536.9,864.5 537.4,864.4 537.9,864.3 538.4,864.1 538.9,864 539.5,863.8 540,863.7 540.5,863.6 541,863.4 541.5,863.3 542,863.1 542.5,863 543,862.8 543.6,862.7 544.1,862.6 544.6,862.4 545.1,862.3 545.6,862.1 546.1,862 546.6,861.8 547.2,861.7 547.7,861.6 548.2,861.4 548.7,861.3 549.2,861.1 549.7,861 550.2,860.8 550.7,860.7 551.3,860.6 551.8,860.4 552.3,860.3 552.8,860.1 553.3,860 553.8,859.9 554.3,859.7 554.9,859.6 555.4,859.4 555.9,859.3 556.4,859.1 556.9,859 557.4,858.9 557.9,858.7 558.4,858.6 559,858.4 559.5,858.3 560,858.2 560.5,858 561,857.9 561.5,857.7 562,857.6 562.6,857.5 563.1,857.3 563.6,857.2 564.1,857 564.6,856.9 565.1,856.8 565.6,856.6 566.1,856.5 566.7,856.3 567.2,856.2 567.7,856 568.2,855.9 568.7,855.8 569.2,855.6 569.7,855.5 570.2,855.3 570.8,855.2 571.3,855.1 571.8,854.9 572.3,854.8 572.8,854.6 573.3,854.5 573.8,854.4 574.4,854.2 574.9,854.1 575.4,853.9 575.9,853.8 576.4,853.7 576.9,853.5 577.4,853.4 577.9,853.2 578.5,853.1 579,853 579.5,852.8 580,852.7 580.5,852.5 581,852.4 581.5,852.3 582.1,852.1 582.6,852 583.1,851.8 583.6,851.7 584.1,851.6 584.6,851.4 585.1,851.3 585.6,851.1 586.2,851 586.7,850.9 587.2,850.7 587.7,850.6 588.2,850.5 588.7,850.3 589.2,850.2 589.8,850 590.3,849.9 590.8,849.8 591.3,849.6 591.8,849.5 592.3,849.3 592.8,849.2 593.3,849.1 593.9,848.9 594.4,848.8 594.9,848.6 595.4,848.5 595.9,848.4 596.4,848.2 596.9,848.1 597.5,848 598,847.8 598.5,847.7 599,847.5 599.5,847.4 600,847.3 600.5,847.1 601,847 601.6,846.8 602.1,846.7 602.6,846.6 603.1,846.4 603.6,846.3 604.1,846.2 604.6,846 605.1,845.9 605.7,845.7 606.2,845.6 606.7,845.5 607.2,845.3 607.7,845.2 608.2,845.1 608.7,844.9 609.3,844.8 609.8,844.6 610.3,844.5 610.8,844.4 611.3,844.2 611.8,844.1 612.3,844 612.8,843.8 613.4,843.7 613.9,843.5 614.4,843.4 614.9,843.3 615.4,843.1 615.9,843 616.4,842.9 617,842.7 617.5,842.6 618,842.4 618.5,842.3 619,842.2 619.5,842 620,841.9 620.5,841.8 621.1,841.6 621.6,841.5 622.1,841.3 622.6,841.2 623.1,841.1 623.6,840.9 624.1,840.8 624.7,840.7 625.2,840.5 625.7,840.4 626.2,840.3 626.7,840.1 627.2,840 627.7,839.8 628.2,839.7 628.8,839.6 629.3,839.4 629.8,839.3 630.3,839.2 630.8,839 631.3,838.9 631.8,838.8 632.3,838.6 632.9,838.5 633.4,838.4 633.9,838.2 634.4,838.1 634.9,837.9 635.4,837.8 635.9,837.7 636.5,837.5 637,837.4 637.5,837.3 638,837.1 638.5,837 639,836.9 639.5,836.7 640,836.6 640.6,836.5 641.1,836.3 641.6,836.2 642.1,836 642.6,835.9 643.1,835.8 643.6,835.6 644.2,835.5 644.7,835.4 645.2,835.2 645.7,835.1 646.2,835 646.7,834.8 647.2,834.7 647.7,834.6 648.3,834.4 648.8,834.3 649.3,834.2 649.8,834 650.3,833.9 650.8,833.8 651.3,833.6 651.9,833.5 652.4,833.3 652.9,833.2 653.4,833.1 653.9,832.9 654.4,832.8 654.9,832.7 655.4,832.5 656,832.4 656.5,832.3 657,832.1 657.5,832 658,831.9 658.5,831.7 659,831.6 659.5,831.5 660.1,831.3 660.6,831.2 661.1,831.1 661.6,830.9 662.1,830.8 662.6,830.7 663.1,830.5 663.7,830.4 664.2,830.3 664.7,830.1 665.2,830 665.7,829.9 666.2,829.7 666.7,829.6 667.2,829.5 667.8,829.3 668.3,829.2 668.8,829.1 669.3,828.9 669.8,828.8 670.3,828.7 670.8,828.5 671.4,828.4 671.9,828.3 672.4,828.1 672.9,828 673.4,827.9 673.9,827.7 674.4,827.6 674.9,827.5 675.5,827.3 676,827.2 676.5,827.1 677,826.9 677.5,826.8 678,826.7 678.5,826.5 679.1,826.4 679.6,826.3 680.1,826.1 680.6,826 681.1,825.9 681.6,825.7 682.1,825.6 682.6,825.5 683.2,825.3 683.7,825.2 684.2,825.1 684.7,824.9 685.2,824.8 685.7,824.7 686.2,824.5 686.7,824.4 687.3,824.3 687.8,824.2 688.3,824 688.8,823.9 689.3,823.8 689.8,823.6 690.3,823.5 690.9,823.4 691.4,823.2 691.9,823.1 692.4,823 692.9,822.8 693.4,822.7 693.9,822.6 694.4,822.4 695,822.3 695.5,822.2 696,822 696.5,821.9 697,821.8 697.5,821.6 698,821.5 698.6,821.4 699.1,821.3 699.6,821.1 700.1,821 700.6,820.9 701.1,820.7 701.6,820.6 702.1,820.5 702.7,820.3 703.2,820.2 703.7,820.1 704.2,819.9 704.7,819.8 705.2,819.7 705.7,819.6 706.3,819.4 706.8,819.3 707.3,819.2 707.8,819 708.3,818.9 708.8,818.8 709.3,818.6 709.8,818.5 710.4,818.4 710.9,818.2 711.4,818.1 711.9,818 712.4,817.9 712.9,817.7 713.4,817.6 713.9,817.5 714.5,817.3 715,817.2 715.5,817.1 716,816.9 716.5,816.8 717,816.7 717.5,816.6 718.1,816.4 718.6,816.3 719.1,816.2 719.6,816 720.1,815.9 720.6,815.8 721.1,815.6 721.6,815.5 722.2,815.4 722.7,815.3 723.2,815.1 723.7,815 724.2,814.9 724.7,814.7 725.2,814.6 725.8,814.5 726.3,814.4 726.8,814.2 727.3,814.1 727.8,814 728.3,813.8 728.8,813.7 729.3,813.6 729.9,813.4 730.4,813.3 730.9,813.2 731.4,813.1 731.9,812.9 732.4,812.8 732.9,812.7 733.5,812.5 734,812.4 734.5,812.3 735,812.2 735.5,812 736,811.9 736.5,811.8 737,811.6 737.6,811.5 738.1,811.4 738.6,811.3 739.1,811.1 739.6,811 740.1,810.9 740.6,810.7 741.2,810.6 741.7,810.5 742.2,810.4 742.7,810.2 743.2,810.1 743.7,810 744.2,809.8 744.7,809.7 745.3,809.6 745.8,809.5 746.3,809.3 746.8,809.2 747.3,809.1 747.8,809 748.3,808.8 748.8,808.7 749.4,808.6 749.9,808.4 750.4,808.3 750.9,808.2 751.4,808.1 751.9,807.9 752.4,807.8 753,807.7 753.5,807.6 754,807.4 754.5,807.3 755,807.2 755.5,807 756,806.9 756.5,806.8 757.1,806.7 757.6,806.5 758.1,806.4 758.6,806.3 759.1,806.2 759.6,806 760.1,805.9 760.7,805.8 761.2,805.6 761.7,805.5 762.2,805.4 762.7,805.3 763.2,805.1 763.7,805 764.2,804.9 764.8,804.8 765.3,804.6 765.8,804.5 766.3,804.4 766.8,804.3 767.3,804.1 767.8,804 768.4,803.9 768.9,803.7 769.4,803.6 769.9,803.5 770.4,803.4 770.9,803.2 771.4,803.1 771.9,803 772.5,802.9 773,802.7 773.5,802.6 774,802.5 774.5,802.4 775,802.2 775.5,802.1 776,802 776.6,801.9 777.1,801.7 777.6,801.6 778.1,801.5 778.6,801.4 779.1,801.2 779.6,801.1 780.2,801 780.7,800.9 781.2,800.7 781.7,800.6 782.2,800.5 782.7,800.4 783.2,800.2 783.7,800.1 784.3,800 784.8,799.9 785.3,799.7 785.8,799.6 786.3,799.5 786.8,799.4 787.3,799.2 787.9,799.1 788.4,799 788.9,798.9 789.4,798.7 789.9,798.6 790.4,798.5 790.9,798.4 791.4,798.2 792,798.1 792.5,798 793,797.9 793.5,797.7 794,797.6 794.5,797.5 795,797.4 795.6,797.2 796.1,797.1 796.6,797 797.1,796.9 797.6,796.7 798.1,796.6 798.6,796.5 799.1,796.4 799.7,796.2 800.2,796.1 800.7,796 801.2,795.9 801.7,795.7 802.2,795.6 802.7,795.5 803.2,795.4 803.8,795.3 804.3,795.1 804.8,795 805.3,794.9 805.8,794.8 806.3,794.6 806.8,794.5 807.4,794.4 807.9,794.3 808.4,794.1 808.9,794 809.4,793.9 809.9,793.8 810.4,793.6 810.9,793.5 811.5,793.4 812,793.3 812.5,793.2 813,793" fill="none" stroke="none" marker-start="url(#mDn)" marker-mid="url(#mDn)" marker-end="url(#mDn)"/>
<polyline points="525.6,867.7 526.1,867.6 526.6,867.5 527.1,867.4 527.7,867.3 528.2,867.1 528.7,867 529.2,866.9 529.7,866.8 530.2,866.7 530.7,866.6 531.2,866.5 531.8,866.4 532.3,866.2 532.8,866.1 533.3,866 533.8,865.9 534.3,865.8 534.8,865.7 535.4,865.6 535.9,865.5 536.4,865.4 536.9,865.2 537.4,865.1 537.9,865 538.4,864.9 538.9,864.8 539.5,864.7 540,864.6 540.5,864.5 541,864.3 541.5,864.2 542,864.1 542.5,864 543,863.9 543.6,863.8 544.1,863.7 544.6,863.6 545.1,863.5 545.6,863.3 546.1,863.2 546.6,863.1 547.2,863 547.7,862.9 548.2,862.8 548.7,862.7 549.2,862.6 549.7,862.4 550.2,862.3 550.7,862.2 551.3,862.1 551.8,862 552.3,861.9 552.8,861.8 553.3,861.7 553.8,861.6 554.3,861.4 554.9,861.3 555.4,861.2 555.9,861.1 556.4,861 556.9,860.9 557.4,860.8 557.9,860.7 558.4,860.5 559,860.4 559.5,860.3 560,860.2 560.5,860.1 561,860 561.5,859.9 562,859.8 562.6,859.7 563.1,859.5 563.6,859.4 564.1,859.3 564.6,859.2 565.1,859.1 565.6,859 566.1,858.9 566.7,858.8 567.2,858.6 567.7,858.5 568.2,858.4 568.7,858.3 569.2,858.2 569.7,858.1 570.2,858 570.8,857.9 571.3,857.8 571.8,857.6 572.3,857.5 572.8,857.4 573.3,857.3 573.8,857.2 574.4,857.1 574.9,857 575.4,856.9 575.9,856.7 576.4,856.6 576.9,856.5 577.4,856.4 577.9,856.3 578.5,856.2 579,856.1 579.5,856 580,855.9 580.5,855.7 581,855.6 581.5,855.5 582.1,855.4 582.6,855.3 583.1,855.2 583.6,855.1 584.1,855 584.6,854.8 585.1,854.7 585.6,854.6 586.2,854.5 586.7,854.4 587.2,854.3 587.7,854.2 588.2,854.1 588.7,853.9 589.2,853.8 589.8,853.7 590.3,853.6 590.8,853.5 591.3,853.4 591.8,853.3 592.3,853.2 592.8,853.1 593.3,852.9 593.9,852.8 594.4,852.7 594.9,852.6 595.4,852.5 595.9,852.4 596.4,852.3 596.9,852.2 597.5,852 598,851.9 598.5,851.8 599,851.7 599.5,851.6 600,851.5 600.5,851.4 601,851.3 601.6,851.2 602.1,851 602.6,850.9 603.1,850.8 603.6,850.7 604.1,850.6 604.6,850.5 605.1,850.4 605.7,850.3 606.2,850.1 606.7,850 607.2,849.9 607.7,849.8 608.2,849.7 608.7,849.6 609.3,849.5 609.8,849.4 610.3,849.2 610.8,849.1 611.3,849 611.8,848.9 612.3,848.8 612.8,848.7 613.4,848.6 613.9,848.5 614.4,848.4 614.9,848.2 615.4,848.1 615.9,848 616.4,847.9 617,847.8 617.5,847.7 618,847.6 618.5,847.5 619,847.3 619.5,847.2 620,847.1 620.5,847 621.1,846.9 621.6,846.8 622.1,846.7 622.6,846.6 623.1,846.5 623.6,846.3 624.1,846.2 624.7,846.1 625.2,846 625.7,845.9 626.2,845.8 626.7,845.7 627.2,845.6 627.7,845.4 628.2,845.3 628.8,845.2 629.3,845.1 629.8,845 630.3,844.9 630.8,844.8 631.3,844.7 631.8,844.5 632.3,844.4 632.9,844.3 633.4,844.2 633.9,844.1 634.4,844 634.9,843.9 635.4,843.8 635.9,843.7 636.5,843.5 637,843.4 637.5,843.3 638,843.2 638.5,843.1 639,843 639.5,842.9 640,842.8 640.6,842.6 641.1,842.5 641.6,842.4 642.1,842.3 642.6,842.2 643.1,842.1 643.6,842 644.2,841.9 644.7,841.7 645.2,841.6 645.7,841.5 646.2,841.4 646.7,841.3 647.2,841.2 647.7,841.1 648.3,841 648.8,840.9 649.3,840.7 649.8,840.6 650.3,840.5 650.8,840.4 651.3,840.3 651.9,840.2 652.4,840.1 652.9,840 653.4,839.8 653.9,839.7 654.4,839.6 654.9,839.5 655.4,839.4 656,839.3 656.5,839.2 657,839.1 657.5,838.9 658,838.8 658.5,838.7 659,838.6 659.5,838.5 660.1,838.4 660.6,838.3 661.1,838.2 661.6,838.1 662.1,837.9 662.6,837.8 663.1,837.7 663.7,837.6 664.2,837.5 664.7,837.4 665.2,837.3 665.7,837.2 666.2,837 666.7,836.9 667.2,836.8 667.8,836.7 668.3,836.6 668.8,836.5 669.3,836.4 669.8,836.3 670.3,836.1 670.8,836 671.4,835.9 671.9,835.8 672.4,835.7 672.9,835.6 673.4,835.5 673.9,835.4 674.4,835.2 674.9,835.1 675.5,835 676,834.9 676.5,834.8 677,834.7 677.5,834.6 678,834.5 678.5,834.4 679.1,834.2 679.6,834.1 680.1,834 680.6,833.9 681.1,833.8 681.6,833.7 682.1,833.6 682.6,833.5 683.2,833.3 683.7,833.2 684.2,833.1 684.7,833 685.2,832.9 685.7,832.8 686.2,832.7 686.7,832.6 687.3,832.4 687.8,832.3 688.3,832.2 688.8,832.1 689.3,832 689.8,831.9 690.3,831.8 690.9,831.7 691.4,831.6 691.9,831.4 692.4,831.3 692.9,831.2 693.4,831.1 693.9,831 694.4,830.9 695,830.8 695.5,830.7 696,830.5 696.5,830.4 697,830.3 697.5,830.2 698,830.1 698.6,830 699.1,829.9 699.6,829.8 700.1,829.6 700.6,829.5 701.1,829.4 701.6,829.3 702.1,829.2 702.7,829.1 703.2,829 703.7,828.9 704.2,828.7 704.7,828.6 705.2,828.5 705.7,828.4 706.3,828.3 706.8,828.2 707.3,828.1 707.8,828 708.3,827.9 708.8,827.7 709.3,827.6 709.8,827.5 710.4,827.4 710.9,827.3 711.4,827.2 711.9,827.1 712.4,827 712.9,826.8 713.4,826.7 713.9,826.6 714.5,826.5 715,826.4 715.5,826.3 716,826.2 716.5,826.1 717,825.9 717.5,825.8 718.1,825.7 718.6,825.6 719.1,825.5 719.6,825.4 720.1,825.3 720.6,825.2 721.1,825 721.6,824.9 722.2,824.8 722.7,824.7 723.2,824.6 723.7,824.5 724.2,824.4 724.7,824.3 725.2,824.2 725.8,824 726.3,823.9 726.8,823.8 727.3,823.7 727.8,823.6 728.3,823.5 728.8,823.4 729.3,823.3 729.9,823.1 730.4,823 730.9,822.9 731.4,822.8 731.9,822.7 732.4,822.6 732.9,822.5 733.5,822.4 734,822.2 734.5,822.1 735,822 735.5,821.9 736,821.8 736.5,821.7 737,821.6 737.6,821.5 738.1,821.3 738.6,821.2 739.1,821.1 739.6,821 740.1,820.9 740.6,820.8 741.2,820.7 741.7,820.6 742.2,820.4 742.7,820.3 743.2,820.2 743.7,820.1 744.2,820 744.7,819.9 745.3,819.8 745.8,819.7 746.3,819.5 746.8,819.4 747.3,819.3 747.8,819.2 748.3,819.1 748.8,819 749.4,818.9 749.9,818.8 750.4,818.7 750.9,818.5 751.4,818.4 751.9,818.3 752.4,818.2 753,818.1 753.5,818 754,817.9 754.5,817.8 755,817.6 755.5,817.5 756,817.4 756.5,817.3 757.1,817.2 757.6,817.1 758.1,817 758.6,816.9 759.1,816.7 759.6,816.6 760.1,816.5 760.7,816.4 761.2,816.3 761.7,816.2 762.2,816.1 762.7,816 763.2,815.8 763.7,815.7 764.2,815.6 764.8,815.5 765.3,815.4 765.8,815.3 766.3,815.2 766.8,815.1 767.3,814.9 767.8,814.8 768.4,814.7 768.9,814.6 769.4,814.5 769.9,814.4 770.4,814.3 770.9,814.2 771.4,814 771.9,813.9 772.5,813.8 773,813.7 773.5,813.6 774,813.5 774.5,813.4 775,813.3 775.5,813.2 776,813 776.6,812.9 777.1,812.8 777.6,812.7 778.1,812.6 778.6,812.5 779.1,812.4 779.6,812.3 780.2,812.1 780.7,812 781.2,811.9 781.7,811.8 782.2,811.7 782.7,811.6 783.2,811.5 783.7,811.4 784.3,811.2 784.8,811.1 785.3,811 785.8,810.9 786.3,810.8 786.8,810.7 787.3,810.6 787.9,810.5 788.4,810.3 788.9,810.2 789.4,810.1 789.9,810 790.4,809.9 790.9,809.8 791.4,809.7 792,809.6 792.5,809.4 793,809.3 793.5,809.2 794,809.1 794.5,809 795,808.9 795.6,808.8 796.1,808.7 796.6,808.5 797.1,808.4 797.6,808.3 798.1,808.2 798.6,808.1 799.1,808 799.7,807.9 800.2,807.8 800.7,807.6 801.2,807.5 801.7,807.4 802.2,807.3 802.7,807.2 803.2,807.1 803.8,807 804.3,806.9 804.8,806.7 805.3,806.6 805.8,806.5 806.3,806.4 806.8,806.3 807.4,806.2 807.9,806.1 808.4,806 808.9,805.9 809.4,805.7 809.9,805.6 810.4,805.5 810.9,805.4 811.5,805.3 812,805.2 812.5,805.1 813,805 813.5,804.8 814,804.7 814.5,804.6 815.1,804.5 815.6,804.4 816.1,804.3 816.6,804.2" fill="none" stroke="none" marker-start="url(#mDi)" marker-mid="url(#mDi)" marker-end="url(#mDi)"/>
<polyline points="525.6,867.7 526.1,867.6 526.6,867.5 527.1,867.5 527.7,867.4 528.2,867.3 528.7,867.2 529.2,867.2 529.7,867.1 530.2,867 530.7,866.9 531.2,866.9 531.8,866.8 532.3,866.7 532.8,866.6 533.3,866.6 533.8,866.5 534.3,866.4 534.8,866.3 535.4,866.3 535.9,866.2 536.4,866.1 536.9,866 537.4,866 537.9,865.9 538.4,865.8 538.9,865.7 539.5,865.7 540,865.6 540.5,865.5 541,865.4 541.5,865.3 542,865.3 542.5,865.2 543,865.1 543.6,865 544.1,865 544.6,864.9 545.1,864.8 545.6,864.7 546.1,864.7 546.6,864.6 547.2,864.5 547.7,864.4 548.2,864.4 548.7,864.3 549.2,864.2 549.7,864.1 550.2,864 550.7,864 551.3,863.9 551.8,863.8 552.3,863.7 552.8,863.7 553.3,863.6 553.8,863.5 554.3,863.4 554.9,863.4 555.4,863.3 555.9,863.2 556.4,863.1 556.9,863 557.4,863 557.9,862.9 558.4,862.8 559,862.7 559.5,862.7 560,862.6 560.5,862.5 561,862.4 561.5,862.4 562,862.3 562.6,862.2 563.1,862.1 563.6,862 564.1,862 564.6,861.9 565.1,861.8 565.6,861.7 566.1,861.7 566.7,861.6 567.2,861.5 567.7,861.4 568.2,861.3 568.7,861.3 569.2,861.2 569.7,861.1 570.2,861 570.8,861 571.3,860.9 571.8,860.8 572.3,860.7 572.8,860.6 573.3,860.6 573.8,860.5 574.4,860.4 574.9,860.3 575.4,860.3 575.9,860.2 576.4,860.1 576.9,860 577.4,859.9 577.9,859.9 578.5,859.8 579,859.7 579.5,859.6 580,859.6 580.5,859.5 581,859.4 581.5,859.3 582.1,859.2 582.6,859.2 583.1,859.1 583.6,859 584.1,858.9 584.6,858.9 585.1,858.8 585.6,858.7 586.2,858.6 586.7,858.5 587.2,858.5 587.7,858.4 588.2,858.3 588.7,858.2 589.2,858.1 589.8,858.1 590.3,858 590.8,857.9 591.3,857.8 591.8,857.8 592.3,857.7 592.8,857.6 593.3,857.5 593.9,857.4 594.4,857.4 594.9,857.3 595.4,857.2 595.9,857.1 596.4,857 596.9,857 597.5,856.9 598,856.8 598.5,856.7 599,856.6 599.5,856.6 600,856.5 600.5,856.4 601,856.3 601.6,856.2 602.1,856.2 602.6,856.1 603.1,856 603.6,855.9 604.1,855.9 604.6,855.8 605.1,855.7 605.7,855.6 606.2,855.5 606.7,855.5 607.2,855.4 607.7,855.3 608.2,855.2 608.7,855.1 609.3,855.1 609.8,855 610.3,854.9 610.8,854.8 611.3,854.7 611.8,854.7 612.3,854.6 612.8,854.5 613.4,854.4 613.9,854.3 614.4,854.3 614.9,854.2 615.4,854.1 615.9,854 616.4,853.9 617,853.9 617.5,853.8 618,853.7 618.5,853.6 619,853.5 619.5,853.5 620,853.4 620.5,853.3 621.1,853.2 621.6,853.1 622.1,853.1 622.6,853 623.1,852.9 623.6,852.8 624.1,852.7 624.7,852.7 625.2,852.6 625.7,852.5 626.2,852.4 626.7,852.3 627.2,852.3 627.7,852.2 628.2,852.1 628.8,852 629.3,851.9 629.8,851.8 630.3,851.8 630.8,851.7 631.3,851.6 631.8,851.5 632.3,851.4 632.9,851.4 633.4,851.3 633.9,851.2 634.4,851.1 634.9,851 635.4,851 635.9,850.9 636.5,850.8 637,850.7 637.5,850.6 638,850.6 638.5,850.5 639,850.4 639.5,850.3 640,850.2 640.6,850.1 641.1,850.1 641.6,850 642.1,849.9 642.6,849.8 643.1,849.7 643.6,849.7 644.2,849.6 644.7,849.5 645.2,849.4 645.7,849.3 646.2,849.2 646.7,849.2 647.2,849.1 647.7,849 648.3,848.9 648.8,848.8 649.3,848.8 649.8,848.7 650.3,848.6 650.8,848.5 651.3,848.4 651.9,848.4 652.4,848.3 652.9,848.2 653.4,848.1 653.9,848 654.4,847.9 654.9,847.9 655.4,847.8 656,847.7 656.5,847.6 657,847.5 657.5,847.4 658,847.4 658.5,847.3 659,847.2 659.5,847.1 660.1,847 660.6,847 661.1,846.9 661.6,846.8 662.1,846.7 662.6,846.6 663.1,846.5 663.7,846.5 664.2,846.4 664.7,846.3 665.2,846.2 665.7,846.1 666.2,846 666.7,846 667.2,845.9 667.8,845.8 668.3,845.7 668.8,845.6 669.3,845.6 669.8,845.5 670.3,845.4 670.8,845.3 671.4,845.2 671.9,845.1 672.4,845.1 672.9,845 673.4,844.9 673.9,844.8 674.4,844.7 674.9,844.6 675.5,844.6 676,844.5 676.5,844.4 677,844.3 677.5,844.2 678,844.1 678.5,844.1 679.1,844 679.6,843.9 680.1,843.8 680.6,843.7 681.1,843.6 681.6,843.6 682.1,843.5 682.6,843.4 683.2,843.3 683.7,843.2 684.2,843.1 684.7,843.1 685.2,843 685.7,842.9 686.2,842.8 686.7,842.7 687.3,842.6 687.8,842.6 688.3,842.5 688.8,842.4 689.3,842.3 689.8,842.2 690.3,842.1 690.9,842.1 691.4,842 691.9,841.9 692.4,841.8 692.9,841.7 693.4,841.6 693.9,841.5 694.4,841.5 695,841.4 695.5,841.3 696,841.2 696.5,841.1 697,841 697.5,841 698,840.9 698.6,840.8 699.1,840.7 699.6,840.6 700.1,840.5 700.6,840.5 701.1,840.4 701.6,840.3 702.1,840.2 702.7,840.1 703.2,840 703.7,839.9 704.2,839.9 704.7,839.8 705.2,839.7 705.7,839.6 706.3,839.5 706.8,839.4 707.3,839.4 707.8,839.3 708.3,839.2 708.8,839.1 709.3,839 709.8,838.9 710.4,838.8 710.9,838.8 711.4,838.7 711.9,838.6 712.4,838.5 712.9,838.4 713.4,838.3 713.9,838.3 714.5,838.2 715,838.1 715.5,838 716,837.9 716.5,837.8 717,837.7 717.5,837.7 718.1,837.6 718.6,837.5 719.1,837.4 719.6,837.3 720.1,837.2 720.6,837.1 721.1,837.1 721.6,837 722.2,836.9 722.7,836.8 723.2,836.7 723.7,836.6 724.2,836.5 724.7,836.5 725.2,836.4 725.8,836.3 726.3,836.2 726.8,836.1 727.3,836 727.8,835.9 728.3,835.9 728.8,835.8 729.3,835.7 729.9,835.6 730.4,835.5 730.9,835.4 731.4,835.3 731.9,835.3 732.4,835.2 732.9,835.1 733.5,835 734,834.9 734.5,834.8 735,834.7 735.5,834.7 736,834.6 736.5,834.5 737,834.4 737.6,834.3 738.1,834.2 738.6,834.1 739.1,834.1 739.6,834 740.1,833.9 740.6,833.8 741.2,833.7 741.7,833.6 742.2,833.5 742.7,833.5 743.2,833.4 743.7,833.3 744.2,833.2 744.7,833.1 745.3,833 745.8,832.9 746.3,832.8 746.8,832.8 747.3,832.7 747.8,832.6 748.3,832.5 748.8,832.4 749.4,832.3 749.9,832.2 750.4,832.2 750.9,832.1 751.4,832 751.9,831.9 752.4,831.8 753,831.7 753.5,831.6 754,831.5 754.5,831.5 755,831.4 755.5,831.3 756,831.2 756.5,831.1 757.1,831 757.6,830.9 758.1,830.8 758.6,830.8 759.1,830.7 759.6,830.6 760.1,830.5 760.7,830.4 761.2,830.3 761.7,830.2 762.2,830.1 762.7,830.1 763.2,830 763.7,829.9 764.2,829.8 764.8,829.7 765.3,829.6 765.8,829.5 766.3,829.4 766.8,829.4 767.3,829.3 767.8,829.2 768.4,829.1 768.9,829 769.4,828.9 769.9,828.8 770.4,828.7 770.9,828.7 771.4,828.6 771.9,828.5 772.5,828.4 773,828.3 773.5,828.2 774,828.1 774.5,828 775,827.9 775.5,827.9 776,827.8 776.6,827.7 777.1,827.6 777.6,827.5 778.1,827.4 778.6,827.3 779.1,827.2 779.6,827.2 780.2,827.1 780.7,827 781.2,826.9 781.7,826.8 782.2,826.7 782.7,826.6 783.2,826.5 783.7,826.4 784.3,826.4 784.8,826.3 785.3,826.2 785.8,826.1 786.3,826 786.8,825.9 787.3,825.8 787.9,825.7 788.4,825.6 788.9,825.6 789.4,825.5 789.9,825.4 790.4,825.3 790.9,825.2 791.4,825.1 792,825 792.5,824.9 793,824.8 793.5,824.8 794,824.7 794.5,824.6 795,824.5 795.6,824.4 796.1,824.3 796.6,824.2 797.1,824.1 797.6,824 798.1,824 798.6,823.9 799.1,823.8 799.7,823.7 800.2,823.6 800.7,823.5 801.2,823.4 801.7,823.3 802.2,823.2 802.7,823.2 803.2,823.1 803.8,823 804.3,822.9 804.8,822.8 805.3,822.7 805.8,822.6 806.3,822.5 806.8,822.4 807.4,822.3 807.9,822.3 808.4,822.2 808.9,822.1 809.4,822 809.9,821.9 810.4,821.8 810.9,821.7 811.5,821.6 812,821.5 812.5,821.4 813,821.4" fill="none" stroke="none" marker-start="url(#mLt)" marker-mid="url(#mLt)" marker-end="url(#mLt)"/>
</g>
<text transform="translate(525,892.1) scale(0.972,1)" font-size="19.8" text-anchor="middle" >0</text>
<text transform="translate(607.11,892.1) scale(0.972,1)" font-size="19.8" text-anchor="middle" >2</text>
<text transform="translate(689.23,892.1) scale(0.972,1)" font-size="19.8" text-anchor="middle" >4</text>
<text transform="translate(771.34,892.1) scale(0.972,1)" font-size="19.8" text-anchor="middle" >6</text>
<text transform="translate(516.2,873.4) scale(0.972,1)" font-size="19.8" text-anchor="end" >0.0</text>
<text transform="translate(516.2,800.05) scale(0.972,1)" font-size="19.8" text-anchor="end" >0.1</text>
<text transform="translate(516.2,726.7) scale(0.972,1)" font-size="19.8" text-anchor="end" >0.2</text>
<text transform="translate(516.2,653.35) scale(0.972,1)" font-size="19.8" text-anchor="end" >0.3</text>
<text transform="translate(516.2,580) scale(0.972,1)" font-size="19.8" text-anchor="end" >0.4</text>
<text x="668.7" y="930" font-size="26" text-anchor="middle" >B (T)</text>
<text transform="translate(475.3,721.2) rotate(-90)" font-size="26" text-anchor="middle">M (&#956;<tspan font-size="17.5" dy="5.5">B</tspan><tspan dy="-5.5">/Ce</tspan><tspan font-size="17.5" dy="-10.5">3+</tspan><tspan dy="10.5">)</tspan></text>
<text x="634.5" y="616.3" font-size="22.8" text-anchor="start" >B // a</text>
<text x="706" y="616.3" font-size="25.3" text-anchor="start" >(d)</text>
<path d="M536.9 605.3H576.4" stroke="#000" stroke-width="1.1" fill="none"/>
<rect x="553" y="602" width="6.6" height="6.6" fill="#fff" stroke="#000" stroke-width="1.2"/>
<text x="580.6" y="611.5" font-size="16.6" text-anchor="start" >3 K</text>
<path d="M536.9 627.1H576.4" stroke="#f00" stroke-width="1.1" fill="none"/>
<circle cx="556.3" cy="627.07" r="3.85" fill="#fff" stroke="#f00" stroke-width="1.2"/>
<text x="580.6" y="633.3" font-size="16.6" text-anchor="start" >5 K</text>
<path d="M536.9 648.8H576.4" stroke="#0f0" stroke-width="1.1" fill="none"/>
<path d="M556.3 644.24L560.3 651.14L552.3 651.14Z" fill="#fff" stroke="#0f0" stroke-width="1.2"/>
<text x="580.6" y="655" font-size="16.6" text-anchor="start" >10 K</text>
<path d="M536.9 670.6H576.4" stroke="#00f" stroke-width="1.1" fill="none"/>
<path d="M556.3 675.21L560.3 668.31L552.3 668.31Z" fill="#fff" stroke="#00f" stroke-width="1.2"/>
<text x="580.6" y="676.8" font-size="16.6" text-anchor="start" >15 K</text>
<path d="M536.9 692.4H576.4" stroke="#f0f" stroke-width="1.1" fill="none"/>
<path d="M556.3 687.98L560.7 692.38L556.3 696.78L551.9 692.38Z" fill="#fff" stroke="#f0f" stroke-width="1.2"/>
<text x="580.6" y="698.6" font-size="16.6" text-anchor="start" >20 K</text>
<path d="M536.9 714.1H576.4" stroke="#800080" stroke-width="1.1" fill="none"/>
<path d="M551.7 714.15L558.6 710.15L558.6 718.15Z" fill="#fff" stroke="#800080" stroke-width="1.2"/>
<text x="580.6" y="720.4" font-size="16.6" text-anchor="start" >30 K</text>
</g>
</svg>
</body></html>
